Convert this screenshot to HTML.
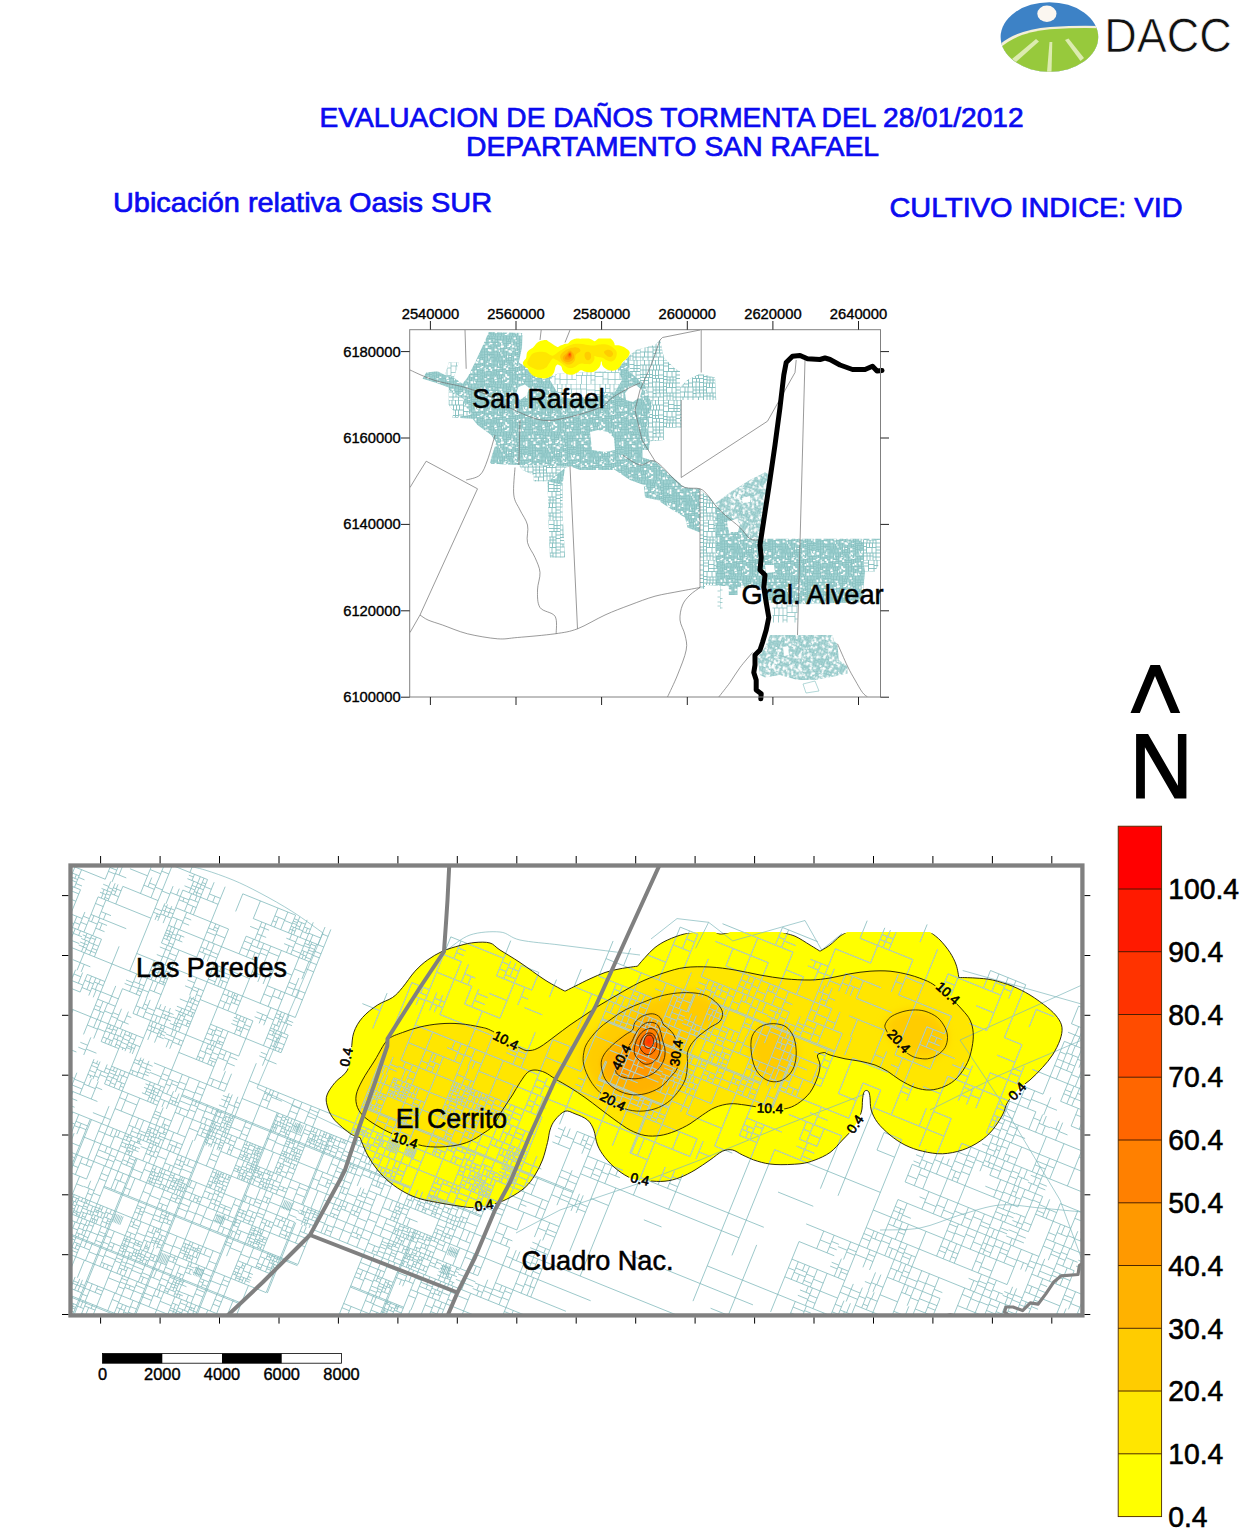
<!DOCTYPE html>
<html><head><meta charset="utf-8"><title>DACC</title>
<style>
html,body{margin:0;padding:0;background:#fff;}
body{width:1240px;height:1533px;overflow:hidden;font-family:"Liberation Sans",sans-serif;}
svg{display:block;}
text{font-family:"Liberation Sans",sans-serif;}
</style></head><body>
<svg width="1240" height="1533" viewBox="0 0 1240 1533">
<g id="logo">
<clipPath id="lgc"><ellipse cx="1049.4" cy="37" rx="48.8" ry="34.8"/></clipPath>
<g clip-path="url(#lgc)">
<rect x="1000" y="0" width="100" height="75" fill="#3d82c6"/>
<path d="M998 46 Q1015 30 1050 27 Q1080 25 1100 26 L1100 80 L998 80Z" fill="#f4efd8"/>
<path d="M998 50 Q1015 32.5 1050 29.3 Q1080 27.3 1100 28.3 L1100 80 L998 80Z" fill="#97c93c"/>
<path d="M1036 39 L1012 59 L1016 62 L1039 41.5Z" fill="#dcebb0"/>
<path d="M1049.5 42 L1047 72 L1051.5 72 L1052.3 42Z" fill="#dcebb0"/>
<path d="M1065 40 L1080.5 61 L1084 58 L1068.5 38.5Z" fill="#dcebb0"/>
<ellipse cx="1046.9" cy="13.8" rx="9.6" ry="8.2" fill="#fbf6f0"/>
</g></g>
<text id="dacc" x="1104.3" y="52.4" font-size="48" fill="#111" stroke="#fff" stroke-width="0.7" textLength="127.5" lengthAdjust="spacingAndGlyphs">DACC</text>
<text id="t1" stroke="#0b0bf0" stroke-width="0.7" x="319.6" y="127.3" font-size="27" fill="#0b0bf0" textLength="704" lengthAdjust="spacingAndGlyphs">EVALUACION DE DAÑOS TORMENTA DEL 28/01/2012</text>
<text id="t2" stroke="#0b0bf0" stroke-width="0.7" x="466" y="155.6" font-size="27" fill="#0b0bf0" textLength="413" lengthAdjust="spacingAndGlyphs">DEPARTAMENTO SAN RAFAEL</text>
<text id="t3" stroke="#0b0bf0" stroke-width="0.7" x="113" y="212.3" font-size="28.3" fill="#0b0bf0" textLength="379" lengthAdjust="spacingAndGlyphs">Ubicación relativa Oasis SUR</text>
<text id="t4" stroke="#0b0bf0" stroke-width="0.7" x="889.5" y="217.4" font-size="28" fill="#0b0bf0" textLength="293" lengthAdjust="spacingAndGlyphs">CULTIVO INDICE: VID</text>
<defs>
<clipPath id="c104"><path d="M387.5 1040C392.1 1035.4 397.1 1034.7 402.5 1032.5C407.9 1030.3 413.8 1028.5 420 1027C426.2 1025.5 433.3 1024.3 440 1023.8C446.7 1023.2 453.3 1023.2 460 1023.8C466.7 1024.3 474.6 1025.8 480 1027C485.4 1028.2 485.8 1027.8 492.5 1031.2C499.2 1034.8 513.8 1044.8 520 1048C526.2 1051.2 526.7 1050.7 530 1050.5C533.3 1050.3 535.8 1049.4 540 1047C544.2 1044.6 550 1039.9 555 1036.2C560 1032.6 565 1028.5 570 1025C575 1021.5 580 1018.3 585 1015C590 1011.7 595 1008.1 600 1005C605 1001.9 610 999.2 615 996.2C620 993.3 625 990.2 630 987.5C635 984.8 639.2 982.5 645 980C650.8 977.5 658.3 974.6 665 972.5C671.7 970.4 677.5 968.4 685 967.5C692.5 966.6 701.7 966.6 710 967C718.3 967.4 726.7 968.7 735 970C743.3 971.3 751.7 973.5 760 975C768.3 976.5 776.7 977.9 785 978.8C793.3 979.6 802.5 980.1 810 980C817.5 979.9 823.3 979 830 978C836.7 977 843.3 974.9 850 973.8C856.7 972.6 863.3 971.7 870 971.2C876.7 970.8 883.3 970.6 890 971.2C896.7 971.9 903.8 973.3 910 975C916.2 976.7 922.9 979.2 927.5 981.2C932.1 983.3 933.8 984.8 937.5 987.5C941.2 990.2 945.8 993.8 950 997.5C954.2 1001.2 959.2 1006.2 962.5 1010C965.8 1013.8 968.2 1016.2 970 1020C971.8 1023.8 972.9 1027.9 973.2 1032.5C973.6 1037.1 973 1042.5 972 1047.5C971 1052.5 969.9 1057.5 967.5 1062.5C965.1 1067.5 961.2 1073.5 957.5 1077.5C953.8 1081.5 949.6 1084.2 945 1086.2C940.4 1088.3 935 1089.8 930 1090C925 1090.2 920 1089.2 915 1087.5C910 1085.8 904.6 1082.7 900 1080C895.4 1077.3 891.7 1073.8 887.5 1071.2C883.3 1068.8 879.6 1066.7 875 1065C870.4 1063.3 865 1062.3 860 1061.2C855 1060.2 850 1059.8 845 1058.8C840 1057.7 833.3 1056 830 1055C826.7 1054 825 1052.5 825 1052.5C825 1052.5 818.3 1052.9 817.5 1055C816.7 1057.1 820 1061.2 820 1065C820 1068.8 819.2 1072.9 817.5 1077.5C815.8 1082.1 813.3 1088.1 810 1092.5C806.7 1096.9 801.7 1101 797.5 1103.8C793.3 1106.5 789.6 1108 785 1108.8C780.4 1109.5 774.6 1108.3 770 1108C765.4 1107.7 761.7 1107.5 757.5 1107C753.3 1106.5 749.6 1105.5 745 1105C740.4 1104.5 735 1103.3 730 1103.8C725 1104.2 719.6 1105.6 715 1107.5C710.4 1109.4 706.7 1112.3 702.5 1115C698.3 1117.7 694.6 1121 690 1123.8C685.4 1126.5 680 1129.3 675 1131.2C670 1133.2 665 1134.8 660 1135.5C655 1136.2 650 1136.4 645 1135.5C640 1134.6 635 1132.6 630 1130C625 1127.4 620 1123.5 615 1120C610 1116.5 605 1112.5 600 1108.8C595 1105 590 1101 585 1097.5C580 1094 575 1090.6 570 1087.5C565 1084.4 559.2 1081.2 555 1078.8C550.8 1076.2 548.3 1074 545 1072.5C541.7 1071 537.9 1070 535 1070C532.1 1070 530 1070.4 527.5 1072.5C525 1074.6 522.5 1078.8 520 1082.5C517.5 1086.2 515.4 1090.4 512.5 1095C509.6 1099.6 505.8 1104.8 502.5 1110C499.2 1115.2 495.8 1122.3 492.5 1126.2C489.2 1130.2 486.2 1131.2 482.5 1133.8C478.8 1136.2 474.6 1139.3 470 1141.2C465.4 1143.2 460.8 1144.5 455 1145.5C449.2 1146.5 441.2 1147.2 435 1147C428.8 1146.8 424.2 1146.5 417.5 1144.5C410.8 1142.5 401.2 1137.8 395 1135C388.8 1132.2 385 1130.4 380 1127.5C375 1124.6 368.8 1120.8 365 1117.5C361.2 1114.2 359 1111.2 357.5 1107.5C356 1103.8 355.4 1099.6 356.2 1095C357.1 1090.4 359.4 1085.8 362.5 1080C365.6 1074.2 370.8 1066.7 375 1060C379.2 1053.3 382.9 1044.6 387.5 1040Z"/></clipPath>
<clipPath id="c04"><path d="M442.5 951.2C447.9 948.8 454.6 947 460 945.5C465.4 944 470 942.9 475 942.5C480 942.1 485.8 941.8 490 943C494.2 944.2 495 946.8 500 950C505 953.2 512.5 957.5 520 962.5C527.5 967.5 537.5 975.2 545 980C552.5 984.8 565 991.2 565 991.2C565 991.2 570.8 988.3 575 986.2C579.2 984.2 585 981 590 978.8C595 976.5 600 974.2 605 972.5C610 970.8 614.6 969.8 620 968.8C625.4 967.7 637.5 966.2 637.5 966.2C637.5 966.2 642.1 960.6 645 957.5C647.9 954.4 651.2 950.4 655 947.5C658.8 944.6 662.5 942.3 667.5 940C672.5 937.7 679.6 935.1 685 933.8C690.4 932.4 700 932 700 932C700 932 715 932 715 932C715 932 717.9 933.8 720 934C722.1 934.2 725.8 933.3 727.5 933C729.2 932.7 730 932 730 932C730 932 780 932 780 932C780 932 790 934.1 795 936.2C800 938.4 805.8 942.5 810 945C814.2 947.5 820 951.2 820 951.2C820 951.2 826.7 947.5 830 945C833.3 942.5 837.1 938.4 840 936.2C842.9 934.1 847.5 932 847.5 932C847.5 932 930 932 930 932C930 932 936.7 936.6 940 940C943.3 943.4 947.3 948.3 950 952.5C952.7 956.7 954.8 960.8 956.2 965C957.7 969.2 958.8 977.5 958.8 977.5C958.8 977.5 969.4 977.6 975 978C980.6 978.4 986.2 978.6 992.5 980C998.8 981.4 1006.2 983.8 1012.5 986.2C1018.8 988.8 1024.2 991.5 1030 995C1035.8 998.5 1042.9 1003.8 1047.5 1007.5C1052.1 1011.2 1055.1 1014.2 1057.5 1017.5C1059.9 1020.8 1061.6 1023.8 1062 1027.5C1062.4 1031.2 1061.6 1035.4 1060 1040C1058.4 1044.6 1055.4 1050.4 1052.5 1055C1049.6 1059.6 1046.2 1063.3 1042.5 1067.5C1038.8 1071.7 1034.2 1076.2 1030 1080C1025.8 1083.8 1021.2 1086.2 1017.5 1090C1013.8 1093.8 1010 1098.3 1007.5 1102.5C1005 1106.7 1005 1110.4 1002.5 1115C1000 1119.6 996.2 1125.6 992.5 1130C988.8 1134.4 985 1137.9 980 1141.2C975 1144.6 968.8 1147.9 962.5 1150C956.2 1152.1 949.2 1153.5 942.5 1153.8C935.8 1154 928.8 1152.7 922.5 1151.2C916.2 1149.8 910.4 1147.7 905 1145C899.6 1142.3 894.6 1138.8 890 1135C885.4 1131.2 880.6 1126.7 877.5 1122.5C874.4 1118.3 872.5 1114.2 871.2 1110C870 1105.8 870.4 1100.5 870 1097.5C869.6 1094.5 869.4 1093.2 868.8 1092C868.1 1090.8 867.1 1090.4 866.2 1090.5C865.4 1090.6 864.4 1090.9 863.8 1092.5C863.1 1094.1 862.9 1096.7 862.5 1100C862.1 1103.3 862.7 1107.9 861.2 1112.5C859.8 1117.1 856.9 1122.9 853.8 1127.5C850.6 1132.1 846.5 1135.8 842.5 1140C838.5 1144.2 834.6 1149.2 830 1152.5C825.4 1155.8 820 1158.1 815 1160C810 1161.9 806.7 1163 800 1163.8C793.3 1164.5 782.1 1164.9 775 1164.5C767.9 1164.1 762.9 1162.8 757.5 1161.2C752.1 1159.7 746.7 1156.9 742.5 1155C738.3 1153.1 735.8 1150.6 732.5 1150C729.2 1149.4 726.2 1149.6 722.5 1151.2C718.8 1152.9 714.6 1156.9 710 1160C705.4 1163.1 700 1167.1 695 1170C690 1172.9 685 1175.6 680 1177.5C675 1179.4 670.4 1180.7 665 1181.2C659.6 1181.8 652.9 1181.2 647.5 1180.8C642.1 1180.3 637.5 1180.5 632.5 1178.8C627.5 1177 622.1 1173.5 617.5 1170C612.9 1166.5 608.3 1161.7 605 1157.5C601.7 1153.3 599.4 1149.6 597.5 1145C595.6 1140.4 595.4 1134.2 593.8 1130C592.1 1125.8 590.6 1122.7 587.5 1120C584.4 1117.3 578.8 1115.2 575 1113.8C571.2 1112.3 568.3 1110.2 565 1111.2C561.7 1112.3 557.5 1116.9 555 1120C552.5 1123.1 551.2 1126.2 550 1130C548.8 1133.8 548.8 1137.5 547.5 1142.5C546.2 1147.5 544.6 1154.6 542.5 1160C540.4 1165.4 537.9 1170.4 535 1175C532.1 1179.6 529.2 1183.8 525 1187.5C520.8 1191.2 515 1194.8 510 1197.5C505 1200.2 500.8 1202.1 495 1203.8C489.2 1205.4 480.8 1207.1 475 1207.5C469.2 1207.9 466.2 1207.1 460 1206.2C453.8 1205.4 444.2 1203.8 437.5 1202.5C430.8 1201.2 425.4 1200.4 420 1198.8C414.6 1197.1 410 1195.2 405 1192.5C400 1189.8 394.6 1186.2 390 1182.5C385.4 1178.8 381.2 1174.6 377.5 1170C373.8 1165.4 370.4 1160.4 367.5 1155C364.6 1149.6 360 1137.5 360 1137.5C360 1137.5 355.4 1136.7 352.5 1135C349.6 1133.3 345.8 1130.4 342.5 1127.5C339.2 1124.6 335.1 1121.2 332.5 1117.5C329.9 1113.8 327.9 1108.8 327 1105C326.1 1101.2 325.7 1098.8 327 1095C328.3 1091.2 331.6 1086.7 335 1082.5C338.4 1078.3 344.8 1075.4 347.5 1070C350.2 1064.6 350.2 1056.2 351.2 1050C352.3 1043.8 351.9 1037.9 353.8 1032.5C355.6 1027.1 358.5 1022.1 362.5 1017.5C366.5 1012.9 372.5 1008.3 377.5 1005C382.5 1001.7 388.3 1000.4 392.5 997.5C396.7 994.6 398.8 991.9 402.5 987.5C406.2 983.1 410.8 975.8 415 971.2C419.2 966.7 422.9 963.3 427.5 960C432.1 956.7 437.1 953.7 442.5 951.2Z"/></clipPath>
<filter id="b7" x="-30%" y="-30%" width="160%" height="160%"><feGaussianBlur stdDeviation="4.5"/></filter>
<filter id="b4" x="-30%" y="-30%" width="160%" height="160%"><feGaussianBlur stdDeviation="2.8"/></filter>
<filter id="b25" x="-30%" y="-30%" width="160%" height="160%"><feGaussianBlur stdDeviation="1.8"/></filter>
<filter id="b12" x="-30%" y="-30%" width="160%" height="160%"><feGaussianBlur stdDeviation="1.0"/></filter>
<g id="fills">
<path d="M442.5 951.2C447.9 948.8 454.6 947 460 945.5C465.4 944 470 942.9 475 942.5C480 942.1 485.8 941.8 490 943C494.2 944.2 495 946.8 500 950C505 953.2 512.5 957.5 520 962.5C527.5 967.5 537.5 975.2 545 980C552.5 984.8 565 991.2 565 991.2C565 991.2 570.8 988.3 575 986.2C579.2 984.2 585 981 590 978.8C595 976.5 600 974.2 605 972.5C610 970.8 614.6 969.8 620 968.8C625.4 967.7 637.5 966.2 637.5 966.2C637.5 966.2 642.1 960.6 645 957.5C647.9 954.4 651.2 950.4 655 947.5C658.8 944.6 662.5 942.3 667.5 940C672.5 937.7 679.6 935.1 685 933.8C690.4 932.4 700 932 700 932C700 932 715 932 715 932C715 932 717.9 933.8 720 934C722.1 934.2 725.8 933.3 727.5 933C729.2 932.7 730 932 730 932C730 932 780 932 780 932C780 932 790 934.1 795 936.2C800 938.4 805.8 942.5 810 945C814.2 947.5 820 951.2 820 951.2C820 951.2 826.7 947.5 830 945C833.3 942.5 837.1 938.4 840 936.2C842.9 934.1 847.5 932 847.5 932C847.5 932 930 932 930 932C930 932 936.7 936.6 940 940C943.3 943.4 947.3 948.3 950 952.5C952.7 956.7 954.8 960.8 956.2 965C957.7 969.2 958.8 977.5 958.8 977.5C958.8 977.5 969.4 977.6 975 978C980.6 978.4 986.2 978.6 992.5 980C998.8 981.4 1006.2 983.8 1012.5 986.2C1018.8 988.8 1024.2 991.5 1030 995C1035.8 998.5 1042.9 1003.8 1047.5 1007.5C1052.1 1011.2 1055.1 1014.2 1057.5 1017.5C1059.9 1020.8 1061.6 1023.8 1062 1027.5C1062.4 1031.2 1061.6 1035.4 1060 1040C1058.4 1044.6 1055.4 1050.4 1052.5 1055C1049.6 1059.6 1046.2 1063.3 1042.5 1067.5C1038.8 1071.7 1034.2 1076.2 1030 1080C1025.8 1083.8 1021.2 1086.2 1017.5 1090C1013.8 1093.8 1010 1098.3 1007.5 1102.5C1005 1106.7 1005 1110.4 1002.5 1115C1000 1119.6 996.2 1125.6 992.5 1130C988.8 1134.4 985 1137.9 980 1141.2C975 1144.6 968.8 1147.9 962.5 1150C956.2 1152.1 949.2 1153.5 942.5 1153.8C935.8 1154 928.8 1152.7 922.5 1151.2C916.2 1149.8 910.4 1147.7 905 1145C899.6 1142.3 894.6 1138.8 890 1135C885.4 1131.2 880.6 1126.7 877.5 1122.5C874.4 1118.3 872.5 1114.2 871.2 1110C870 1105.8 870.4 1100.5 870 1097.5C869.6 1094.5 869.4 1093.2 868.8 1092C868.1 1090.8 867.1 1090.4 866.2 1090.5C865.4 1090.6 864.4 1090.9 863.8 1092.5C863.1 1094.1 862.9 1096.7 862.5 1100C862.1 1103.3 862.7 1107.9 861.2 1112.5C859.8 1117.1 856.9 1122.9 853.8 1127.5C850.6 1132.1 846.5 1135.8 842.5 1140C838.5 1144.2 834.6 1149.2 830 1152.5C825.4 1155.8 820 1158.1 815 1160C810 1161.9 806.7 1163 800 1163.8C793.3 1164.5 782.1 1164.9 775 1164.5C767.9 1164.1 762.9 1162.8 757.5 1161.2C752.1 1159.7 746.7 1156.9 742.5 1155C738.3 1153.1 735.8 1150.6 732.5 1150C729.2 1149.4 726.2 1149.6 722.5 1151.2C718.8 1152.9 714.6 1156.9 710 1160C705.4 1163.1 700 1167.1 695 1170C690 1172.9 685 1175.6 680 1177.5C675 1179.4 670.4 1180.7 665 1181.2C659.6 1181.8 652.9 1181.2 647.5 1180.8C642.1 1180.3 637.5 1180.5 632.5 1178.8C627.5 1177 622.1 1173.5 617.5 1170C612.9 1166.5 608.3 1161.7 605 1157.5C601.7 1153.3 599.4 1149.6 597.5 1145C595.6 1140.4 595.4 1134.2 593.8 1130C592.1 1125.8 590.6 1122.7 587.5 1120C584.4 1117.3 578.8 1115.2 575 1113.8C571.2 1112.3 568.3 1110.2 565 1111.2C561.7 1112.3 557.5 1116.9 555 1120C552.5 1123.1 551.2 1126.2 550 1130C548.8 1133.8 548.8 1137.5 547.5 1142.5C546.2 1147.5 544.6 1154.6 542.5 1160C540.4 1165.4 537.9 1170.4 535 1175C532.1 1179.6 529.2 1183.8 525 1187.5C520.8 1191.2 515 1194.8 510 1197.5C505 1200.2 500.8 1202.1 495 1203.8C489.2 1205.4 480.8 1207.1 475 1207.5C469.2 1207.9 466.2 1207.1 460 1206.2C453.8 1205.4 444.2 1203.8 437.5 1202.5C430.8 1201.2 425.4 1200.4 420 1198.8C414.6 1197.1 410 1195.2 405 1192.5C400 1189.8 394.6 1186.2 390 1182.5C385.4 1178.8 381.2 1174.6 377.5 1170C373.8 1165.4 370.4 1160.4 367.5 1155C364.6 1149.6 360 1137.5 360 1137.5C360 1137.5 355.4 1136.7 352.5 1135C349.6 1133.3 345.8 1130.4 342.5 1127.5C339.2 1124.6 335.1 1121.2 332.5 1117.5C329.9 1113.8 327.9 1108.8 327 1105C326.1 1101.2 325.7 1098.8 327 1095C328.3 1091.2 331.6 1086.7 335 1082.5C338.4 1078.3 344.8 1075.4 347.5 1070C350.2 1064.6 350.2 1056.2 351.2 1050C352.3 1043.8 351.9 1037.9 353.8 1032.5C355.6 1027.1 358.5 1022.1 362.5 1017.5C366.5 1012.9 372.5 1008.3 377.5 1005C382.5 1001.7 388.3 1000.4 392.5 997.5C396.7 994.6 398.8 991.9 402.5 987.5C406.2 983.1 410.8 975.8 415 971.2C419.2 966.7 422.9 963.3 427.5 960C432.1 956.7 437.1 953.7 442.5 951.2Z" fill="#ffff00"/>
<g clip-path="url(#c104)">
<rect x="340" y="950" width="650" height="210" fill="#ffe600"/>
<g filter="url(#b7)">
<path d="M583.8 1052.5C584.4 1048.8 585.2 1046.2 587.5 1042.5C589.8 1038.8 593.8 1033.8 597.5 1030C601.2 1026.2 605.4 1023.3 610 1020C614.6 1016.7 619.6 1012.9 625 1010C630.4 1007.1 636.7 1004.8 642.5 1002.5C648.3 1000.2 654.2 997.8 660 996.2C665.8 994.7 671.7 993.5 677.5 993C683.3 992.5 690 992.5 695 993C700 993.5 703.8 994.5 707.5 996.2C711.2 998 715 1001 717.5 1003.8C720 1006.5 722.1 1009.6 722.5 1012.5C722.9 1015.4 722.1 1018.8 720 1021.2C717.9 1023.8 713.3 1025.2 710 1027.5C706.7 1029.8 702.9 1032.5 700 1035C697.1 1037.5 694.6 1039.6 692.5 1042.5C690.4 1045.4 688.3 1048.8 687.5 1052.5C686.7 1056.2 687.9 1060.4 687.5 1065C687.1 1069.6 686.7 1075.4 685 1080C683.3 1084.6 680.4 1088.8 677.5 1092.5C674.6 1096.2 671.2 1099.8 667.5 1102.5C663.8 1105.2 659.6 1107.3 655 1108.8C650.4 1110.2 645 1111.2 640 1111.2C635 1111.2 629.6 1110.4 625 1108.8C620.4 1107.1 616.7 1104 612.5 1101.2C608.3 1098.5 603.8 1096 600 1092.5C596.2 1089 592.7 1084.6 590 1080C587.3 1075.4 584.8 1069.6 583.8 1065C582.7 1060.4 583.1 1056.2 583.8 1052.5Z" fill="#ffcc00"/>
<path d="M751.2 1040C752.1 1034.8 754.4 1031.5 757.5 1028.8C760.6 1026 765.4 1024.2 770 1023.8C774.6 1023.3 781 1024 785 1026.2C789 1028.5 791.9 1032.7 793.8 1037.5C795.6 1042.3 796.5 1049.6 796.2 1055C796 1060.4 794.8 1065.8 792.5 1070C790.2 1074.2 786.2 1078.1 782.5 1080C778.8 1081.9 774 1082.3 770 1081.2C766 1080.2 761.7 1077.3 758.8 1073.8C755.8 1070.2 753.8 1065.6 752.5 1060C751.2 1054.4 750.4 1045.2 751.2 1040Z" fill="#ffcc00"/>
<path d="M885 1025C885.6 1022.9 887.5 1019.6 890 1017.5C892.5 1015.4 896.2 1013.8 900 1012.5C903.8 1011.2 908.3 1010.2 912.5 1010C916.7 1009.8 920.8 1010 925 1011.2C929.2 1012.5 934.2 1014.8 937.5 1017.5C940.8 1020.2 943.3 1024.2 945 1027.5C946.7 1030.8 947.5 1034.2 947.5 1037.5C947.5 1040.8 946.7 1044.6 945 1047.5C943.3 1050.4 940.4 1053.1 937.5 1055C934.6 1056.9 930.8 1058.2 927.5 1058.8C924.2 1059.2 920.4 1058.6 917.5 1058C914.6 1057.4 912.9 1056.8 910 1055C907.1 1053.2 903.3 1050.6 900 1047.5C896.7 1044.4 892.3 1039.2 890 1036.2C887.7 1033.3 887.1 1031.9 886.2 1030C885.4 1028.1 884.4 1027.1 885 1025Z" fill="#ffcc00"/>
</g>
<path d="M601.2 1065C601 1061 601.9 1058.3 603.8 1055C605.6 1051.7 609 1048.3 612.5 1045C616 1041.7 621.7 1037.5 625 1035C628.3 1032.5 630.8 1032.1 632.5 1030C634.2 1027.9 633.3 1024.8 635 1022.5C636.7 1020.2 639.6 1017.7 642.5 1016.2C645.4 1014.8 649.6 1013.5 652.5 1013.8C655.4 1014 658.1 1015.6 660 1017.5C661.9 1019.4 662.1 1022.9 663.8 1025C665.4 1027.1 668.1 1027.9 670 1030C671.9 1032.1 673.7 1033.8 675 1037.5C676.3 1041.2 677.6 1047.5 678 1052.5C678.4 1057.5 678.8 1063.3 677.5 1067.5C676.2 1071.7 672.9 1074.2 670 1077.5C667.1 1080.8 664.2 1084.8 660 1087.5C655.8 1090.2 650 1092.6 645 1093.8C640 1094.9 635 1095.3 630 1094.5C625 1093.7 619.2 1091.4 615 1088.8C610.8 1086.1 607.3 1082.7 605 1078.8C602.7 1074.8 601.5 1069 601.2 1065Z" fill="#ffb200" filter="url(#b4)"/>
<path d="M616.2 1072.5C615.2 1070.3 615.2 1067.1 616.2 1063.8C617.3 1060.4 620 1056 622.5 1052.5C625 1049 629.2 1045.4 631.2 1042.5C633.3 1039.6 633.5 1037.5 635 1035C636.5 1032.5 637.9 1029.6 640 1027.5C642.1 1025.4 644.8 1023.1 647.5 1022.5C650.2 1021.9 654.2 1022.5 656.2 1023.8C658.3 1025 659 1027.3 660 1030C661 1032.7 661.7 1036.7 662.5 1040C663.3 1043.3 664.8 1046.7 665 1050C665.2 1053.3 665 1056.7 663.8 1060C662.5 1063.3 660.2 1067.3 657.5 1070C654.8 1072.7 651.2 1074.8 647.5 1076.2C643.8 1077.7 639.2 1078.6 635 1078.8C630.8 1078.9 625.6 1078 622.5 1077C619.4 1076 617.3 1074.7 616.2 1072.5Z" fill="#ff9900" filter="url(#b25)"/>
<g filter="url(#b12)">
<path d="M635 1055C633.5 1051.9 634.4 1048.1 635 1045C635.6 1041.9 637.1 1038.8 638.8 1036.2C640.4 1033.8 642.7 1031.2 645 1030C647.3 1028.8 650.4 1028.1 652.5 1028.8C654.6 1029.4 656.2 1031 657.5 1033.8C658.8 1036.5 659.8 1041.5 660 1045C660.2 1048.5 660 1052.1 658.8 1055C657.5 1057.9 655 1061 652.5 1062.5C650 1064 646.7 1065 643.8 1063.8C640.8 1062.5 636.5 1058.1 635 1055Z" fill="#ff8000"/>
<path d="M640 1047.5C639.4 1045.2 640.2 1042.3 641.2 1040C642.3 1037.7 644.4 1034.8 646.2 1033.8C648.1 1032.7 650.8 1032.7 652.5 1033.8C654.2 1034.8 655.6 1037.7 656.2 1040C656.9 1042.3 657.1 1045.2 656.2 1047.5C655.4 1049.8 653.1 1052.7 651.2 1053.8C649.4 1054.8 646.9 1054.8 645 1053.8C643.1 1052.7 640.6 1049.8 640 1047.5Z" fill="#ff6600"/>
<path d="M643.8 1042.5C643.8 1040.5 645 1037.4 646.2 1036.2C647.5 1035.1 650 1034.7 651.2 1035.5C652.5 1036.3 653.8 1039.2 653.8 1041.2C653.8 1043.2 652.5 1046.4 651.2 1047.5C650 1048.6 647.5 1048.8 646.2 1048C645 1047.2 643.8 1044.5 643.8 1042.5Z" fill="#ff4c00"/>
<path d="M646.5 1041.5C646.4 1040.3 647.8 1038.1 648.5 1038C649.2 1037.9 650.9 1039.8 651 1041C651.1 1042.2 649.8 1044.9 649 1045C648.2 1045.1 646.6 1042.7 646.5 1041.5Z" fill="#ff3300"/>
</g>
</g>
</g>
</defs>
<defs>
<pattern id="pd" width="48" height="48" patternUnits="userSpaceOnUse"><rect width="48" height="48" fill="#a2d2d2"/><path d="M0 0H48M0 0V48M39.5 0V48M0 16H39.5M2 0V16M0 14H2M0 5.5H2M0 2.5H2M0 11H2M0 8.5H2M20.5 0V16M7 0V16M2 6.5H7M2 4H7M4.5 0V4M2 2H4.5M4.5 4V6.5M2 9.5H7M4.5 6.5V9.5M2 13H7M4 9.5V13M4.5 13V16M7 6.5H20.5M15 0V6.5M12 0V6.5M7 2.5H12M9.5 0V2.5M9 2.5V6.5M12 4.5H15M12 2.5H15M15 3.5H20.5M17.5 0V3.5M17.5 3.5V6.5M11 6.5V16M7 10.5H11M7 12.5H11M14 6.5V16M11 12H14M11 8.5H14M11 14H14M14 10H20.5M18 6.5V10M16 6.5V10M16.5 10V16M14 13.5H16.5M16.5 12.5H20.5M26.5 0V16M20.5 4H26.5M23.5 0V4M23.5 2H26.5M20.5 12.5H26.5M20.5 7.5H26.5M23 4V7.5M24 7.5V12.5M20.5 9.5H24M24 10H26.5M23.5 12.5V16M26.5 10.5H39.5M36.5 0V10.5M26.5 3H36.5M29.5 0V3M33.5 0V3M31.5 0V3M34 3V10.5M30.5 3V10.5M26.5 7.5H30.5M26.5 5.5H30.5M28.5 3V5.5M30.5 6.5H34M30.5 8.5H34M34 7H36.5M34 5H36.5M36.5 5H39.5M36.5 3H39.5M36.5 7.5H39.5M29.5 10.5V16M26.5 13.5H29.5M37.5 10.5V16M33.5 10.5V16M29.5 14H33.5M31.5 14V16M33.5 12.5H37.5M35.5 12.5V16M37.5 13.5H39.5M4.5 16V48M0 40H4.5M0 32H4.5M0 19H4.5M2 16V19M0 28H4.5M0 21.5H4.5M2 19V21.5M0 24H4.5M2.5 21.5V24M2.5 24V28M0 26H2.5M2.5 26H4.5M2.5 28V32M2.5 30H4.5M0 37H4.5M0 34.5H4.5M2.5 32V34.5M2.5 34.5V37M2 37V40M0 43H4.5M2.5 40V43M0 45.5H4.5M2 43V45.5M2 45.5V48M35.5 16V48M4.5 39H35.5M26.5 16V39M4.5 25H26.5M14 16V25M7.5 16V25M4.5 18.5H7.5M4.5 21H7.5M7.5 21.5H14M12 16V21.5M7.5 18.5H12M10 16V18.5M9.5 18.5V21.5M12 18.5H14M10 21.5V25M22 16V25M14 21H22M17.5 16V21M14 19H17.5M17.5 19H22M19.5 16V19M20 19V21M19 21V25M16 21V25M14 23H16M16 23H19M22 20H26.5M24 16V20M22 18H24M22 23H26.5M24.5 20V23M24.5 23V25M22.5 25V39M11 25V39M4.5 35.5H11M4.5 30H11M9 25V30M4.5 27H9M7 25V27M7 27V30M9 27.5H11M8 30V35.5M4.5 32.5H8M8 33.5H11M7 35.5V39M11 31.5H22.5M14 25V31.5M11 29H14M17.5 25V31.5M14 29H17.5M17.5 28.5H22.5M20 25V28.5M20.5 28.5V31.5M16.5 31.5V39M11 34.5H16.5M14 31.5V34.5M14 34.5V39M11 37H14M14 37H16.5M16.5 35.5H22.5M19 31.5V35.5M16.5 33.5H19M19 33.5H22.5M19 35.5V39M22.5 36H26.5M22.5 31H26.5M22.5 29H26.5M24.5 25V29M22.5 27H24.5M24.5 27H26.5M22.5 33.5H26.5M26.5 27H35.5M26.5 24.5H35.5M31.5 16V24.5M26.5 19.5H31.5M29 16V19.5M28.5 19.5V24.5M26.5 22H28.5M28.5 21.5H31.5M31.5 20.5H35.5M31.5 18H35.5M33.5 20.5V24.5M31 24.5V27M29 24.5V27M33.5 24.5V27M26.5 32.5H35.5M32.5 27V32.5M29.5 27V32.5M26.5 30H29.5M29.5 29H32.5M32.5 29.5H35.5M30 32.5V39M26.5 34.5H30M26.5 37H30M30 36.5H35.5M33 32.5V36.5M30 34.5H33M33 34.5H35.5M32.5 36.5V39M30 39V48M21.5 39V48M15.5 39V48M11 39V48M4.5 45.5H11M6.5 39V45.5M4.5 41.5H6.5M6.5 41H11M8.5 39V41M9 41V45.5M6.5 43H9M9 43H11M6.5 45.5V48M8.5 45.5V48M11 42.5H15.5M13 39V42.5M11 46H15.5M13.5 42.5V46M13.5 46V48M15.5 42.5H21.5M17.5 39V42.5M19.5 39V42.5M18 42.5V48M15.5 45.5H18M18 46H21.5M21.5 41.5H30M25 39V41.5M28 39V41.5M26 41.5V48M21.5 45H26M23.5 41.5V45M24 45V48M26 45H30M28 41.5V45M30 43H35.5M32.5 39V43M30 41H32.5M32.5 43V48M30 45H32.5M32.5 46H35.5M35.5 38.5H39.5M35.5 29H39.5M35.5 18.5H39.5M37.5 16V18.5M35.5 23H39.5M35.5 20.5H39.5M35.5 26H39.5M37.5 26V29M35.5 35.5H39.5M35.5 31.5H39.5M37.5 29V31.5M37.5 31.5V35.5M35.5 41H39.5M37.5 38.5V41M35.5 44.5H39.5M37.5 41V44.5M37.5 44.5V48M39.5 9H48M39.5 4H48M46 0V4M43 0V4M42 4V9M39.5 6.5H42M44.5 4V9M42 6.5H44.5M44.5 6.5H48M39.5 45.5H48M39.5 13H48M43 9V13M45.5 9V13M39.5 15.5H48M43.5 13V15.5M45.5 13V15.5M39.5 38.5H48M39.5 34H48M39.5 28.5H48M39.5 17.5H48M45.5 15.5V17.5M42 15.5V17.5M39.5 25H48M44 17.5V25M39.5 21.5H44M41.5 17.5V21.5M39.5 19.5H41.5M41.5 21.5V25M44 20H48M44 22.5H48M46 20V22.5M46 22.5V25M43.5 25V28.5M46 25V28.5M44.5 28.5V34M39.5 31H44.5M41.5 28.5V31M42 31V34M44.5 31H48M45.5 34V38.5M42.5 34V38.5M39.5 36H42.5M42.5 36H45.5M45.5 36H48M42 38.5V45.5M39.5 42H42M42 43H48M45.5 38.5V43M42 41H45.5M45.5 41H48M45.5 43V45.5M44.5 45.5V48M42 45.5V48" stroke="#84bfbf" stroke-width="0.7" fill="none"/><path d="M24.7 29.2h2.2v0.8h-2.2zM28.6 14.3h2.2v2.3h-2.2zM7.4 40.6h1.9v1.5h-1.9zM43 23.2h0.8v2h-0.8zM9.2 13.4h2.2v2.1h-2.2zM36.5 29.9h1.8v1.1h-1.8zM25.3 26.7h1.4v1h-1.4zM34.5 28.5h1.9v2h-1.9zM14.9 40.8h0.9v2.2h-0.9zM33.5 1.4h2.3v1.9h-2.3zM1.5 29.9h1.8v1.2h-1.8zM10.4 32.8h1.7v2.2h-1.7zM15.1 44.1h2v1.2h-2zM20.2 16.5h1.5v1h-1.5zM43.4 25.2h1.5v2.1h-1.5zM43.2 10.4h1.3v2.3h-1.3zM8.1 13h1.1v1.9h-1.1zM42.9 34.6h1.5v2h-1.5zM25 30.3h0.9v1.5h-0.9zM35.1 24.6h1.1v1.5h-1.1zM14.6 31h1.9v1.9h-1.9zM38.3 28.4h1.1v1.8h-1.1zM25.2 38.1h1.6v1.9h-1.6zM10.3 23.8h0.9v1.2h-0.9zM25.5 12.9h2v1.9h-2zM17.4 32.5h1.8v0.8h-1.8zM1 24.5h1.6v1.3h-1.6zM38.7 45.3h2.4v2.2h-2.4zM35.5 4.1h1v1.3h-1zM45.6 9.3h1.7v1.9h-1.7zM30.5 15.1h1.3v1.8h-1.3zM33 35.4h0.8v1.3h-0.8zM4.4 42.2h2.1v1.2h-2.1zM4.3 3.5h1.3v2.2h-1.3zM28.8 8.7h1.3v2.4h-1.3zM8.4 20.2h1.1v2h-1.1zM44.4 26h1.8v1h-1.8zM43.2 41h2.1v1.8h-2.1zM21.4 7.6h0.9v2.3h-0.9zM14.2 41.8h2.4v1.5h-2.4zM35.4 10.4h1v2.2h-1zM16.1 6.9h1.1v1.4h-1.1zM4.6 33.5h1.3v2.1h-1.3zM38.6 35.1h1.8v2.1h-1.8zM0.7 24.3h2.4v2.4h-2.4zM23.6 41.3h1.7v2.2h-1.7zM38.7 39.5h1.8v1.2h-1.8zM45.6 11.5h1.7v2.4h-1.7zM9.6 6.7h1.8v1.2h-1.8zM4.5 31.7h1.3v1.5h-1.3zM0.3 31.1h2.2v1.2h-2.2zM31.4 13.4h2.2v1.1h-2.2zM25.5 39.2h1.8v2.1h-1.8zM35.2 44.5h1.7v0.9h-1.7zM13.4 3.8h1v1h-1zM17.5 31.9h2v1h-2zM20.1 36.1h2.2v1.8h-2.2zM5.4 9.5h2.2v2.4h-2.2zM29.3 8.1h1.5v1.9h-1.5zM45.1 32h2.1v0.9h-2.1zM34.1 20.2h2.3v2h-2.3zM4.7 3.9h1v1.8h-1zM31.5 6.3h1.2v2.1h-1.2zM21.4 18h1.1v1.8h-1.1zM42.6 34.8h1.4v1.4h-1.4zM6.1 33.4h1.9v1.2h-1.9zM19.5 4.7h2.3v1.8h-2.3zM18.9 14.3h1.2v1.4h-1.2zM36.8 36h1.1v2h-1.1zM6.6 26.9h1.6v1.7h-1.6zM18.2 10.9h1.7v1.7h-1.7zM11.3 6.9h1.1v1.5h-1.1zM35.4 25.4h1.6v1.5h-1.6zM22.3 9.5h1.6v1.7h-1.6zM3.3 7.1h1.4v1.7h-1.4zM44.4 26.3h1.6v0.9h-1.6zM5.3 45.5h1.4v1.3h-1.4zM8.8 4h1.9v1.6h-1.9zM8.9 31.1h1.9v1.9h-1.9zM18.1 27.4h0.9v2.2h-0.9zM45.2 23h1.4v2.4h-1.4zM4.2 2.6h0.9v2h-0.9zM29.4 20h1.7v1.1h-1.7zM28.1 29.7h1.8v1h-1.8zM26.7 44.9h1.8v1.6h-1.8zM20.6 9.8h2.3v2h-2.3zM21 7.1h1.5v1h-1.5zM41.9 46h1.8v1h-1.8zM27.3 44h1.9v1.4h-1.9zM24.8 45.9h2.3v1.1h-2.3zM23.6 30.2h2.1v1.8h-2.1zM34.4 24.5h2v1.2h-2zM9.3 7.8h1v1.1h-1zM6.8 45.6h1.8v1.2h-1.8zM31.9 9.5h2.4v2h-2.4zM0.5 3.8h1.8v2.3h-1.8zM33.4 26.2h1.5v1.5h-1.5zM45.6 22.8h1.4v1.5h-1.4zM9.6 25.3h1.8v1.6h-1.8zM7.6 25.6h0.8v1h-0.8zM41.9 44.8h1.3v0.9h-1.3zM35.7 15.2h2.4v0.9h-2.4zM22 42.7h0.9v1.7h-0.9zM27.1 40.2h2.1v1.9h-2.1zM27 19.4h1.2v2h-1.2zM26.3 31.7h1.9v2.3h-1.9zM22.9 22.3h2.1v1.1h-2.1zM14.6 12.7h2.2v1.9h-2.2zM0.5 24.4h1.8v2.2h-1.8zM27.3 10h1.9v0.9h-1.9z" fill="#fff"/></pattern>
<pattern id="pdr" width="48" height="48" patternUnits="userSpaceOnUse" patternTransform="rotate(-18)"><rect width="48" height="48" fill="#a6d4d4"/><path d="M0 0H48M0 0V48M30.5 0V48M0 32H30.5M0 18H30.5M26.5 0V18M13.5 0V18M0 13.5H13.5M5 0V13.5M0 4H5M2 0V4M0 2H2M0 10.5H5M0 6.5H5M2.5 4V6.5M2.5 6.5V10.5M2.5 8.5H5M3 10.5V13.5M5 2.5H13.5M11 0V2.5M8.5 0V2.5M5 9H13.5M9 2.5V9M5 6H9M9 5H13.5M11 2.5V5M11 5V9M9 7H11M10.5 9V13.5M8 9V13.5M5 11.5H8M8 11.5H10.5M10.5 11.5H13.5M7 13.5V18M3 13.5V18M0 15.5H3M3 16H7M5 13.5V16M10.5 13.5V18M7 16H10.5M10.5 15.5H13.5M13.5 7H26.5M15.5 0V7M13.5 2H15.5M13.5 4.5H15.5M18 0V7M15.5 3H18M15.5 5H18M24.5 0V7M18 3.5H24.5M20.5 0V3.5M22.5 0V3.5M20.5 3.5V7M24.5 3H26.5M24.5 5H26.5M24.5 7V18M19 7V18M13.5 12H19M17 7V12M13.5 9.5H17M17 9.5H19M13.5 15.5H19M15.5 12V15.5M16.5 15.5V18M19 9.5H24.5M22 7V9.5M19 13H24.5M22 9.5V13M21.5 13V18M19 16H21.5M21.5 16H24.5M24.5 14.5H26.5M24.5 11.5H26.5M24.5 9H26.5M26.5 6H30.5M26.5 2.5H30.5M26.5 11.5H30.5M26.5 8.5H30.5M26.5 14H30.5M28.5 14V18M26.5 16H28.5M7 18V32M0 21H7M3 18V21M0 28.5H7M0 26H7M2.5 21V26M0 23.5H2.5M2.5 23.5H7M5 21V23.5M5 23.5V26M3 26V28.5M4.5 28.5V32M2 28.5V32M22 18V32M19 18V32M7 24.5H19M12 18V24.5M7 21H12M9.5 18V21M9 21V24.5M16 18V24.5M12 22H16M16 22.5H19M16 20.5H19M13 24.5V32M7 28H13M9.5 24.5V28M9.5 28V32M13 28.5H19M17 24.5V28.5M16.5 28.5V32M19 24.5H22M19 21.5H22M19 28.5H22M22 26.5H30.5M27 18V26.5M22 24H27M22 21H27M24.5 18V21M25 21V24M25 24V26.5M27 21H30.5M27 24H30.5M25.5 26.5V32M22 29H25.5M25.5 29.5H30.5M28.5 26.5V29.5M28.5 29.5V32M17.5 32V48M4.5 32V48M0 45H4.5M0 35H4.5M2.5 32V35M0 42H4.5M0 39H4.5M2.5 35V39M0 37H2.5M2.5 39V42M2 42V45M2 45V48M4.5 35.5H17.5M8.5 32V35.5M6.5 32V35.5M15.5 32V35.5M11 32V35.5M13 32V35.5M13.5 35.5V48M4.5 45H13.5M4.5 41.5H13.5M9.5 35.5V41.5M4.5 38H9.5M7.5 35.5V38M7 38V41.5M9.5 39H13.5M11.5 35.5V39M9.5 41.5V45M6.5 41.5V45M11.5 45V48M9.5 45V48M6.5 45V48M13.5 43.5H17.5M13.5 40.5H17.5M13.5 38H17.5M15.5 40.5V43.5M13.5 45.5H17.5M17.5 37.5H30.5M24 32V37.5M20 32V37.5M17.5 34.5H20M20 35.5H24M27 32V37.5M24 35.5H27M27 34H30.5M27.5 37.5V48M17.5 40H27.5M25 37.5V40M22 37.5V40M20 37.5V40M21.5 40V48M17.5 45H21.5M17.5 42.5H21.5M19.5 45V48M21.5 43H27.5M23.5 40V43M25.5 40V43M25.5 43V48M21.5 45H25.5M25.5 45.5H27.5M27.5 44H30.5M27.5 40.5H30.5M27.5 46H30.5M30.5 33.5H48M30.5 18H48M30.5 15.5H48M41 0V15.5M30.5 4H41M35.5 0V4M33 0V4M38 0V4M30.5 8.5H41M37.5 4V8.5M33 4V8.5M30.5 6.5H33M35 4V8.5M33 6H35M35 6.5H37.5M37.5 6.5H41M36.5 8.5V15.5M30.5 11.5H36.5M33.5 8.5V11.5M34 11.5V15.5M30.5 13.5H34M36.5 12H41M39 8.5V12M39 12V15.5M41 10.5H48M41 4.5H48M44 0V4.5M41 2H44M44 2H48M46 0V2M46 2V4.5M45.5 4.5V10.5M41 8H45.5M43.5 4.5V8M43.5 8V10.5M45.5 7H48M45 10.5V15.5M41 12.5H45M43 12.5V15.5M45 12.5H48M38 15.5V18M33.5 15.5V18M36 15.5V18M42 15.5V18M40 15.5V18M44.5 15.5V18M35.5 18V33.5M30.5 28H35.5M30.5 20.5H35.5M33 18V20.5M30.5 25.5H35.5M33 20.5V25.5M30.5 23.5H33M33 23H35.5M33 25.5V28M30.5 30.5H35.5M33.5 28V30.5M33 30.5V33.5M35.5 22H48M38.5 18V22M35.5 20H38.5M43 18V22M40.5 18V22M40.5 20H43M45.5 18V22M37.5 22V33.5M35.5 28.5H37.5M35.5 26H37.5M35.5 31H37.5M37.5 25H48M44 22V25M40 22V25M42 22V25M46 22V25M44.5 25V33.5M37.5 31H44.5M40.5 25V31M37.5 28.5H40.5M40.5 29H44.5M39.5 31V33.5M42 31V33.5M44.5 28.5H48M44.5 31.5H48M35 33.5V48M30.5 37H35M33 33.5V37M30.5 43H35M30.5 41H35M32.5 37V41M32.5 41V43M30.5 45.5H35M33 43V45.5M33 45.5V48M35 45.5H48M37 33.5V45.5M35 36.5H37M35 40H37M35 42.5H37M37 40H48M40 33.5V40M37 38H40M37 36H40M43 33.5V40M40 36H43M40 38H43M43 37H48M45.5 33.5V37M46 37V40M42 40V45.5M37 43H42M39.5 40V43M39 43V45.5M44 40V45.5M42 42.5H44M44 43H48M41 45.5V48M38.5 45.5V48M45.5 45.5V48M43.5 45.5V48" stroke="#86c0c0" stroke-width="0.7" fill="none"/><path d="M41.3 31.2h2.4v2.5h-2.4zM20.1 30.9h1.3v1.5h-1.3zM29.7 27.8h2.3v1.6h-2.3zM11.3 21.3h1.2v1.6h-1.2zM26.1 15.2h2.5v2h-2.5zM0.4 43.5h2.5v1.2h-2.5zM31.2 21.6h2.6v2.2h-2.6zM38.5 13.1h1.3v1.3h-1.3zM1.5 34.3h2.5v1.8h-2.5zM4 27.1h2.3v2.5h-2.3zM5.5 22.6h2.1v2.4h-2.1zM19.1 15.3h1.4v2.3h-1.4zM8.7 17.5h1.4v2h-1.4zM42.3 0.6h1.7v1h-1.7zM42 3.6h2.5v1.1h-2.5zM2.1 26.8h1.7v2.6h-1.7zM12.5 3.2h2.1v1.1h-2.1zM16.8 2.3h1.1v1.1h-1.1zM0.8 37.8h1.9v1.7h-1.9zM7.5 28.8h1.1v2.2h-1.1zM31.1 29.3h0.9v1.1h-0.9zM15.1 24.5h1.5v1.7h-1.5zM22.9 21.8h2.3v2.5h-2.3zM10.4 20.5h1.4v1.4h-1.4zM10.4 35.1h2.1v2.3h-2.1zM8.3 39.7h1.7v2.5h-1.7zM15.8 15.8h1.6v1.3h-1.6zM10.8 43.8h2.1v2.1h-2.1zM18 15.6h2.6v2.1h-2.6zM5.2 27.3h2v1.8h-2zM11.6 32.8h0.9v0.8h-0.9zM19.9 1.1h2.1v1h-2.1zM44.1 27.9h2v2.4h-2zM44.1 40.8h2.3v2.1h-2.3zM21.7 37.3h2.2v0.9h-2.2zM29.9 25.3h1.2v2.2h-1.2zM10.8 23.1h0.9v1.6h-0.9zM29.1 19.7h1.3v0.9h-1.3zM5.6 33.9h1.3v1.1h-1.3zM26.8 27.3h2v1.7h-2zM22.8 5.1h0.9v0.8h-0.9zM31 17.3h2.6v1.7h-2.6zM29 36.4h2v1h-2zM44.1 38.8h1.4v1.7h-1.4zM14.5 0.4h1.7v1h-1.7zM15 4.4h1.2v1.9h-1.2zM41.5 5.5h2.5v1h-2.5zM2.8 31.6h1.9v2.3h-1.9zM37.4 28.3h0.9v1h-0.9zM24.8 21.1h1.9v2.4h-1.9zM10.4 9.3h2v2.4h-2zM11.1 24.4h1.6v1h-1.6zM9.2 10.2h2.5v2h-2.5zM31.3 26.2h1.2v1.3h-1.2zM30.2 34.2h2.5v1.7h-2.5zM12.2 31.4h1.1v2.6h-1.1zM31 30.8h1.1v0.8h-1.1zM20 20.7h1v2.1h-1zM17.5 18.4h1v1.9h-1zM11.7 31.5h1v1h-1zM21.4 19.1h1.2v2.6h-1.2zM43.1 32.9h1.2v0.9h-1.2zM6.6 33.7h0.9v1h-0.9zM16.2 42.4h1.5v2.6h-1.5zM6.7 2.6h1.6v2.3h-1.6zM6.1 2.7h1.7v1.4h-1.7zM31.9 34.6h1v0.9h-1zM19.7 27.7h2.2v2h-2.2zM1.9 31.9h1.8v1.3h-1.8zM9.2 41.1h2.2v1.2h-2.2zM5.6 2.3h1.4v2.2h-1.4zM44.6 25.6h2.4v2.4h-2.4zM41.8 19.5h1.7v2.4h-1.7zM15.2 29.4h2.2v1h-2.2zM20.6 1.9h1.4v2.2h-1.4zM7 32.2h1.5v2.4h-1.5zM15.8 23.3h1.6v1.7h-1.6zM25.6 26.8h2.4v2.6h-2.4zM14.6 6.8h1.7v2.1h-1.7zM24.4 1.8h0.9v2.2h-0.9zM14 25h1.6v0.9h-1.6zM40.5 2.5h2v1.3h-2zM4 41.7h1.2v0.9h-1.2zM7.3 24h2.2v2.4h-2.2zM5.6 33.5h2.4v1.4h-2.4zM24.9 30.2h1.8v1.5h-1.8zM10.7 23.8h1.7v1.6h-1.7zM10.8 22.4h1.8v1.7h-1.8zM27.5 7.1h1.9v1.7h-1.9zM29 11.8h2.3v0.9h-2.3zM35.7 28h1.5v2.2h-1.5zM42.7 4.2h1.1v2.5h-1.1zM24.4 36h0.8v2.3h-0.8zM24.8 34.7h2.5v2h-2.5zM37.4 34.2h2.5v1.4h-2.5zM45.8 41.3h1v1.1h-1zM22.5 31.2h1.3v2.2h-1.3zM17 18.9h1.2v1.2h-1.2zM13.8 26.7h1.9v2.1h-1.9zM17.5 17.1h1.7v1.8h-1.7zM26.4 36.5h2v2.1h-2zM25.9 8.7h2.1v1.1h-2.1zM24.8 31h1.5v1.3h-1.5zM2.4 15.2h1.7v2.2h-1.7zM20.5 35h2.3v1.5h-2.3zM5.7 1.2h2.4v2.6h-2.4zM27.4 9h1.5v1.7h-1.5zM40.6 36.3h2.2v2.5h-2.2zM17.4 14.4h1.9v1.1h-1.9zM10.9 35.6h1v1.6h-1zM3.5 40.9h2.3v2h-2.3zM32.2 27.4h1.7v1.3h-1.7zM4.2 36.4h2.4v1.1h-2.4zM2.6 38.4h1.5v1.5h-1.5zM18.3 29.7h1v2h-1zM31 15.8h2.6v1.6h-2.6zM44.8 23.7h2v1.7h-2zM5.2 40.1h1.9v1.9h-1.9zM1.3 14.8h2.1v1.4h-2.1zM15.5 18.6h0.9v2h-0.9zM11.1 37.1h1.5v2.5h-1.5zM45.4 16.8h2.1v1.4h-2.1zM21.5 13.1h0.8v1.3h-0.8zM33.2 5.8h2v1.5h-2zM34.7 12h1v2.1h-1zM14.8 20.6h2.5v1.5h-2.5zM44.5 29.7h2.6v1.3h-2.6zM38.7 27.2h1.5v0.8h-1.5zM9.3 34.3h1v1.7h-1zM38.4 4.2h1.5v1.5h-1.5zM30.7 13.8h2.1v1.1h-2.1zM35.4 24.5h0.9v0.9h-0.9zM38.4 17.5h1.9v2h-1.9zM18 28.1h1v0.9h-1zM15.1 0.3h1.5v1.9h-1.5zM10.1 10.7h2v2.1h-2zM16.5 18.5h1.2v0.8h-1.2zM2 29.8h1.6v2.5h-1.6zM38.7 9.1h0.9v1.4h-0.9zM26.6 22.5h1.3v1h-1.3zM46.1 1.8h1.7v1h-1.7zM29 29.7h1.5v2.4h-1.5zM5.4 38.2h1v2.6h-1zM22.2 27.5h1.3v2h-1.3zM9.4 24.7h1v1.5h-1zM14 35.4h1.3v2.5h-1.3zM16.7 30h1.7v2h-1.7zM20.1 32.9h1.7v1h-1.7zM20.1 15.4h1.1v1h-1.1zM4.3 9h2.4v1.4h-2.4zM0.5 19.8h2.3v0.9h-2.3zM17.8 41.8h1.5v1.2h-1.5zM27.7 1.7h2.2v1h-2.2zM36.5 38.4h2.3v1.2h-2.3zM30.7 2h2v1.8h-2zM13 28.7h2.2v2.2h-2.2zM6 8.4h0.9v0.8h-0.9zM4.5 12.5h1.1v1.5h-1.1zM5.9 9.8h2.4v0.8h-2.4zM1.9 45.7h1.8v2.1h-1.8zM13.3 18.9h0.8v2h-0.8zM35.8 31.7h1.9v2.4h-1.9zM1.9 24.5h2.2v2.5h-2.2zM30 23.6h1.5v1.3h-1.5zM14.5 21.3h2.3v1.1h-2.3zM11.8 28.2h0.9v1.1h-0.9zM38.4 3h1.8v1.7h-1.8zM36.1 0.8h2.5v1.8h-2.5zM20.4 8.7h1.1v1.2h-1.1zM1.6 6.1h2v1.1h-2zM22.3 35.2h1.3v2.2h-1.3zM29.7 41.6h2.2v2.1h-2.2zM8.7 15h2.4v1.7h-2.4zM30.3 42.7h2.5v2.4h-2.5zM18.1 18.1h1.3v1.2h-1.3zM3.7 20.6h2.2v1.5h-2.2zM5.4 8.9h1.6v1.7h-1.6zM23.7 10.3h1.6v1.3h-1.6zM45.5 2.7h1v1.4h-1zM34.2 15.5h1.1v2.5h-1.1zM12.9 3.4h0.8v1.4h-0.8zM9.9 17h2.6v1.1h-2.6zM40.6 36.9h2.2v2h-2.2zM20.3 35.5h1.5v1.7h-1.5zM36.7 26h1.9v1.1h-1.9zM23 42.6h2.5v2.6h-2.5zM44.8 10.1h2.3v1.5h-2.3zM5.6 3.2h1.3v2.4h-1.3zM10.7 29h0.9v1.8h-0.9zM15.4 41.5h1.9v1.6h-1.9z" fill="#fff"/></pattern>
<pattern id="pm" width="40" height="40" patternUnits="userSpaceOnUse"><path d="M0 0H40M0 0V40M23.5 0V40M0 5H23.5M9 0V5M4.5 0V5M18.5 0V5M15.5 0V5M12 0V5M0 37H23.5M0 10H23.5M16.5 5V10M13.5 5V10M9 5V10M6 5V10M3 5V10M19.5 5V10M0 27H23.5M12.5 10V27M0 17.5H12.5M9.5 10V17.5M6 10V17.5M0 14.5H6M3 10V14.5M3 14.5V17.5M6 14.5H9.5M9.5 14.5H12.5M8.5 17.5V27M0 24H8.5M4.5 17.5V24M0 20.5H4.5M4.5 20.5H8.5M3 24V27M8.5 23H12.5M12.5 18.5H23.5M18.5 10V18.5M12.5 15.5H18.5M15.5 10V15.5M15.5 15.5V18.5M18.5 15H23.5M19.5 18.5V27M12.5 22H19.5M16.5 18.5V22M16 22V27M19.5 22.5H23.5M16 27V37M13 27V37M8 27V37M0 32H8M5 27V32M4.5 32V37M8 32H13M13 33.5H16M13 30H16M16 33H23.5M19.5 27V33M16 30H19.5M19.5 30H23.5M20 33V37M18.5 37V40M8 37V40M3 37V40M13 37V40M23.5 33H40M23.5 11.5H40M28.5 0V11.5M23.5 6H28.5M23.5 3H28.5M34 0V11.5M28.5 8.5H34M28.5 4.5H34M34 5.5H40M37 0V5.5M37 5.5V11.5M34 8.5H37M37 8.5H40M23.5 23H40M27 11.5V23M23.5 19.5H27M23.5 16.5H27M36 11.5V23M27 17H36M32 11.5V17M30 17V23M27 20H30M33 17V23M30 20H33M33 20H36M36 15H40M36 18.5H40M36 23V33M26.5 23V33M23.5 26.5H26.5M23.5 30H26.5M26.5 27.5H36M29.5 23V27.5M32.5 23V27.5M32 27.5V33M36 27H40M36 30H40M36 33V40M33 33V40M27 33V40M23.5 36H27M27 36H33M30 33V36M30 36V40M33 37H36M36 37H40" stroke="#7fbdbd" stroke-width="0.9" fill="none"/></pattern>
<pattern id="pmr" width="40" height="40" patternUnits="userSpaceOnUse" patternTransform="rotate(-20)"><path d="M0 0H40M0 0V40M36 0V40M0 11H36M6 0V11M0 5.5H6M3 0V5.5M3 5.5V11M31 0V11M12 0V11M6 4.5H12M9 0V4.5M6 8H12M9 4.5V8M9 8V11M27 0V11M23.5 0V11M16 0V11M12 7H16M12 3.5H16M16 4.5H23.5M20.5 0V4.5M19 4.5V11M16 8H19M19 8H23.5M23.5 6H27M23.5 3H27M27 5.5H31M31 4.5H36M31 8H36M21 11V40M0 15.5H21M5 11V15.5M11 11V15.5M8 11V15.5M18 11V15.5M15 11V15.5M0 26H21M14.5 15.5V26M4 15.5V26M0 20H4M0 23H4M7 15.5V26M4 19.5H7M4 22.5H7M7 21.5H14.5M11 15.5V21.5M7 18.5H11M11 18.5H14.5M11.5 21.5V26M14.5 19.5H21M17.5 15.5V19.5M18 19.5V26M14.5 23H18M18 23H21M10 26V40M0 32H10M5 26V32M0 29H5M5 29H10M3.5 32V40M0 35H3.5M3.5 36.5H10M7 32V36.5M7 36.5V40M10 33.5H21M17 26V33.5M10 29H17M13 26V29M13 29V33.5M17 30.5H21M14.5 33.5V40M10 36.5H14.5M18 33.5V40M14.5 36.5H18M18 36.5H21M21 27H36M21 18H36M24 11V18M21 14H24M27.5 11V18M24 15H27.5M33 11V18M27.5 14H33M33 15H36M32 18V27M27 18V27M21 24H27M24 18V24M21 21H24M24 21H27M24 24V27M27 24H32M27 21H32M32 22.5H36M29.5 27V40M21 37H29.5M21 32H29.5M24 27V32M24 32V37M25.5 37V40M29.5 32H36M33 27V32M29.5 36.5H36M33 32V36.5M33 36.5V40M36 29H40M36 4H40M36 26H40M36 19.5H40M36 15.5H40M36 11.5H40M36 7H40M36 22.5H40M36 33H40M36 36.5H40" stroke="#7fbdbd" stroke-width="0.9" fill="none"/></pattern>
<pattern id="ps" width="48" height="48" patternUnits="userSpaceOnUse"><path d="M0 0H48M0 0V48M19 0V48M0 14H19M10.5 0V14M0 5H10.5M4.5 0V5M5 5V14M10.5 6H19M0 39.5H19M0 32H19M9 14V32M0 22.5H9M0 26.5H9M4.5 22.5V26.5M9 19H19M13 14V19M9 26H19M13 19V26M14 26V32M11 32V39.5M6.5 32V39.5M15 32V39.5M10.5 39.5V48M5.5 39.5V48M15 39.5V48M15 44H19M19 36.5H48M19 30H48M19 15H48M24 0V15M19 6.5H24M19 10.5H24M38 0V15M24 8.5H38M29.5 0V8.5M34 0V8.5M29.5 4.5H34M33 8.5V15M28.5 8.5V15M38 5H48M43 0V5M43.5 5V15M38 9.5H43.5M43.5 9.5H48M40.5 15V30M34.5 15V30M24.5 15V30M19 20H24.5M19 25.5H24.5M24.5 23H34.5M29 15V23M29 19H34.5M29.5 23V30M34.5 23.5H40.5M34.5 19H40.5M40.5 26H48M40.5 21H48M35.5 30V36.5M29 30V36.5M24 30V36.5M43.5 30V36.5M39.5 30V36.5M32 36.5V48M27 36.5V48M19 40.5H27M27 43H32M39 36.5V48M32 43.5H39M39 43.5H48M44 36.5V43.5" stroke="#7fbdbd" stroke-width="0.7" fill="none"/></pattern>
<pattern id="pdiag" width="48" height="48" patternUnits="userSpaceOnUse" patternTransform="rotate(22)"><rect width="48" height="48" fill="#b2dada"/><path d="M0 0H48M0 0V48M43 0V48M0 10H43M3.5 0V10M0 7.5H3.5M0 4.5H3.5M0 2.5H3.5M8 0V10M3.5 6H8M3.5 2H8M6 0V2M6 2V6M3.5 4H6M6 6V10M6 8H8M35 0V10M32 0V10M21.5 0V10M12.5 0V10M8 2.5H12.5M10 0V2.5M8 6H12.5M10.5 2.5V6M10.5 6V10M10.5 8H12.5M12.5 7H21.5M19 0V7M12.5 2H19M14.5 0V2M17 0V2M14.5 2V7M12.5 5H14.5M14.5 4.5H19M17 2V4.5M16.5 4.5V7M19 2.5H21.5M19 5H21.5M14.5 7V10M19 7V10M16.5 7V10M24.5 0V10M21.5 4H24.5M21.5 7.5H24.5M24.5 3H32M28.5 0V3M26.5 0V3M29.5 3V10M24.5 6H29.5M27 3V6M27 6V10M29.5 8H32M29.5 5.5H32M32 5H35M32 2H35M32 7.5H35M35 3H43M37 0V3M40.5 0V3M37 3V10M35 7H37M35 5H37M37 5H43M40.5 3V5M41 5V10M37 7.5H41M39 5V7.5M41 7H43M4.5 10V48M0 33H4.5M0 12.5H4.5M2 10V12.5M0 18H4.5M0 15H4.5M2 12.5V15M2 15V18M0 23H4.5M0 20.5H4.5M2.5 18V20.5M2 20.5V23M0 25H4.5M2.5 23V25M0 28.5H4.5M2 25V28.5M2 28.5V33M0 30.5H2M2 31H4.5M0 37H4.5M2 33V37M2 35H4.5M0 42H4.5M0 39H4.5M2.5 37V39M2.5 39V42M0 45.5H4.5M2 42V45.5M2.5 45.5V48M35 10V48M4.5 31H35M15 10V31M4.5 27.5H15M4.5 17H15M12.5 10V17M9.5 10V17M4.5 13.5H9.5M6.5 10V13.5M7.5 13.5V17M9.5 14.5H12.5M9.5 12H12.5M12.5 12H15M12.5 14H15M8 17V27.5M4.5 19H8M4.5 23H8M4.5 21H8M4.5 25.5H8M8 19.5H15M10.5 17V19.5M13 17V19.5M8 24.5H15M11 19.5V24.5M8 21.5H11M11 22H15M13 24.5V27.5M10.5 24.5V27.5M12.5 27.5V31M7.5 27.5V31M10 27.5V31M15 21H35M28 10V21M22.5 10V21M15 13H22.5M20.5 10V13M18 10V13M15 18H22.5M18.5 13V18M15 15.5H18.5M18.5 15.5H22.5M20.5 13V15.5M19 18V21M17 18V21M22.5 17H28M22.5 13.5H28M24.5 10V13.5M25.5 13.5V17M25.5 17V21M22.5 19H25.5M28 16.5H35M31 10V16.5M28 14.5H31M28 12H31M31 14H35M33 10V14M31 12H33M33 12H35M33 14V16.5M32 16.5V21M28 18.5H32M30 16.5V18.5M32 18.5H35M20.5 21V31M15 24H20.5M18 21V24M15 27H20.5M17.5 24V27M17.5 27V31M17.5 29H20.5M24.5 21V31M20.5 26H24.5M20.5 23.5H24.5M22.5 23.5V26M20.5 28H24.5M22.5 28V31M32.5 21V31M24.5 27.5H32.5M27.5 21V27.5M24.5 25H27.5M27.5 24.5H32.5M29.5 21V24.5M30.5 24.5V27.5M29 27.5V31M26.5 27.5V31M32.5 25.5H35M32.5 23H35M32.5 28H35M23 31V48M15 31V48M4.5 36.5H15M11.5 31V36.5M8.5 31V36.5M4.5 33.5H8.5M6.5 31V33.5M6.5 33.5V36.5M8.5 34.5H11.5M11.5 33.5H15M4.5 39.5H15M13 36.5V39.5M7.5 36.5V39.5M9.5 36.5V39.5M6.5 39.5V48M4.5 45H6.5M4.5 42.5H6.5M12.5 39.5V48M6.5 43.5H12.5M9.5 39.5V43.5M6.5 41.5H9.5M9.5 41.5H12.5M9.5 43.5V48M6.5 46H9.5M9.5 45.5H12.5M12.5 41.5H15M12.5 45H15M15 33.5H23M18 31V33.5M20.5 31V33.5M15 37H23M19 33.5V37M17 33.5V37M15 40H23M17.5 37V40M19.5 37V40M21 40V48M15 44H21M18 40V44M18 42H21M18 44V48M15 46H18M21 42.5H23M21 45H23M23 43.5H35M23 37H35M28.5 31V37M23 34H28.5M25 31V34M25 34V37M31.5 31V37M28.5 33H31.5M28.5 35H31.5M31.5 34.5H35M25.5 37V43.5M23 39H25.5M23 41H25.5M28.5 37V43.5M25.5 40H28.5M31.5 37V43.5M28.5 40.5H31.5M31.5 40.5H35M25 43.5V48M23 46H25M32.5 43.5V48M27 43.5V48M25 46H27M30.5 43.5V48M27 46H30.5M30.5 45.5H32.5M32.5 46H35M35 45.5H43M35 15H43M38.5 10V15M35 12.5H38.5M38.5 12.5H43M41 10V12.5M41 12.5V15M35 38.5H43M35 22.5H43M39 15V22.5M35 18H39M35 20H39M37 18V20M39 20H43M39 17.5H43M35 32H43M35 29H43M39 22.5V29M35 27H39M35 24.5H39M37 22.5V24.5M37 27V29M39 26.5H43M37 29V32M40.5 29V32M39 32V38.5M35 34.5H39M37 34.5V38.5M35 36.5H37M39 36H43M41 32V36M39 34H41M41 36V38.5M40 38.5V45.5M35 41.5H40M37.5 38.5V41.5M37 41.5V45.5M35 43.5H37M37 43.5H40M40 43H43M40 41H43M38 45.5V48M40 45.5V48M43 21H48M43 7H48M43 2.5H48M46 0V2.5M45.5 2.5V7M43 5H45.5M45.5 4.5H48M43 10H48M45 7V10M43 16.5H48M43 13H48M46 10V13M46 13V16.5M46 16.5V21M43 18.5H46M46 19H48M43 42.5H48M43 39H48M43 36.5H48M43 33.5H48M43 27H48M43 23.5H48M45.5 21V23.5M45.5 23.5V27M43 29.5H48M45.5 27V29.5M46 29.5V33.5M46 33.5V36.5M45.5 36.5V39M46 39V42.5M43 44.5H48M45.5 42.5V44.5M45.5 44.5V48" stroke="#86c0c0" stroke-width="0.7" fill="none"/><path d="M34 2h1v2.4h-1zM5.2 37.9h1.5v1.8h-1.5zM33.4 43.1h1v1.1h-1zM35.3 37.2h1.9v1.6h-1.9zM40.6 26.4h2.4v2.5h-2.4zM3.3 8.8h0.8v1.7h-0.8zM17.9 10h0.8v2h-0.8zM12 39.4h1.2v1.6h-1.2zM2 40.2h2.3v1.9h-2.3zM12.4 13.5h1.3v1.6h-1.3zM9.1 42.1h1.8v2.5h-1.8zM11.6 37.5h2.3v1.8h-2.3zM8 11.9h1.7v2.1h-1.7zM44.9 40.9h2.5v2.5h-2.5zM29.3 15.6h1.5v1h-1.5zM4.9 7.3h1.5v1.9h-1.5zM19.2 24.2h1.3v1.3h-1.3zM39.1 46h1.5v1.5h-1.5zM10 11.2h1.4v2.1h-1.4zM32.3 32.7h2v1.8h-2zM40.1 37.2h1.6v1.9h-1.6zM31.5 31h2.2v1.8h-2.2zM20 29.9h0.9v2.2h-0.9zM3.1 2.1h2.4v2.4h-2.4zM36.6 24.9h1.4v1.5h-1.4zM27.4 20.3h2v2.4h-2zM16.5 38.2h1.7v2h-1.7zM17.9 14.4h2.2v2h-2.2zM45.5 12.8h1.1v2.4h-1.1zM30.8 39.4h1.6v1h-1.6zM39.2 22.7h2.4v1h-2.4zM9.1 1.7h2v2.3h-2zM5.8 18.2h1.6v0.9h-1.6zM16.2 13.3h1.4v1.8h-1.4zM30.8 17.7h1.3v1.7h-1.3zM2.8 45.1h2.5v2.1h-2.5zM15.6 36.2h2.6v1.3h-2.6zM18.9 43.3h1.6v2.2h-1.6zM5.3 24.6h1.7v1.6h-1.7zM14.9 27.7h1.5v1.3h-1.5zM26.6 5.6h1.5v2.1h-1.5zM36.8 6.9h1.2v2.4h-1.2zM43.3 13.4h1.2v2.4h-1.2zM26.4 21.5h1.1v1.9h-1.1zM27.4 33.5h2v1.7h-2zM1.5 11.6h2.3v2.2h-2.3zM2.1 33.4h1.5v2.3h-1.5zM34.4 46.1h1.3v1.6h-1.3zM11.5 43.9h2.1v1.6h-2.1zM42.2 29.2h2.3v1h-2.3zM40.9 34.6h1.6v1h-1.6zM31.2 28.7h1.3v1.6h-1.3zM1.1 37.3h2v1.9h-2zM26.5 20.2h1.2v2.2h-1.2zM23 42.6h1.8v2.3h-1.8zM6.6 38.3h2.3v0.9h-2.3zM0.4 44.6h2.3v1.4h-2.3zM43.1 13.6h1.9v2.4h-1.9zM30.2 20.7h1.8v1.1h-1.8zM34.5 15.2h1.9v2.1h-1.9zM16.7 36.6h1.5v0.9h-1.5zM7.1 39.5h1.4v2h-1.4zM25.7 6.6h2v1.4h-2zM31.1 40.3h1.5v1.4h-1.5zM45 2.1h1.8v2.3h-1.8zM30.1 10.2h1.3v1.9h-1.3zM3.6 4h1.3v2.5h-1.3zM11.1 21.7h2.2v1.3h-2.2zM11.5 30.2h1.5v1.4h-1.5zM39.8 10.2h1.1v2.1h-1.1zM16.4 13.8h2.1v1.2h-2.1zM44.5 41h1.4v1.4h-1.4zM44.6 38.1h1.1v2.4h-1.1zM2.3 28.2h2.2v0.9h-2.2zM4.7 21.9h2.6v2.2h-2.6zM1.1 39.2h2v2.5h-2zM24.8 46.2h2.5v1.4h-2.5zM38.2 18.8h2.3v1.5h-2.3zM4.1 30h1.1v1.9h-1.1zM5.6 35.1h2.6v1.8h-2.6zM1.2 11.5h1.1v2.5h-1.1zM36.3 13.9h1.3v1.1h-1.3zM29.4 34.4h2.1v2h-2.1zM45.9 7.5h1.4v2.3h-1.4zM31.7 0.5h2.1v0.9h-2.1zM36.2 32.4h1.5v1.4h-1.5zM34.3 13.9h1.3v2.2h-1.3zM7.8 41.3h1.9v1.7h-1.9zM37.8 31.6h1.3v1.4h-1.3zM37.3 25.1h0.8v1.6h-0.8zM4.7 2.3h1.8v1.5h-1.8zM31 23.1h1.2v2.1h-1.2zM6.4 8.7h1.5v1.5h-1.5zM27.3 20.5h2.1v2h-2.1zM25.4 4.4h1.9v1.9h-1.9zM17.6 1.4h1.4v0.9h-1.4zM1.4 20.9h1.6v2.2h-1.6zM37.6 35.6h1.9v2.3h-1.9zM17.4 42.3h2.4v1.7h-2.4zM34 3.7h1v1.9h-1zM39.2 19.2h1.9v1.8h-1.9zM45.3 30.5h2.6v1.6h-2.6zM16 36.9h2.3v2.2h-2.3zM6.3 22h1.7v2.2h-1.7zM40.5 25h2.4v0.9h-2.4zM19.9 37.9h1.1v2.1h-1.1zM45.4 43h2.2v1h-2.2zM14.9 30.7h2.4v1.1h-2.4zM10.5 10h2.2v1.2h-2.2zM43.6 7h1.1v2.2h-1.1zM34.1 7.3h1.4v2.1h-1.4zM14.3 32.1h0.8v1.3h-0.8zM39.5 23.6h1v1.1h-1zM37.3 0.4h1.7v1.8h-1.7zM35.6 35.1h1.2v1.7h-1.2zM26.1 39h2.2v2h-2.2zM28.6 13.2h2.3v1.6h-2.3zM43.9 1.6h1.4v1.5h-1.4zM20.2 28.7h0.8v2.3h-0.8zM34.1 25.2h1.4v1.6h-1.4zM30.2 30.2h0.9v1.1h-0.9zM11.2 21.1h2.2v1.2h-2.2zM25.4 32.1h0.8v1.4h-0.8zM23.9 34.1h1.2v2.2h-1.2zM40.4 22.8h1.1v1.7h-1.1zM23.6 30h1v1.4h-1zM21.5 38.3h2v2.4h-2zM20.5 9.9h1.8v2.1h-1.8zM5.8 26.5h1v2.5h-1zM18.5 36.2h1.4v2.4h-1.4zM5.9 18.8h1.7v1.1h-1.7zM2.8 8.6h0.9v1.8h-0.9zM6.2 40.8h0.9v1.2h-0.9zM15.7 41h1.9v1.2h-1.9zM11.3 41h2.2v2.3h-2.2zM29.7 27.5h1v2.6h-1zM5.2 16.6h0.9v1.6h-0.9zM0.9 43.8h1.3v1.4h-1.3zM5.1 30h2v1.6h-2zM31.3 5.1h1.8v1.1h-1.8zM5 45.5h1.2v1.8h-1.2zM22.7 33.2h1.8v2.2h-1.8zM15.6 1.4h2v2.2h-2zM37.3 15.8h0.8v1.2h-0.8zM26.8 14.9h1.3v2.5h-1.3zM32.1 11.9h1.7v1.9h-1.7zM34.4 43.4h1.6v1.4h-1.6zM33.3 15.4h2v2.4h-2zM16.1 2.8h1.7v1.2h-1.7zM16.8 3.8h1.8v2.3h-1.8zM42.4 11.5h1v1.2h-1zM25.1 37.3h1.9v2.1h-1.9zM21.9 24.6h0.9v0.9h-0.9zM32.1 9.2h0.9v1.5h-0.9zM35.9 30.4h1v0.9h-1zM36.2 23h2.2v1.3h-2.2zM7.9 18.7h1.3v0.8h-1.3zM42.1 2.7h1.6v0.9h-1.6zM26.2 18.2h2.4v1.6h-2.4zM33.8 2.2h1.8v1.7h-1.8zM8.2 34.6h1.1v2.3h-1.1zM44.4 14.2h2v1.3h-2zM11.8 19.4h2.5v1.6h-2.5zM25.8 18.7h2.4v1.8h-2.4zM23.9 11.1h1.1v1.5h-1.1zM34 7.1h1.2v1.8h-1.2zM14.3 45.7h2.5v1.9h-2.5zM40.8 42.1h1.5v2.2h-1.5zM21 0.7h1.9v1.7h-1.9zM37.9 5.3h2.3v2.2h-2.3zM44.2 32.7h1.8v2.4h-1.8zM3 23.5h1.9v1.8h-1.9zM21.2 32.9h1.2v1.3h-1.2zM32.7 43.1h1.4v2.5h-1.4zM9.1 11.7h0.9v2.6h-0.9zM22.3 41.5h1.6v1.3h-1.6zM4.9 40h2.6v2.6h-2.6zM25.5 6.1h0.9v2h-0.9zM9.2 33.3h1.8v1.9h-1.8zM17.2 0.1h2.3v0.9h-2.3zM1.7 10h1.6v1.6h-1.6zM18.3 13.2h2.1v2.5h-2.1zM33.6 46.9h2.5v1h-2.5zM19.5 36.5h1.2v1.1h-1.2zM25.5 4.7h2.1v1.7h-2.1zM5 37.6h2v2.5h-2zM32.4 21.1h1.5v1.6h-1.5zM24.8 29.8h0.9v1.7h-0.9zM22.5 31.6h2.3v1.7h-2.3zM22.2 32.2h1.5v2.4h-1.5zM44.6 31.2h2.4v1.7h-2.4zM12.3 6h0.8v1.5h-0.8zM32.5 2.2h2.3v1.8h-2.3zM18.4 7.9h1.3v1.1h-1.3zM45.8 20.8h1.7v1.5h-1.7zM22.4 2.9h2.4v1.4h-2.4zM25.3 20.2h1.2v0.8h-1.2zM20.9 20.7h1.3v1.5h-1.3zM0.1 33.5h1v2.1h-1zM28.7 41.7h2v0.8h-2zM39.7 11.2h1v1h-1zM16.5 28.9h2.1v1.7h-2.1zM44.6 25.5h2.2v1.7h-2.2zM26.4 33.8h2.2v1.1h-2.2zM12.1 28h1.5v1.8h-1.5zM39.8 45.3h1.6v1.3h-1.6zM12.4 16.9h2.1v2.1h-2.1zM23.7 43.4h1.7v1.8h-1.7zM25.7 4.9h2v1.6h-2zM30.2 32.1h2.3v1.5h-2.3zM35.4 6.8h1v1.1h-1zM17.1 28.3h1.8v2.2h-1.8zM5.6 0.5h1.5v2.4h-1.5zM14.3 9.4h2.2v1.1h-2.2zM45 1.4h0.8v1.1h-0.8zM5.4 19.3h1.6v1h-1.6zM7.8 31h2.6v1.6h-2.6zM40.8 14.7h1.6v0.8h-1.6zM34.3 17.1h1.5v1.9h-1.5zM41.9 42.5h1.5v2.2h-1.5zM26.6 18.7h1.6v1.9h-1.6zM4.8 33.4h2.4v2.4h-2.4zM15.7 11h1.6v0.9h-1.6zM43.5 7.7h0.9v2.6h-0.9zM9.6 8.5h2.5v2.2h-2.5zM29.3 34h2.5v2h-2.5zM11.9 29.9h2.4v2.2h-2.4zM15.9 24.2h2.3v2h-2.3zM17.1 21.1h1.2v1.6h-1.2zM6.8 29h1.2v1.5h-1.2zM33.5 32.4h1.8v2h-1.8zM6.7 31.7h1.6v0.8h-1.6zM34 37.5h1.5v2.1h-1.5zM26.3 17h1.3v1.6h-1.3zM0.6 2.5h2v1h-2zM26.9 24.4h2.5v1.3h-2.5zM31.7 17.2h0.9v2.1h-0.9zM27.2 11.6h2.1v0.9h-2.1zM23.6 22.8h2.5v1.5h-2.5zM2.9 42h2.2v1.5h-2.2zM16.7 19.9h2.4v1.6h-2.4zM43.4 14.6h1.1v2.4h-1.1zM35.1 0.1h1.9v2h-1.9zM44 26.6h2v0.9h-2zM33.4 35.8h0.9v2.5h-0.9zM38.1 23h0.8v2.2h-0.8zM29.7 29.3h2.1v2.6h-2.1zM35.9 24.1h1.9v2.3h-1.9zM38 16.4h1.8v1.9h-1.8zM19.6 29.2h1.6v1.6h-1.6zM22.2 22h2.4v2.6h-2.4zM0.8 46.7h2.2v0.8h-2.2zM5.9 26h1.5v2.2h-1.5zM22.5 44.7h1.8v1h-1.8zM20.6 8.6h0.9v1.7h-0.9zM10.3 11.1h0.8v1.6h-0.8zM34.7 43.2h2.6v1.1h-2.6zM5.6 3h1.2v2.5h-1.2zM12.7 24.9h1.1v0.8h-1.1zM13.1 12.6h2.3v2.4h-2.3z" fill="#fff"/></pattern>
</defs>
<clipPath id="iclip"><rect x="409.7" y="329.7" width="470.8" height="367.3"/></clipPath>
<g clip-path="url(#iclip)">
<polygon points="488.8,332 522.5,333 522,347.5 518.8,362.5 525,366.2 532.5,375 545,378.8 557.5,373.8 605,371.2 617.5,368.8 628.8,356.2 636.2,350 655,345 660,340 663.8,357.5 675,368.8 680,371.2 680,387.5 687.5,380 700,373.8 715,377.5 716.2,400 681.2,400 681.2,427.5 663.8,427.5 663.8,440 650,441.2 648.8,450 642.5,450 642.5,457.5 655,461.2 667.5,472.5 677.5,481.2 685,487.5 700,488.8 700,532.5 687.5,527.5 685,517.5 672.5,510 657.5,500 645,497.5 643.8,485 630,480 622.5,475 615,470 580,470 570,466.2 565,467.5 562.5,485 562.5,512.5 565,557.5 550,557.5 548.8,525 547.5,481.2 533.8,481.2 533.8,475 522.5,470 518.8,465 490,463.8 491.2,457.5 496.2,442.5 491.2,435 477.5,425 472.5,418.8 452.5,417.5 453.8,411.2 448.8,405 448.8,387.5 435,382.5 422.5,378.8 426.2,372.5 437.5,371.2 445,375 448.8,362.5 458.8,362.5 453.8,377.5 462.5,383.8 467.5,377.5 475,362.5 482.5,346.2" fill="url(#pd)"/>
<polygon points="557.5,373.8 605,371.2 617.5,368.8 622,380 615,392 596,396 575,399 560,397 550,380" fill="#fff"/>
<polygon points="557.5,373.8 605,371.2 617.5,368.8 622,380 615,392 596,396 575,399 560,397 550,380" fill="url(#ps)"/>
<polygon points="628.8,356.2 636.2,350 655,345 660,340 663.8,357.5 675,368.8 680,371.2 680,387.5 687.5,380 700,373.8 715,377.5 716.2,400 681.2,400 681.2,427.5 663.8,427.5 663.8,440 650,441.2 647,425 652,405 645,385 630,372" fill="#fff"/>
<polygon points="628.8,356.2 636.2,350 655,345 660,340 663.8,357.5 675,368.8 680,371.2 680,387.5 687.5,380 700,373.8 715,377.5 716.2,400 681.2,400 681.2,427.5 663.8,427.5 663.8,440 650,441.2 647,425 652,405 645,385 630,372" fill="url(#pm)"/>
<polygon points="547.5,481.2 562.5,485 562.5,512.5 565,557.5 550,557.5 548.8,525" fill="#fff"/>
<polygon points="547.5,481.2 562.5,485 562.5,512.5 565,557.5 550,557.5 548.8,525" fill="url(#pm)"/>
<polygon points="452.5,417.5 453.8,411.2 448.8,405 448.8,390 462,398 470,415" fill="#fff"/>
<polygon points="452.5,417.5 453.8,411.2 448.8,405 448.8,390 462,398 470,415" fill="url(#pm)"/>
<polygon points="448.8,362.5 458.8,362.5 453.8,377.5 445,375" fill="#fff"/>
<polygon points="448.8,362.5 458.8,362.5 453.8,377.5 445,375" fill="url(#ps)"/>
<polygon points="518.8,465 570,466.2 565,468 548,481.2 533.8,481.2 533.8,475 522.5,470" fill="#fff"/>
<polygon points="518.8,465 570,466.2 565,468 548,481.2 533.8,481.2 533.8,475 522.5,470" fill="url(#pm)"/>
<polygon points="515.5,395 518.5,387 525,384.5 529,388 527,395 520,400" fill="#fff"/>
<polygon points="631,386 636,385 642,390 640,397 633,402 626,400 625,393" fill="#fff"/>
<polygon points="590,432 598,430 608,432 614,438 615,450 605,452 592,450" fill="#fff"/>
<polygon points="700,490 710,497.5 715,503.8 730,492.5 750,480 765,472.5 770,475 765,510 760,538.8 880,538.8 880,562.5 875,562.5 875,571.2 865,571.2 863.8,585 862.5,602.5 797.5,603.8 765,602.5 765,587.5 737.5,587.5 737.5,595 728.8,595 728.8,586.2 705,585 705,588.8 700,588.8" fill="url(#pd)"/>
<polygon points="700,490 715,503.8 716,585 705,585 705,588.8 700,588.8" fill="#fff"/>
<polygon points="700,490 715,503.8 716,585 705,585 705,588.8 700,588.8" fill="url(#pm)"/>
<polygon points="715,503.8 730,492.5 750,480 765,472.5 770,475 765,510 760,538.8 750,538 735,520" fill="#fff"/>
<polygon points="715,503.8 730,492.5 750,480 765,472.5 770,475 765,510 760,538.8 750,538 735,520" fill="url(#pdiag)"/>
<polygon points="772.5,603.8 797.5,603.8 797.5,622.5 772.5,622.5" fill="#fff"/>
<polygon points="772.5,603.8 797.5,603.8 797.5,622.5 772.5,622.5" fill="url(#ps)"/>
<polygon points="717.5,586 722.5,586 722.5,608.8 717.5,608.8" fill="#fff"/>
<polygon points="717.5,586 722.5,586 722.5,608.8 717.5,608.8" fill="url(#ps)"/>
<polygon points="863,540 880,540 880,562.5 875,571.2 865,571.2 863,560" fill="#fff"/>
<polygon points="863,540 880,540 880,562.5 875,571.2 865,571.2 863,560" fill="url(#pm)"/>
<polygon points="727,522 736,519 740,524 738,532 729,532" fill="#fff"/>
<polygon points="765,565 774,565 775,572 766,573" fill="#fff"/>
<polygon points="742,498 750,496 750,502 743,503" fill="#fff"/>
<polygon points="770,635 832.5,635 833.8,640 837.5,643.8 838.8,660 847.5,666.2 847.5,673.8 835,676.2 815,680 797.5,680 780,675 765,677.5 760,675 757.5,657.5 765,647.5" fill="url(#pdiag)"/>
<polygon points="803,684 815,681 819,691 806,693" fill="none" stroke="#7fbdbd" stroke-width="0.6"/>
<polygon points="783,647 788,646 789,655 784,656" fill="#fff"/>
<path d="M465 330L466.2 368.8" fill="none" stroke="#6e6e6e" stroke-width="0.7"/>
<path d="M410 370C412.3 371 419.2 374.4 423.8 376.2C428.3 378.1 432.3 379.8 437.5 381.2C442.7 382.7 450.4 384 455 385C459.6 386 459.6 385.8 465 387.5C470.4 389.2 480 391.6 487.5 395C495 398.4 501 403.8 510 408C519 412.2 531.7 418.4 541.2 420C550.8 421.6 557.7 419.6 567.5 417.5C577.3 415.4 592.5 410.8 600 407.5C607.5 404.2 607.5 400.8 612.5 397.5C617.5 394.2 625.4 389.9 630 387.5C634.6 385.1 638.3 383.8 640 383" fill="none" stroke="#6e6e6e" stroke-width="0.7"/>
<path d="M495 435C493.8 439.2 490 453.3 487.5 460C485 466.7 483.5 471.7 480 475C476.5 478.3 468.5 479.2 466.2 480" fill="none" stroke="#6e6e6e" stroke-width="0.7"/>
<path d="M410 487.5L417.5 475L426.2 461.2L477.5 488.8L420 615L410 632.5" fill="none" stroke="#6e6e6e" stroke-width="0.7"/>
<path d="M420 615C421.3 615.8 424.2 618.3 428 620C431.8 621.7 435.9 622.7 442.5 625C449.1 627.3 458.3 631.5 467.5 633.8C476.7 636 489.2 638.1 497.5 638.8C505.8 639.4 507.9 638.3 517.5 637.5C527.1 636.7 545 635.2 555 633.8C565 632.3 569.2 631.9 577.5 628.8C585.8 625.6 596.2 619 605 615C613.8 611 621.7 608.1 630 605C638.3 601.9 646.7 598.5 655 596.2C663.3 594 672.5 592.7 680 591.2C687.5 589.8 696.7 588.1 700 587.5" fill="none" stroke="#6e6e6e" stroke-width="0.7"/>
<path d="M515 467.5C514.8 472.1 512.9 487.9 513.8 495C514.6 502.1 517.7 505 520 510C522.3 515 526.2 519.6 527.5 525C528.8 530.4 526.2 537.1 527.5 542.5C528.8 547.9 532.9 552.5 535 557.5C537.1 562.5 539.6 567.1 540 572.5C540.4 577.9 537.5 584.2 537.5 590C537.5 595.8 537.1 603.1 540 607.5C542.9 611.9 552.3 611.9 555 616.2C557.7 620.6 556 630.8 556.2 633.8" fill="none" stroke="#6e6e6e" stroke-width="0.7"/>
<path d="M570 466.2L577.5 628.8" fill="none" stroke="#6e6e6e" stroke-width="0.7"/>
<path d="M520 420L518.8 465" fill="none" stroke="#6e6e6e" stroke-width="0.7"/>
<path d="M541.2 330L540 340" fill="none" stroke="#6e6e6e" stroke-width="0.7"/>
<path d="M570 330L565 342.5" fill="none" stroke="#6e6e6e" stroke-width="0.7"/>
<path d="M700 330L662.5 337.5L660 340L651.2 365L640 390L635 410L642 440L655 461" fill="none" stroke="#6e6e6e" stroke-width="0.7"/>
<path d="M701.2 330L701.2 372.5" fill="none" stroke="#6e6e6e" stroke-width="0.7"/>
<path d="M681.2 400L681.2 477.5L767.5 421.2L795 372.5L796.2 360" fill="none" stroke="#6e6e6e" stroke-width="0.7"/>
<path d="M805 360L797.5 635" fill="none" stroke="#6e6e6e" stroke-width="0.7"/>
<path d="M700 488.8L700 587.5" fill="none" stroke="#6e6e6e" stroke-width="0.7"/>
<path d="M622.5 455C625.4 456.7 634.6 464 640 465C645.4 466 649.2 458.8 655 461.2C660.8 463.8 670 475.6 675 480C680 484.4 680.8 486 685 487.5C689.2 489 696.2 487.5 700 488.8C703.8 490 705 492.3 707.5 495C710 497.7 712.1 501.7 715 505C717.9 508.3 720.8 511.2 725 515C729.2 518.8 735.8 523.5 740 527.5C744.2 531.5 746.7 536.7 750 538.8C753.3 540.8 758.3 539.8 760 540" fill="none" stroke="#6e6e6e" stroke-width="0.7"/>
<path d="M700 587.5C698.3 588.8 692.9 592.1 690 595C687.1 597.9 684.2 600.8 682.5 605C680.8 609.2 679.6 615 680 620C680.4 625 684 630 685 635C686 640 687.5 643.3 686.2 650C685 656.7 680.6 667.2 677.5 675C674.4 682.8 669.2 693.3 667.5 697" fill="none" stroke="#6e6e6e" stroke-width="0.7"/>
<path d="M752.5 652.5C750.4 655 743.8 662.5 740 667.5C736.2 672.5 733.5 677.6 730 682.5C726.5 687.4 720.6 694.6 718.8 697" fill="none" stroke="#6e6e6e" stroke-width="0.7"/>
<path d="M837.5 643.8C839.2 647.5 844.6 660.2 847.5 666.2C850.4 672.3 852.5 675.6 855 680C857.5 684.4 860.4 689.7 862.5 692.5C864.6 695.3 866.7 696.2 867.5 697" fill="none" stroke="#6e6e6e" stroke-width="0.7"/>
<use href="#fills" transform="translate(475.5 203.2) scale(0.1452)"/>
</g>
<path d="M882 370.5L877 371L872.5 366.2L865 369.5L852.5 369.5L840 365L830 359.5L825 358L820 359.5L807.5 358.8L800 355.5L792.5 356.2L786.2 362.5L783.8 375L780 407.5L775 445L768.8 487.5L763.8 520L760 545L761.2 557.5L760 570L765 575L763.8 587.5L766.2 602.5L768.8 617.5L766.2 630L762.5 642.5L760 650L755 655L755 665L753.8 672.5L756.2 680L756.2 690L761.2 693.8L760.8 698.8" fill="none" stroke="#000" stroke-width="5" stroke-linejoin="round" stroke-linecap="round"/>
<rect x="409.7" y="329.7" width="470.8" height="367.3" fill="none" stroke="#808080" stroke-width="1"/>
<text x="430.4" y="318.7" font-size="13.9" textLength="57.4" lengthAdjust="spacingAndGlyphs" text-anchor="middle" fill="#000" stroke="#000" stroke-width="0.35">2540000</text>
<text x="516" y="318.7" font-size="13.9" textLength="57.4" lengthAdjust="spacingAndGlyphs" text-anchor="middle" fill="#000" stroke="#000" stroke-width="0.35">2560000</text>
<text x="601.6" y="318.7" font-size="13.9" textLength="57.4" lengthAdjust="spacingAndGlyphs" text-anchor="middle" fill="#000" stroke="#000" stroke-width="0.35">2580000</text>
<text x="687.3" y="318.7" font-size="13.9" textLength="57.4" lengthAdjust="spacingAndGlyphs" text-anchor="middle" fill="#000" stroke="#000" stroke-width="0.35">2600000</text>
<text x="772.9" y="318.7" font-size="13.9" textLength="57.4" lengthAdjust="spacingAndGlyphs" text-anchor="middle" fill="#000" stroke="#000" stroke-width="0.35">2620000</text>
<text x="858.5" y="318.7" font-size="13.9" textLength="57.4" lengthAdjust="spacingAndGlyphs" text-anchor="middle" fill="#000" stroke="#000" stroke-width="0.35">2640000</text>
<text x="400.6" y="356.6" font-size="13.9" textLength="57.4" lengthAdjust="spacingAndGlyphs" text-anchor="end" fill="#000" stroke="#000" stroke-width="0.35">6180000</text>
<text x="400.6" y="443" font-size="13.9" textLength="57.4" lengthAdjust="spacingAndGlyphs" text-anchor="end" fill="#000" stroke="#000" stroke-width="0.35">6160000</text>
<text x="400.6" y="529.4" font-size="13.9" textLength="57.4" lengthAdjust="spacingAndGlyphs" text-anchor="end" fill="#000" stroke="#000" stroke-width="0.35">6140000</text>
<text x="400.6" y="615.8" font-size="13.9" textLength="57.4" lengthAdjust="spacingAndGlyphs" text-anchor="end" fill="#000" stroke="#000" stroke-width="0.35">6120000</text>
<text x="400.6" y="702.2" font-size="13.9" textLength="57.4" lengthAdjust="spacingAndGlyphs" text-anchor="end" fill="#000" stroke="#000" stroke-width="0.35">6100000</text>
<path d="M430.4 321V329.7M430.4 697V705M516 321V329.7M516 697V705M601.6 321V329.7M601.6 697V705M687.3 321V329.7M687.3 697V705M772.9 321V329.7M772.9 697V705M858.5 321V329.7M858.5 697V705M401 351.6H409.7M880.5 351.6H889M401 438H409.7M880.5 438H889M401 524.4H409.7M880.5 524.4H889M401 610.8H409.7M880.5 610.8H889M401 697.2H409.7M880.5 697.2H889" stroke="#222" stroke-width="1" fill="none"/>
<text id="sr" stroke="#000" stroke-width="0.55" x="472.3" y="408.3" font-size="27.2" fill="#000" textLength="132.5" lengthAdjust="spacingAndGlyphs">San Rafael</text>
<text id="ga" stroke="#000" stroke-width="0.55" x="741.6" y="603.5" font-size="27.2" fill="#000" textLength="142" lengthAdjust="spacingAndGlyphs">Gral. Alvear</text>
<clipPath id="mclip"><rect x="70.5" y="865.5" width="1011.9" height="449.9"/></clipPath>
<g clip-path="url(#mclip)">
<use href="#fills"/>
<defs><path id="gridp" transform="translate(70 865) rotate(22)" d="M893 -247H931M988 -247H1007M760 -228H817M855 -228H912M950 -228H969M988 -228H1007M684 -209H722M741 -209H779M817 -209H836M893 -209H912M988 -209H1026M627 -190H703M722 -190H741M760 -190H798M817 -190H874M893 -190H912M931 -190H950M988 -190H1007M589 -171H608M627 -171H684M703 -171H722M779 -171H817M855 -171H874M931 -171H950M969 -171H1026M589 -152H608M646 -152H760M779 -152H817M855 -152H893M931 -152H988M1007 -152H1045M570 -133H589M627 -133H722M741 -133H779M836 -133H874M893 -133H988M1026 -133H1045M532 -114H627M646 -114H779M646 -112.7H779M798 -114H836M874 -114H893M950 -114H1045M532 -95H589M608 -95H627M665 -95H684M722 -95H779M817 -95H836M893 -95H912M950 -95H1064M380 -76H437M456 -76H475M513 -76H779M798 -76H817M836 -76H912M931 -76H1064M380 -57H399M437 -57H475M551 -57H589M551 -55.7H589M608 -57H722M608 -55.7H722M741 -57H817M855 -57H874M931 -57H950M969 -57H1026M1045 -57H1083M38 -38H133M171 -38H228M380 -38H418M437 -38H456M475 -38H494M551 -38H741M760 -38H817M855 -38H874M893 -38H1007M1026 -38H1064M0 -19H38M57 -19H76M114 -19H152M190 -19H266M361 -19H380M418 -19H456M513 -19H532M589 -19H627M646 -19H684M722 -19H760M779 -19H798M893 -19H1026M1045 -19H1102M0 0H38M57 0H95M114 0H171M190 0H266M399 0H456M475 0H494M513 0H551M570 0H646M570 1.3H646M665 0H703M722 0H741M760 0H874M893 0H1045M1064 0H1083M0 19H19M38 19H95M114 19H209M228 19H247M323 19H342M380 19H513M532 19H684M703 19H722M874 19H1026M1045 19H1121M38 38H76M114 38H152M171 38H209M228 38H266M380 38H437M456 38H684M779 38H817M874 38H1026M1045 38H1083M1102 38H1121M0 57H57M95 57H266M380 57H532M570 57H589M627 57H646M817 57H1045M1083 57H1102M19 76H133M171 76H228M247 76H266M380 76H532M551 76H570M589 76H627M646 76H779M817 76H855M912 76H969M988 76H1064M57 95H76M95 95H114M152 95H171M190 95H266M361 95H532M589 95H760M817 95H874M912 95H931M950 95H1007M38 114H57M76 114H95M114 114H228M361 114H589M361 115.3H589M608 114H627M665 114H684M817 114H874M893 114H969M38 133H133M171 133H209M247 133H570M741 133H931M38 152H57M95 152H114M152 152H228M247 152H589M665 152H684M703 152H798M836 152H874M57 171H76M114 171H171M190 171H437M190 172.3H437M456 171H513M456 172.3H513M532 171H551M760 171H779M57 190H76M114 190H171M190 190H380M399 190H551M570 190H779M76 209H114M133 209H209M247 209H646M76 228H532M551 228H627M665 228H684M76 247H95M114 247H342M361 247H589M95 266H361M418 266H456M475 266H570M95 285H133M152 285H361M152 286.3H361M418 285H475M418 286.3H475M494 285H551M114 304H285M304 304H342M418 304H494M133 323H209M228 323H342M418 323H456M133 342H323M133 343.3H323M133 361H323M133 380H152M171 380H304M152 399H266M152 400.3H266M152 418H209M0 -19V57M19 19V57M19 76V95M38 -38V0M38 19V57M38 95V114M38 133V152M57 0V19M57 57V76M57 95V114M57 133V152M57 171V190M76 -38V0M76 57V152M76 190V209M76 228V247M95 -57V76M95 95V152M95 171V209M95 228V285M114 -57V-38M114 -19V38M114 57V114M114 133V190M114 228V323M115.3 228V323M133 -38V0M133 38V285M133 304V380M152 -38V38M152 190V418M171 -38V-19M171 0V228M171 247V418M172.3 247V418M190 -38V-19M190 0V19M190 38V133M190 152V418M209 -38V-19M209 0V76M209 95V418M228 -38V-19M228 0V57M228 76V114M228 133V152M228 171V399M229.3 171V399M247 -38V95M247 114V399M266 -38V57M266 76V95M266 133V323M266 361V399M285 152V380M286.3 152V380M304 133V380M323 133V304M323 323V361M342 0V38M342 152V228M343.3 152V228M342 247V323M343.3 247V323M361 -19V38M361 57V285M380 -76V57M380 76V247M399 -57V0M399 19V247M418 -38V-19M418 38V323M437 -95V-57M437 -19V323M456 -76V-19M456 0V190M456 209V323M457.3 209V323M475 -76V-57M475 19V304M494 -76V-57M494 -19V19M494 38V228M494 247V304M513 -95V-76M513 -19V114M513 133V228M513 247V285M532 -133V-95M532 -76V-38M532 -19V0M532 57V228M532 247V285M551 -133V-114M551 -95V0M551 19V57M551 114V133M551 152V171M551 190V247M551 266V285M570 -114V-57M570 -19V0M571.3 -19V0M570 57V171M570 190V266M589 -171V-114M589 -95V228M589 247V266M608 -171V-133M608 -114V-38M608 0V57M608 76V171M627 -152V-133M627 -114V-95M628.3 -114V-95M627 -76V-57M628.3 -76V-57M627 0V57M628.3 0V57M627 95V190M646 -171V-152M646 -133V95M665 -190V0M665 19V38M665 57V76M684 -209V-190M684 -171V-19M684 19V38M684 57V95M703 -190V-133M703 -114V19M722 -171V-152M722 -133V0M741 -209V-114M741 -95V-38M742.3 -95V-38M741 -19V171M760 -247V-228M760 -190V-171M760 -152V-114M760 -76V-57M760 0V114M779 -247V-209M779 -190V-171M779 -133V-76M779 -38V-19M779 95V190M798 -114V-76M798 -38V-19M817 -266V-247M817 -228V-190M817 -152V-114M817 -95V-57M817 -38V19M817 76V152M836 -247V-133M836 -95V19M836 57V76M836 95V114M836 133V171M855 -228V-209M855 -171V-76M855 -57V-38M855 95V133M874 -190V-171M874 -152V-133M874 -57V152M893 -247V-228M893 -133V-57M893 -38V-19M893 0V76M893 95V133M912 -247V-190M912 -152V-114M912 -95V-19M912 19V133M931 -247V-190M931 -152V-114M931 -76V0M931 19V133M950 -228V-209M950 -190V-95M950 -76V38M950 57V114M969 -152V-57M969 -19V38M969 76V114M988 -247V-228M988 -209V-152M988 -133V-114M988 -95V38M988 57V95M1007 -247V-152M1007 -114V-76M1007 -57V-38M1007 0V95M1026 -190V-171M1026 -152V-133M1026 -114V-76M1026 -57V-19M1026 0V38M1026 57V76M1045 -152V-76M1045 -57V76M1064 -95V-76M1064 -57V19M1064 57V76M1083 -57V-38M1083 0V57M1102 -19V57M1121 19V38M12.5 0V19M0 10.6H12.5M5.3 0V10.6M0 6.2H5.3M5.3 6.6H12.5M9.5 6.6V10.6M7.1 10.6V19M0 14.3H7.1M7.1 13.5H12.5M12.5 8.3H19M12.5 15H19M11 19V38M0 28.2H11M5.5 19V28.2M11 31.4H19M11 23.5H19M9.5 38V57M0 49.1H9.5M0 44.5H9.5M3.8 44.5V49.1M5.8 49.1V57M9.5 49H19M9.5 42.7H19M13.1 42.7V49M9.5 46.7H13.1M13.1 45.3H19M31.4 38V57M19 45.1H31.4M25.6 45.1V57M19 53H25.6M25.6 51.5H31.4M31.4 49.1H38M31.4 42.5H38M28.7 57V76M19 63.5H28.7M25.5 57V63.5M19 60.2H25.5M22.5 57V60.2M22.2 60.2V63.5M25.5 61.1H28.7M19 70.9H28.7M24.6 63.5V70.9M24.6 66.6H28.7M28.7 69.4H38M28.7 62.1H38M34.4 57V62.1M45.3 -19V0M38 -8.5H45.3M38 -12.7H45.3M45.3 -9.1H57M49.2 -19V-9.1M48.7 0V19M38 9.9H48.7M44 0V9.9M38 5.4H44M44 6.5H48.7M44.5 9.9V19M38 14H44.5M40.8 9.9V14M41.4 14V19M44.5 13.1H48.7M44.5 17H48.7M48.7 11.2H57M48.7 4.8H57M51.8 0V4.8M52.4 4.8V11.2M48.7 7.5H52.4M46.4 19V38M38 26.1H46.4M46.4 31.6H57M51.4 31.6V38M47.5 38V57M38 44.6H47.5M41.2 38V44.6M47.5 48.9H57M47.5 42.2H57M51.7 42.2V48.9M46.5 57V76M38 67.6H46.5M38 63.9H46.5M41.4 57V63.9M38 60H41.4M41.4 60.7H46.5M42.8 63.9V67.6M43.1 67.6V76M38 70.9H43.1M43.1 71.1H46.5M46.5 64.6H57M51.4 57V64.6M46.5 59.6H51.4M46.5 72.1H57M51.8 64.6V72.1M51.8 68.9H57M51.8 72.1V76M46 76V95M38 86.7H46M46 86.8H57M50.4 86.8V95M44.4 95V114M38 102.1H44.4M38 109.1H44.4M44.4 106.5H57M52 95V106.5M44.4 99.6H52M45.2 133V152M38 145.1H45.2M45.2 140.8H57M51.9 133V140.8M66.3 95V114M57 101.4H66.3M61.6 95V101.4M57 109.1H66.3M62.3 101.4V109.1M66.3 106H76M66.3 99.4H76M71.1 95V99.4M70.2 99.4V106M71.1 106V114M87.4 -38V-19M76 -25.8H87.4M87.4 -28.7H95M87.3 -19V0M76 -9H87.3M80.5 -19V-9M80.5 -13.1H87.3M87.3 -11.5H95M87.7 95V114M76 105.9H87.7M87.7 106H95M86.7 114V133M76 124.4H86.7M81.7 114V124.4M76 120.6H81.7M83.1 124.4V133M86.7 122.4H95M87 133V152M76 141.9H87M82.8 133V141.9M87 141.3H95M83.9 152V171M76 160.5H83.9M76 165.8H83.9M83.9 164.6H95M84.2 190V209M76 202.1H84.2M76 196.3H84.2M84.2 196.9H95M84.2 203.2H95M87.6 209V228M76 217.8H87.6M80.5 209V217.8M81.5 217.8V228M81.5 222.2H87.6M87.6 215.8H95M87.6 222.9H95M88 228V247M76 237.6H88M88 236.1H95M88 243.1H95M103.5 -19V0M95 -10.4H103.5M103.5 -12.2H114M110.2 -19V-12.2M102.3 0V19M95 8.2H102.3M95 12.5H102.3M99.4 12.5V19M99.4 15H102.3M102.3 11.4H114M109.8 0V11.4M102.3 7.1H109.8M105.2 0V7.1M102.3 2.5H105.2M105.2 3.1H109.8M105.5 7.1V11.4M109.8 6.6H114M109.8 2.7H114M108.1 11.4V19M102.6 76V95M95 85.6H102.6M95 89.3H102.6M102.6 84.2H114M108.4 76V84.2M109.8 84.2V95M102.6 88.9H109.8M109.8 90.9H114M109.8 88.4H114M101.6 114V133M95 124.7H101.6M95 120.8H101.6M101.6 125.6H114M109.1 114V125.6M109.1 118.5H114M107.9 125.6V133M105.3 133V152M95 140.6H105.3M101.3 133V140.6M95 137.1H101.3M97.8 133V137.1M101.3 136.1H105.3M95 147.1H105.3M100.1 140.6V147.1M99 147.1V152M103 147.1V152M105.3 144.4H114M105.3 140.1H114M110.5 133V140.1M108.9 140.1V144.4M109.8 144.4V152M109.8 149H114M101.5 171V190M95 183.1H101.5M95 177.8H101.5M95 174.3H101.5M99 171V174.3M95 187.4H101.5M98.3 187.4V190M101.5 179.3H114M109.2 171V179.3M109.2 174.9H114M106.3 179.3V190M101.5 186.3H106.3M106.3 183.2H114M107.3 190V209M95 197.9H107.3M100 190V197.9M107.3 196.3H114M101.6 228V247M95 238.4H101.6M101.6 235.4H114M107.1 235.4V247M101.6 240H107.1M107.1 239.4H114M104.3 247V266M104.3 257H114M105.9 266V285M95 273.4H105.9M105.9 273.6H114M109.5 266V273.6M105.9 268.6H109.5M109.5 269.7H114M105.9 277.8H114M110.8 273.6V277.8M125.2 -38V-19M114 -31.3H125.2M118.9 -38V-31.3M114 -35.1H118.9M114 -23.6H125.2M120.8 -31.3V-23.6M120.8 -26.8H125.2M120.9 -23.6V-19M125.2 -27H133M125.2 -30.9H133M129.2 -38V-30.9M129.2 -33.3H133M129.1 -30.9V-27M125.2 -22H133M128.1 -27V-22M128.1 -22V-19M123.5 -19V0M114 -8.6H123.5M114 -12.2H123.5M118.2 -12.2V-8.6M123.5 -7.8H133M123.5 -13.4H133M129.3 -19V-13.4M129.7 -7.8V0M125.9 0V19M114 9.9H125.9M119.7 9.9V19M125.9 11.2H133M125.9 5.6H133M120.8 19V38M114 27.1H120.8M114 24.2H120.8M117.1 19V24.2M117.8 24.2V27.1M114 32.8H120.8M117.5 27.1V32.8M114 29.5H117.5M117.5 29.2H120.8M120.8 29.3H133M125 19V29.3M120.8 25.5H125M125 24.1H133M129.3 24.1V29.3M125.6 29.3V38M120.8 35.1H125.6M120.3 38V57M114 50.5H120.3M114 42.3H120.3M120.3 49.7H133M125.4 38V49.7M120.3 42.3H125.4M125.4 44.5H133M125.5 49.7V57M122.2 57V76M114 67.2H122.2M114 60.5H122.2M119.4 57V60.5M117.6 60.5V67.2M114 63.2H117.6M114 71.4H122.2M117.3 67.2V71.4M118.2 71.4V76M122.2 65.8H133M128.5 57V65.8M128.5 62.4H133M126.7 65.8V76M122.2 70.7H126.7M126.7 69.3H133M130.9 65.8V69.3M126.7 73.7H133M130.6 69.3V73.7M130.8 73.7V76M120.5 76V95M114 88.4H120.5M120.5 86H133M125.4 76V86M124.9 95V114M114 105.8H124.9M120.8 95V105.8M120.8 101.1H124.9M118.1 105.8V114M124.9 103.4H133M124.9 108H133M120.7 133V152M114 145.1H120.7M114 141H120.7M114 136.6H120.7M118.5 133V136.6M114 149.7H120.7M117.7 149.7V152M120.7 142.3H133M125.4 133V142.3M120.7 137.7H125.4M128.5 142.3V152M120.7 146.1H128.5M124.9 142.3V146.1M125.9 146.1V152M120.7 148.1H125.9M124.2 171V190M114 181.4H124.2M114 177.8H124.2M120.4 171V177.8M114 174.7H120.4M117.2 171V174.7M119.8 177.8V181.4M119 181.4V190M114 185.4H119M119 186.6H124.2M124.2 182.6H133M124.2 175.8H133M128.5 171V175.8M127.4 175.8V182.6M129.5 182.6V190M129.5 186.2H133M126.5 209V228M114 221H126.5M126.5 220.9H133M126.1 228V247M126.1 235.9H133M126.5 247V266M120.9 266V285M114 277.4H120.9M120.9 272.3H133M127.5 266V272.3M125.5 285V304M125.5 293.2H133M121 304V323M114 311.3H121M114 319H121M114 314.8H121M117.3 311.3V314.8M116.9 314.8V319M114 316.5H116.9M116.9 317.3H121M116.5 319V323M119 319V323M121 314H133M127.3 304V314M121 308.8H127.3M125.2 304V308.8M121 305.8H125.2M125.2 306.7H127.3M127.3 310.3H133M127.3 306.4H133M130.9 306.4V310.3M129.7 310.3V314M128.4 314V323M121 318.8H128.4M128.4 317.3H133M140.1 -38V-19M133 -30.4H140.1M140.1 -25.4H152M146.2 -25.4V-19M141.4 95V114M133 107.2H141.4M133 100.2H141.4M136.5 95V100.2M137.4 107.2V114M141.4 106.9H152M141.4 99.8H152M146.7 95V99.8M147.9 99.8V106.9M141.4 103.3H147.9M144.9 103.3V106.9M147.9 103.1H152M147.5 106.9V114M144.9 114V133M133 123.6H144.9M139.6 114V123.6M133 119.3H139.6M135.7 114V119.3M136.8 119.3V123.6M139.6 119.1H144.9M137.6 123.6V133M144.9 126H152M144.9 119.6H152M148.3 114V119.6M144.9 117.2H148.3M147.7 119.6V126M144.9 122.1H147.7M147.7 122.9H152M140.9 152V171M133 159.1H140.9M138 152V159.1M133 156H138M138 154.7H140.9M133 167.1H140.9M135.7 167.1V171M140.9 160.3H152M146.6 152V160.3M140.9 155.9H146.6M146.6 155.7H152M147.1 160.3V171M140.9 166.5H147.1M147.1 166.1H152M147.1 163.2H152M139.5 190V209M133 197.1H139.5M139.5 197.5H152M142.9 228V247M133 236.1H142.9M138.7 228V236.1M142.9 234.5H152M146 228V234.5M145.3 247V266M133 259.4H145.3M133 253.4H145.3M140 247V253.4M145.3 253.9H152M145.3 258.8H152M144.6 266V285M144.6 274.1H152M144.6 279.7H152M144.4 285V304M133 292.8H144.4M137.5 285V292.8M139.2 292.8V304M139.2 297.8H144.4M144.4 295.5H152M140.1 304V323M133 312.3H140.1M133 307.7H140.1M136.6 304V307.7M133 318.9H140.1M135.8 312.3V318.9M136.9 318.9V323M133 320.6H136.9M136.9 321.5H140.1M140.1 313.3H152M144.5 304V313.3M140.1 307.6H144.5M141.7 304V307.6M140.1 310.9H144.5M144.5 307.8H152M149 307.8V313.3M146.2 313.3V323M140.1 317.2H146.2M142.8 317.2V323M142.8 320.9H146.2M146.2 316.7H152M149.4 313.3V316.7M143.8 323V342M133 335.5H143.8M133 329H143.8M140 323V329M138.5 329V335.5M143.8 333.4H152M143.8 328.1H152M149 323V328.1M148.4 328.1V333.4M143.8 338.4H152M149.2 333.4V338.4M146.7 338.4V342M145 342V361M133 352.4H145M140.1 342V352.4M133 346.7H140.1M140.1 345.9H145M140.3 352.4V361M133 356.8H140.3M137.8 352.4V356.8M135.7 356.8V361M133 359.4H135.7M140.3 356H145M142 352.4V356M140.3 358.9H145M143.1 356V358.9M145 353.7H152M145 348H152M148.4 348V353.7M148.4 350H152M145 356.7H152M140.7 361V380M133 372.3H140.7M137.5 372.3V380M133 374.9H137.5M140.7 371.4H152M146.9 361V371.4M140.7 366.9H146.9M145.4 371.4V380M135 363V372M136.6 363V372M138.2 363V372M139.8 363V372M141.4 363V372M143 363V372M161.3 0V19M152 10.8H161.3M152 6.5H161.3M157.2 0V6.5M157.2 3.6H161.3M161.3 9.6H171M163.3 19V38M152 31.6H163.3M152 27H163.3M157.7 19V27M155.8 27V31.6M158.9 31.6V38M163.3 27.5H171M163.3 31.3H171M159.7 57V76M152 68.9H159.7M152 62.6H159.7M159.7 66.6H171M165.8 66.6V76M159.7 69.8H165.8M165.8 72.8H171M160.7 76V95M152 83H160.7M152 90.9H160.7M157.4 90.9V95M160.7 82.4H171M166.2 76V82.4M160.7 78.2H166.2M164 76V78.2M163 78.2V82.4M166.2 78.6H171M160.7 90.8H171M166 82.4V90.8M160.7 86.8H166M166 87.9H171M165.2 90.8V95M169.1 90.8V95M163.2 95V114M152 102.6H163.2M156.6 95V102.6M156.6 97.7H163.2M160.5 95V97.7M159 97.7V102.6M152 109.5H163.2M156 102.6V109.5M158.7 102.6V109.5M156 107.2H158.7M158.7 105.9H163.2M159.1 109.5V114M156.7 109.5V114M163.2 105.7H171M163.2 100.2H171M167.8 100.2V105.7M167.8 102.5H171M161.3 114V133M152 124.9H161.3M152 120.7H161.3M157.4 114V120.7M157.4 124.9V133M161.3 121H171M161.3 125.7H171M167.6 121V125.7M163.8 152V171M152 162.3H163.8M163.8 158.8H171M163.8 163.9H171M160.3 171V190M152 178.4H160.3M155.8 171V178.4M152 174.6H155.8M155.8 174.1H160.3M152 184.2H160.3M155.3 178.4V184.2M155.3 181.2H160.3M160.3 181.3H171M167.2 171V181.3M160.3 174.9H167.2M162.6 174.9V181.3M160.3 177.8H162.6M162.6 178.6H167.2M167.2 175.3H171M166.2 181.3V190M160.3 185.5H166.2M163.3 181.3V185.5M163.5 185.5V190M166.2 186.1H171M164 209V228M152 219.2H164M158.5 209V219.2M156.8 219.2V228M156.8 223.6H164M164 220.2H171M164 223.1H171M167.3 223.1V228M159.3 228V247M152 237.6H159.3M152 234.2H159.3M155.4 228V234.2M152 230.5H155.4M155.4 230.3H159.3M152 241.3H159.3M156.6 237.6V241.3M159.3 240.2H171M159.3 232.4H171M166.2 228V232.4M168.2 228V232.4M166.2 230.7H168.2M164 232.4V240.2M159.3 236.7H164M161.3 236.7V240.2M164 236.8H171M166.9 236.8V240.2M165.5 240.2V247M159.3 242.8H165.5M162.8 242.8V247M159.3 244.2H162.8M159.3 247V266M152 256.1H159.3M159.3 257.3H171M164.8 247V257.3M159.3 253.5H164.8M164.8 253.8H171M164.8 249.7H171M159.3 266V285M159.3 274.5H171M164.8 266V274.5M163.2 274.5V285M163.2 304V323M152 315.4H163.2M152 310.1H163.2M158.6 304V310.1M155.9 304V310.1M152 307.6H155.9M155.9 307.5H158.6M156.5 310.1V315.4M152 312H156.5M154.6 310.1V312M160.4 310.1V315.4M158.3 315.4V323M152 319.4H158.3M154.8 315.4V319.4M156.2 319.4V323M154 319.4V323M163.2 313.5H171M163.2 308.4H171M167.6 304V308.4M166 308.4V313.5M163.2 318.4H171M167.9 313.5V318.4M167.9 315.9H171M168.3 318.4V323M164.4 323V342M152 332.5H164.4M156.8 323V332.5M152 326.4H156.8M156.4 332.5V342M152 338.8H156.4M164.4 332H171M164.4 328.9H171M164.4 338.4H171M162.5 342V361M152 349.6H162.5M156.5 342V349.6M162.5 351.5H171M161.4 361V380M159.1 380V399M152 390.8H159.1M152 395.1H159.1M159.1 392.3H171M159.1 386.8H171M167 380V386.8M164.1 380V386.8M159.1 384.3H164.1M167 384.5H171M166.9 386.8V392.3M163.5 386.8V392.3M164.1 399V418M152 410.5H164.1M159.6 399V410.5M152 405.7H159.6M155.8 405.7V410.5M152 408.2H155.8M159.6 405.6H164.1M159.6 402.6H164.1M161.9 402.6V405.6M157.1 410.5V418M157.1 413.2H164.1M160.8 410.5V413.2M164.1 409.8H171M164.1 405.5H171M167.5 405.5V409.8M164.1 408.3H167.5M167.5 408.1H171M164.1 413H171M168 409.8V413M167.4 413V418M182.4 38V57M171 48.3H182.4M175.5 38V48.3M171 42.4H175.5M175.5 42.5H182.4M178.6 38V42.5M178.5 48.3V57M171 53.9H178.5M182.4 50.2H190M182.4 42.1H190M182.4 45.9H190M185.3 50.2V57M182.6 152V171M171 161.4H182.6M175.8 161.4V171M171 167.2H175.8M175.8 164.8H182.6M182.6 160H190M182.6 165.9H190M180.7 171V190M171 183H180.7M171 176.1H180.7M175.4 171V176.1M175.9 183V190M180.7 180H190M186.8 171V180M180.7 176.8H186.8M180.7 183.6H190M186.9 180V183.6M183.8 180V183.6M177.3 190V209M171 199.4H177.3M171 196.3H177.3M171 202.7H177.3M177.3 199.3H190M183.1 199.3V209M183.1 205.1H190M185.5 205.1V209M181.3 209V228M171 217.8H181.3M177.7 209V217.8M171 213.4H177.7M174.1 213.4V217.8M171 215.9H174.1M177.7 213.5H181.3M174.7 217.8V228M171 222.9H174.7M171 219.8H174.7M174.7 221.2H181.3M178.8 217.8V221.2M174.7 225.1H181.3M177.6 221.2V225.1M178.8 225.1V228M181.3 220.4H190M181.3 214.5H190M186.8 209V214.5M186.8 212.6H190M184.3 214.5V220.4M184.3 217.8H190M186.9 220.4V228M181.3 225.3H186.9M184 225.3V228M178.3 228V247M171 234.5H178.3M178.3 239H190M186 228V239M178.3 234.9H186M182.2 228V234.9M178.3 231.8H182.2M182.1 234.9V239M186 233.4H190M184.6 239V247M182.6 247V266M171 258.3H182.6M182.6 254.5H190M177.6 266V285M171 278.5H177.6M173 306V315M174.6 306V315M176.2 306V315M177.8 306V315M179.4 306V315M181 306V315M178.3 323V342M171 330.3H178.3M171 337.2H178.3M178.3 334.6H190M182.9 334.6V342M178.3 338.5H182.9M178.1 342V361M171 350.8H178.1M178.1 349H190M178.1 356.6H190M185.4 356.6V361M181.1 356.6V361M177.5 380V399M171 386.8H177.5M171 393.3H177.5M177.5 386.9H190M183.4 380V386.9M183.4 382.9H190M178.8 399V418M171 406.2H178.8M175.4 399V406.2M178.8 411.3H190M178.8 403.3H190M185.7 399V403.3M183.1 403.3V411.3M184.3 411.3V418M199.2 -19V0M190 -10.6H199.2M199.2 -6.3H209M199.2 -14.1H209M203.6 -19V-14.1M204 -14.1V-6.3M203.9 -6.3V0M197.9 0V19M190 12.2H197.9M190 5.2H197.9M197.9 11.7H209M197.9 6.4H209M204.3 0V6.4M204.4 11.7V19M201 57V76M190 69.2H201M190 62.2H201M194.8 57V62.2M198.9 57V62.2M196.2 62.2V69.2M195.6 69.2V76M201 66.9H209M201 62.6H209M204.2 57V62.6M201 59.3H204.2M204.3 62.6V66.9M196.9 95V114M190 104.5H196.9M190 99.5H196.9M194.5 99.5V104.5M190 110H196.9M196.9 102.7H209M203.4 95V102.7M196.9 97.9H203.4M202.4 102.7V114M196.9 109.3H202.4M199.9 109.3V114M202.4 110H209M202.4 107.5H209M205 107.5V110M202.1 114V133M190 123.2H202.1M195.4 114V123.2M195.4 118.5H202.1M199.2 114V118.5M196.3 123.2V133M190 129.6H196.3M192.7 129.6V133M202.1 120.5H209M202.1 126H209M202.1 128.6H209M205.6 128.6V133M201.2 152V171M190 164.7H201.2M201.2 164H209M201.2 157.6H209M202.1 171V190M190 177.5H202.1M190 183.6H202.1M194 183.6V190M202.1 182.1H209M202.1 176.6H209M205.8 171V176.6M200.3 190V209M196.4 209V228M190 217.8H196.4M196.4 221.6H209M196.4 217.3H209M203.6 217.3V221.6M203.6 221.6V228M200.1 221.6V228M199.5 228V247M190 237H199.5M199.5 240.7H209M205.5 240.7V247M197.8 247V266M190 253.3H197.8M193.1 247V253.3M190 250.6H193.1M190 259.8H197.8M194.3 253.3V259.8M190 256.9H194.3M191.5 253.3V256.9M194.3 256.4H197.8M194.4 259.8V266M190 263.5H194.4M192.1 259.8V263.5M192.5 263.5V266M194.4 263.6H197.8M197.8 255.5H209M202.8 247V255.5M197.8 251.5H202.8M199.7 247V251.5M200.2 251.5V255.5M202.8 251.2H209M203.7 255.5V266M197.8 259.5H203.7M200 255.5V259.5M197.8 262.8H203.7M203.7 261.8H209M207.2 261.8V266M197.8 266V285M190 275.3H197.8M197.8 276.4H209M198.2 285V304M190 297.4H198.2M190 290.4H198.2M194.4 290.4V297.4M190 292.8H194.4M194.4 294.6H198.2M194.6 297.4V304M198.2 293.6H209M199.6 304V323M190 312.2H199.6M193.3 304V312.2M190 307.6H193.3M193.3 309.4H199.6M190 318.4H199.6M194.6 318.4V323M199.6 315.9H209M196.3 323V342M190 331.4H196.3M190 327.7H196.3M192.5 323V327.7M190 326H192.5M192.5 325.6H196.3M192.6 327.7V331.4M190 335.9H196.3M192.7 331.4V335.9M190 333.2H192.7M192.7 333.2H196.3M194 335.9V342M190 338.8H194M194 338.2H196.3M196.3 331.8H209M201.7 323V331.8M196.3 327.1H201.7M201.7 327.7H209M205.2 323V327.7M201.7 325.6H205.2M205.2 325.9H209M203.8 331.8V342M196.3 336.8H203.8M200.6 336.8V342M200.6 340.2H203.8M203.8 335.3H209M206.3 331.8V335.3M203.8 338.4H209M206.7 335.3V338.4M196.4 342V361M190 350.1H196.4M190 346.7H196.4M196.4 351.6H209M201.3 342V351.6M196.4 348.3H201.3M201.3 347.7H209M204.3 351.6V361M196.4 355.2H204.3M201.5 351.6V355.2M199.6 355.2V361M202.7 361V380M190 368.4H202.7M202.7 372.8H209M202.7 367.8H209M202.7 363.9H209M201.9 380V399M201.9 387H209M219.6 -38V-19M209 -29.6H219.6M212.8 -29.6V-19M209 -24.3H212.8M219.6 -28.9H228M216.6 0V19M209 10.3H216.6M209 5.5H216.6M216.6 6.4H228M217.9 19V38M209 30.7H217.9M209 24.8H217.9M212.1 24.8V30.7M217.9 29.4H228M217.9 23.5H228M224.4 19V23.5M223.6 29.4V38M221.5 76V95M209 86.5H221.5M214.9 76V86.5M209 82.8H214.9M209 79.8H214.9M211.1 76V79.8M214.9 80.5H221.5M218.7 76V80.5M215.7 86.5V95M215.7 90.3H221.5M219.1 86.5V90.3M221.5 86.2H228M221.5 82.6H228M219.7 114V133M209 123.1H219.7M214.7 114V123.1M209 118.6H214.7M219.7 124.6H228M219.7 117.9H228M221.4 133V152M209 145H221.4M213.4 145V152M221.4 144.5H228M217.5 171V190M209 178H217.5M217.5 177.5H228M223.9 171V177.5M217.5 183.9H228M221.9 183.9V190M218.7 190V209M209 199.3H218.7M218.7 202.2H228M218.7 194.9H228M223.2 190V194.9M222.8 194.9V202.2M222.8 198.2H228M217 209V228M217.3 228V247M209 237.6H217.3M209 232.9H217.3M213 228V232.9M213.7 232.9V237.6M209 241H217.3M217.3 239.9H228M217.3 234.8H228M221.3 228V234.8M219.3 247V266M209 255.3H219.3M213 247V255.3M209 252H213M209 249.5H213M213 251.1H219.3M216.7 251.1V255.3M213 253.6H216.7M216.7 252.7H219.3M209 262.2H219.3M212.7 255.3V262.2M212.7 259.2H219.3M216.3 255.3V259.2M215.8 259.2V262.2M212.5 262.2V266M219.3 257H228M219.3 252.7H228M223.4 247V252.7M219.3 250.6H223.4M221.3 247V250.6M223.3 252.7V257M219.3 254.9H223.3M225.9 252.7V257M219.3 260.7H228M223.7 257V260.7M222 257V260.7M225.7 257V260.7M225.1 260.7V266M222 260.7V266M218.3 266V285M209 273.1H218.3M209 279.9H218.3M213.1 279.9V285M218.3 273.2H228M223.7 266V273.2M218.3 270.2H223.7M223.7 268.5H228M220 285V304M209 297.2H220M209 292.7H220M215.4 285V292.7M215.4 289.5H220M216.1 292.7V297.2M220 296.1H228M220 292.2H228M222.7 285V292.2M220 289.6H222.7M224.3 292.2V296.1M216.4 304V323M209 315.1H216.4M209 310.6H216.4M213.6 304V310.6M209 320H216.4M212.6 320V323M216.4 313.8H228M221.3 304V313.8M216.4 307.6H221.3M218.7 304V307.6M221.3 309H228M224.3 309V313.8M220.4 313.8V323M216.4 319.1H220.4M216.4 317H220.4M220.4 318.3H228M223.9 313.8V318.3M220.4 316.5H223.9M223.8 318.3V323M223.8 321.2H228M221.1 323V342M209 330.1H221.1M216.7 323V330.1M212.5 323V330.1M212.5 325.4H216.7M214.1 323V325.4M212.5 327H216.7M215.8 330.1V342M209 336.5H215.8M211.5 330.1V336.5M209 334.1H211.5M211.5 334.1H215.8M213.2 336.5V342M209 339.2H213.2M213.2 339.8H215.8M215.8 334.8H221.1M215.8 337.7H221.1M219.3 337.7V342M221.1 330.1H228M221.1 336.1H228M224.9 330.1V336.1M221.1 333.1H224.9M219.5 342V361M209 352.5H219.5M209 347.9H219.5M219.5 351H228M219.5 354.6H228M222.5 354.6V361M218.5 361V380M209 371.1H218.5M209 367.5H218.5M213.4 367.5V371.1M218.5 370.9H228M218.5 365H228M221.5 380V399M209 387.7H221.5M217.3 387.7V399M209 392.7H217.3M213.4 387.7V392.7M212.6 392.7V399M217.3 394.2H221.5M221.5 392.7H228M221.5 386.8H228M240.4 -38V-19M228 -26.1H240.4M232.5 -38V-26.1M228 -31.7H232.5M228 -34.2H232.5M228 -29.6H232.5M232.5 -33.3H240.4M236.4 -33.3V-26.1M232.5 -28.8H236.4M233.5 -26.1V-19M228 -22.9H233.5M230.6 -26.1V-22.9M230.8 -22.9V-19M240.4 -25.4H247M240.4 -30.3H247M243.9 -30.3V-25.4M238.1 -19V0M228 -7.3H238.1M228 -13.2H238.1M231.5 -19V-13.2M233.5 -7.3V0M238.1 -12.2H247M238.1 -4.5H247M236.7 38V57M228 47H236.7M236.7 45.5H247M243.1 38V45.5M239.6 57V76M228 66.3H239.6M234.7 66.3V76M228 71.5H234.7M234.7 71.3H239.6M239.6 67.4H247M236.5 152V171M228 160.4H236.5M233.1 152V160.4M228 156.4H233.1M233.1 155.8H236.5M228 166.7H236.5M233 160.4V166.7M236.5 162.3H247M242.5 152V162.3M242.5 157.6H247M243.4 162.3V171M237.1 171V190M228 177.6H237.1M233 171V177.6M228 173.4H233M228 183.8H237.1M232.8 177.6V183.8M231.2 183.8V190M228 186.2H231.2M231.2 186.7H237.1M233.3 186.7V190M237.1 178.9H247M242.4 171V178.9M237.1 174.6H242.4M239.3 174.6V178.9M237.1 176.3H239.3M242.4 174.4H247M245.3 171V174.4M244.2 174.4V178.9M244.2 176.6H247M237.1 186.1H247M243 178.9V186.1M237.1 181.6H243M241 178.9V181.6M240.6 181.6V186.1M243 183.5H247M243 181.3H247M242.2 186.1V190M238.9 186.1V190M243.9 186.1V190M236.1 190V209M228 201.1H236.1M228 194.2H236.1M231.2 190V194.2M228 192.8H231.2M232.9 190V194.2M232.8 194.2V201.1M228 198.5H232.8M230.3 194.2V198.5M230.2 198.5V201.1M232.8 197.9H236.1M231 201.1V209M228 203.8H231M228 206.1H231M231 206.3H236.1M233.9 206.3V209M236.1 198.3H247M242.2 190V198.3M236.1 193.8H242.2M242.2 194.4H247M244.7 190V194.4M242.9 198.3V209M236.1 203.2H242.9M238.7 198.3V203.2M238.9 203.2V209M242.9 203.4H247M242.9 200.7H247M242.9 205.9H247M244.9 205.9V209M239.1 209V228M239.1 220.2H247M239.1 214.9H247M236.2 247V266M228 253.8H236.2M231.1 247V253.8M228 259.1H236.2M236.2 259.1H247M240 259.1V266M243.8 259.1V266M240 262H243.8M243.8 263.7H247M238.6 266V285M228 277.4H238.6M228 272.1H238.6M238.6 276.3H247M238.4 304V323M228 315.2H238.4M238.4 314.6H247M239.2 323V342M228 334.8H239.2M233.6 334.8V342M239.2 329.9H247M244.1 323V329.9M239.2 325.3H244.1M244.1 326.1H247M239.2 337.2H247M230 325V334M231.6 325V334M233.2 325V334M234.8 325V334M236.4 325V334M238 325V334M239.3 342V361M228 351.6H239.3M232.1 342V351.6M239.3 349H247M239.3 355.1H247M242 355.1V361M238.6 361V380M228 373.2H238.6M228 369H238.6M238.6 367.7H247M242.7 361V367.7M259.7 -38V-19M247 -26.2H259.7M251.3 -26.2V-19M259.7 -30.5H266M258.4 -19V0M247 -7.7H258.4M253.1 -19V-7.7M247 -12.8H253.1M247 -15.3H253.1M251.1 -19V-15.3M253.1 -13.3H258.4M253.1 -16.9H258.4M253.1 -10.5H258.4M253.1 -7.7V0M247 -3.9H253.1M249.4 -7.7V-3.9M250.2 -3.9V0M253.1 -2.8H258.4M258.4 -7.3H266M258.4 -11.7H266M257.7 0V19M247 12.3H257.7M257.7 7.8H266M254.5 19V38M247 26.6H254.5M247 31.5H254.5M254.5 30.7H266M259.7 30.7V38M254.6 57V76M247 64.3H254.6M251.2 57V64.3M247 60.5H251.2M251.2 61.6H254.6M247 71.4H254.6M251.9 64.3V71.4M251.9 67H254.6M250.2 71.4V76M254.6 65.8H266M259.4 57V65.8M259.4 62.5H266M261.5 65.8V76M259.5 76V95M247 86.7H259.5M253.6 76V86.7M247 82.1H253.6M251.4 76V82.1M247 78.3H251.4M251.4 79.4H253.6M253.6 82.8H259.5M253.6 79.2H259.5M256.9 82.8V86.7M253.9 86.7V95M253.9 92.1H259.5M256.6 86.7V92.1M259.5 86.4H266M259.5 79.6H266M259.5 91.4H266M263.1 91.4V95M253.6 95V114M247 106H253.6M247 102.1H253.6M253.6 107.1H266M259.3 171V190M247 182.7H259.3M259.3 177.4H266M259.3 184.7H266M257.1 190V209M247 199.2H257.1M251.1 190V199.2M247 194.5H251.1M251.1 195H257.1M253.7 199.2V209M253.7 204.2H257.1M257.1 200.4H266M255.4 228V247M247 235.9H255.4M250.9 228V235.9M247 231H250.9M250.9 231.5H255.4M253.1 228V231.5M253.4 231.5V235.9M250.9 233.6H253.4M253.4 233.9H255.4M247 240.9H255.4M252.6 235.9V240.9M250.5 235.9V240.9M252.6 239H255.4M251.1 240.9V247M247 244.2H251.1M249.6 244.2V247M255.4 239.5H266M255.4 232.6H266M261.2 228V232.6M258.1 228V232.6M255.4 229.7H258.1M264 228V232.6M264 229.9H266M260.8 232.6V239.5M255.4 236.6H260.8M257.7 236.6V239.5M260.8 235.7H266M262.3 239.5V247M255.4 242.8H262.3M259.4 242.8V247M262.3 243.6H266M256.6 247V266M247 257.9H256.6M247 251.8H256.6M252.5 251.8V257.9M256.6 256.3H266M261.1 247V256.3M256.6 250.4H261.1M261.1 251.3H266M256.6 260.5H266M261 256.3V260.5M262.3 260.5V266M255.5 266V285M247 275.9H255.5M255.5 276.6H266M255.6 304V323M247 315.2H255.6M247 307.8H255.6M252.7 304V307.8M252.4 307.8V315.2M247 311.6H252.4M249.4 307.8V311.6M250.1 311.6V315.2M252.4 311.4H255.6M252.2 315.2V323M247 317.9H252.2M252.2 319.6H255.6M252.2 317.7H255.6M255.6 311.3H266M262.1 304V311.3M255.6 308.4H262.1M258 308.4V311.3M260.3 308.4V311.3M262.1 307.2H266M262.1 309.4H266M255.6 316.9H266M260.1 311.3V316.9M263.9 311.3V316.9M261 316.9V323M255.6 320.1H261M258 316.9V320.1M259.2 323V342M247 330.4H259.2M252.1 330.4V342M252.1 337.8H259.2M255.9 337.8V342M259.2 334.3H266M259.2 327.2H266M261.8 323V327.2M259.2 329.7H266M263.3 329.7V334.3M257.7 342V361M247 350.2H257.7M251.7 342V350.2M247 344.8H251.7M251.7 345H257.7M254.7 345V350.2M251.7 347.7H254.7M254.7 347.8H257.7M247 356.4H257.7M251.3 350.2V356.4M254.9 350.2V356.4M251.3 353.2H254.9M254.9 352.6H257.7M250.9 356.4V361M247 359.1H250.9M257.7 354.5H266M257.7 347.4H266M261.2 342V347.4M257.7 344.8H261.2M260.7 347.4V354.5M260.5 354.5V361M257.7 358.1H260.5M260.5 357.2H266M263.2 357.2V361M259 361V380M247 370.7H259M259 372.9H266M259 367.8H266M262.5 367.8V372.9M259 375.3H266M263.2 372.9V375.3M263.2 375.3V380M259.3 380V399M247 392.2H259.3M251.8 392.2V399M273.5 133V152M266 144.7H273.5M266 138.6H273.5M270.2 133V138.6M269.5 138.6V144.7M273.5 139.7H285M278.6 133V139.7M276.9 190V209M266 200.6H276.9M271.3 190V200.6M266 193.7H271.3M268.2 190V193.7M266 196.5H271.3M268.9 196.5V200.6M271.3 196.5H276.9M271.3 192.2H276.9M273.6 190V192.2M269.9 200.6V209M266 204.5H269.9M266 206.8H269.9M269.9 204.8H276.9M273.3 200.6V204.8M269.9 203H273.3M272.7 204.8V209M272.7 206.7H276.9M276.9 199.3H285M276.9 195.1H285M282.1 190V195.1M280.3 190V195.1M276.9 192.8H280.3M280.3 192.1H282.1M282.1 192.1H285M282.1 195.1V199.3M279.2 195.1V199.3M279.2 197.4H282.1M282.1 196.8H285M276.9 203H285M280.1 199.3V203M283 199.3V203M280.6 203V209M280.6 205.9H285M283.5 203V205.9M282.4 205.9V209M272.4 209V228M266 216.4H272.4M266 221.8H272.4M270 216.4V221.8M266 219.4H270M270 219.9H272.4M272.4 217.7H285M280.8 209V217.7M272.4 214.8H280.8M276.2 209V214.8M276.2 211.1H280.8M277.9 214.8V217.7M280.8 214.2H285M280.8 211.6H285M282.5 209V211.6M282.5 211.6V214.2M283.1 214.2V217.7M279.4 217.7V228M272.4 223.9H279.4M276.3 217.7V223.9M272.4 221.7H276.3M276.3 219.9H279.4M276.9 223.9V228M274.1 223.9V228M276.9 226.3H279.4M279.4 221.5H285M279.4 224.2H285M283 224.2V228M278.6 247V266M266 258H278.6M271.9 258V266M266 260.8H271.9M271.9 260.8H278.6M278.6 253.3H285M274.2 266V285M266 275.6H274.2M266 269.9H274.2M274.2 278.4H285M274.2 270.2H285M279.1 266V270.2M278.8 278.4V285M268 268V277M269.6 268V277M271.2 268V277M272.8 268V277M274.4 268V277M276 268V277M277.2 304V323M266 311.2H277.2M270 304V311.2M277.2 315.2H285M275.8 323V342M266 331.4H275.8M269.5 323V331.4M266 326.4H269.5M269.5 326.2H275.8M275.8 334.6H285M275.8 328.6H285M279.8 334.6V342M275.8 337.6H279.8M279.8 339.4H285M268 325V334M269.6 325V334M271.2 325V334M272.8 325V334M274.4 325V334M276 325V334M276.4 342V361M266 354.4H276.4M271 354.4V361M276.4 350.7H285M276.4 345.8H285M276.9 361V380M266 370.1H276.9M272.9 361V370.1M266 364.7H272.9M272.9 365.4H276.9M271.3 370.1V380M266 375.6H271.3M266 373.5H271.3M269.5 373.5V375.6M268.3 375.6V380M266 377.3H268.3M268.3 377.8H271.3M271.3 374.4H276.9M271.3 376.5H276.9M274.8 376.5V380M276.9 367.4H285M281.6 361V367.4M276.9 364.9H281.6M278.6 364.9V367.4M276.9 373.3H285M281.9 367.4V373.3M276.9 371.1H281.9M279.7 371.1V373.3M281.9 369.7H285M279.9 373.3V380M276.9 376H279.9M279.9 377H285M282 373.3V377M283.3 377V380M295.9 133V152M295.9 145.7H304M295.9 139.7H304M294.9 152V171M285 159.9H294.9M291.2 152V159.9M285 155.2H291.2M291.2 157H294.9M291.2 153.8H294.9M285 163.6H294.9M289 159.9V163.6M292.2 159.9V163.6M290.1 163.6V171M285 166.8H290.1M288.4 163.6V166.8M288.1 166.8V171M294.9 164.6H304M294.9 160.2H304M297.9 152V160.2M294.9 154.9H297.9M297.9 157.1H304M301.1 152V157.1M298.3 160.2V164.6M294.9 162.9H298.3M301.7 160.2V164.6M300.9 164.6V171M294.9 167.8H300.9M298.6 164.6V167.8M300.9 168.3H304M294.2 171V190M285 179.5H294.2M294.2 180.2H304M296.2 190V209M295.3 209V228M285 219.4H295.3M285 215.6H295.3M289.2 209V215.6M285 213.3H289.2M285 211.4H289.2M289.2 213H295.3M293 213V215.6M290.9 215.6V219.4M292.4 215.6V219.4M289 219.4V228M285 222.5H289M289 223.4H295.3M295.3 218.1H304M295.3 212.6H304M298.7 209V212.6M300.8 209V212.6M301.1 212.6V218.1M301.1 216H304M295.3 221.7H304M300.9 218.1V221.7M297.3 218.1V221.7M299.1 221.7V228M295.3 224.6H299.1M299.1 225.7H304M301.7 221.7V225.7M302 225.7V228M297.5 228V247M285 240.7H297.5M292.8 240.7V247M287.9 240.7V247M297.5 239.7H304M297.5 242.9H304M294.1 247V266M285 255.6H294.1M285 262.4H294.1M290.5 255.6V262.4M285 258.7H290.5M290.5 258.3H294.1M294.1 258.6H304M294.1 253.1H304M300 253.1V258.6M299.9 258.6V266M294.1 263.1H299.9M299.9 262.3H304M291.8 266V285M285 272.8H291.8M287.3 266V272.8M285 269.3H287.3M287.3 269.1H291.8M285 278.5H291.8M288.1 278.5V285M291.8 275.4H304M295.9 275.4V285M291.8 279.4H295.9M291.7 285V304M285 293.7H291.7M285 290.8H291.7M291.7 294.9H304M297.3 323V342M285 332.7H297.3M297.3 331.8H304M297.3 327.2H304M297.1 342V361M297.1 348.5H304M297.1 353.6H304M294.5 361V380M285 368.9H294.5M314 133V152M314 143.8H323M314 136.7H323M316.4 152V171M304 164.2H316.4M310 152V164.2M304 158H310M310.5 164.2V171M316.4 160.9H323M316.4 157.3H323M306 154V163M307.6 154V163M309.2 154V163M310.8 154V163M312.4 154V163M314 154V163M312.4 171V190M304 179.8H312.4M304 174.8H312.4M307.3 171V174.8M310.1 171V174.8M307.8 174.8V179.8M304 177.4H307.8M304 185.4H312.4M307.7 179.8V185.4M306.8 185.4V190M304 187.9H306.8M309.3 185.4V190M306.8 187.8H309.3M312.4 177.9H323M316.2 171V177.9M316.2 174.7H323M312.4 182.2H323M317.9 177.9V182.2M315 177.9V182.2M312.4 180.2H315M320.3 177.9V182.2M318.1 182.2V190M312.4 185.7H318.1M316 182.2V185.7M315.7 185.7V190M318.1 187.3H323M318.1 185.1H323M320.4 187.3V190M316.7 190V209M304 197.8H316.7M309.2 190V197.8M304 192.9H309.2M309.2 194.1H316.7M313.6 190V194.1M311.2 190V194.1M310.5 197.8V209M304 203.1H310.5M307.4 197.8V203.1M307.4 200.6H310.5M306.5 203.1V209M306.5 206.8H310.5M310.5 204.5H316.7M316.7 198.1H323M316.7 193.6H323M320.6 193.6V198.1M316.7 202.6H323M314.3 209V228M304 221H314.3M304 216H314.3M309.1 209V216M307.6 216V221M308.1 221V228M304 224.2H308.1M308.1 224.2H314.3M314.3 218.9H323M314.3 222.4H323M319 218.9V222.4M311.1 228V247M304 234.6H311.1M304 239.6H311.1M308.3 234.6V239.6M311.1 237.6H323M311.3 247V266M304 255.4H311.3M304 252.1H311.3M311.3 255.7H323M315.7 255.7V266M311.3 259.4H315.7M315.7 260.8H323M319.2 255.7V260.8M311.9 266V285M304 272.9H311.9M308 266V272.9M304 268.3H308M304 270.3H308M308 269.4H311.9M304 278.4H311.9M306.7 272.9V278.4M304 275.2H306.7M306.7 274.7H311.9M308.6 272.9V274.7M306.6 278.4V285M306.6 281.4H311.9M309.5 281.4V285M311.9 277.3H323M311.9 272.4H323M316.2 266V272.4M311.9 269.9H316.2M313.9 266V269.9M314.7 269.9V272.4M319.2 272.4V277.3M315.4 272.4V277.3M315.4 275.3H319.2M319.2 274.2H323M317.2 277.3V285M311.9 281.5H317.2M314.7 277.3V281.5M311.9 279.5H314.7M314.7 279.4H317.2M317.2 280H323M320.3 280V285M317.2 283.3H320.3M313.7 285V304M304 296.8H313.7M313.7 295.7H323M312.5 304V323M304 315.3H312.5M304 309.2H312.5M309.6 304V309.2M309.6 306.6H312.5M308.4 309.2V315.3M304 311.7H308.4M308.3 315.3V323M304 318.1H308.3M306.3 315.3V318.1M308.3 318.6H312.5M308.3 320.6H312.5M312.5 311.2H323M319 304V311.2M312.5 317.5H323M319.3 311.2V317.5M319.3 314.8H323M318.4 317.5V323M315.7 317.5V323M312.5 320.5H315.7M318.4 319.6H323M314.4 342V361M332.4 152V171M323 163.4H332.4M323 158.7H332.4M328.7 152V158.7M323 156.3H328.7M325.4 152V156.3M327.1 158.7V163.4M329.3 158.7V163.4M327.1 160.4H329.3M327.1 163.4V171M323 167.5H327.1M325.4 163.4V167.5M323 165.4H325.4M327.1 167.8H332.4M330.3 163.4V167.8M327.1 164.9H330.3M332.4 161H342M336 152V161M332.4 157.1H336M336 157.3H342M338.6 152V157.3M336 154.6H338.6M332.4 164.6H342M336.4 161V164.6M338.3 161V164.6M338.5 164.6V171M332.4 167.8H338.5M335.8 164.6V167.8M334.7 167.8V171M338.5 168.3H342M332.6 209V228M323 216.5H332.6M332.6 220H342M332.6 213.1H342M333.7 228V247M323 237.6H333.7M333.7 235.5H342M333.7 242.1H342M325 230V239M326.6 230V239M328.2 230V239M329.8 230V239M331.4 230V239M333 230V239M332.9 247V266M323 257.4H332.9M323 250.6H332.9M329.4 247V250.6M327.8 250.6V257.4M332.9 253.7H342M336.5 247V253.7M332.9 258.8H342M336.8 253.7V258.8M339 258.8V266M332.9 263H339M339 262.7H342M333.6 285V304M323 291.8H333.6M329.2 285V291.8M329.2 288.9H333.6M331.5 285V288.9M323 298.9H333.6M328.1 291.8V298.9M328 298.9V304M323 302.2H328M326 302.2V304M333.6 293.9H342M333.6 290.7H342M336.6 285V290.7M333.6 286.9H336.6M336.6 287.9H342M339.9 285V287.9M339.8 287.9V290.7M338 290.7V293.9M336.2 290.7V293.9M333.6 298.6H342M337.6 293.9V298.6M337.6 296.8H342M339.1 293.9V296.8M337.9 298.6V304M333.6 300.6H337.9M348.8 152V171M342 162.9H348.8M342 158.7H348.8M345.5 152V158.7M342 154.5H345.5M342 156H345.5M345.5 155.3H348.8M342 167.5H348.8M345.6 162.9V167.5M342 164.5H345.6M348.8 160.9H361M354 152V160.9M348.8 155.5H354M354 155.2H361M358.5 152V155.2M356.6 152V155.2M354.9 160.9V171M348.8 167.5H354.9M348.8 163.2H354.9M354.9 164.8H361M353.9 171V190M353.9 179.1H361M349.6 190V209M342 199.6H349.6M349.6 202.6H361M349.6 194.9H361M357.2 194.9V202.6M357.2 198.3H361M352 209V228M349.2 228V247M342 236.9H349.2M342 233.8H349.2M345.2 228V233.8M346.8 233.8V236.9M345.1 233.8V236.9M342 243.5H349.2M349.2 238.5H361M353.2 228V238.5M349.2 233.3H353.2M349.2 230.2H353.2M353.2 232.3H361M357.2 228V232.3M353.2 229.8H357.2M357.2 230.2H361M356.9 232.3V238.5M356.9 235.1H361M353.8 238.5V247M349.2 243.8H353.8M349.2 240.7H353.8M351.5 240.7V243.8M352.2 243.8V247M353.8 243.2H361M357.6 243.2V247M350.6 247V266M342 258.3H350.6M350.6 253.4H361M354.6 247V253.4M350.6 257.8H361M368.6 -19V0M368.6 -7.4H380M368.6 -12.7H380M373.2 -19V-12.7M373.3 -7.4V0M371.5 57V76M361 68.2H371.5M367.3 68.2V76M371.5 64.8H380M371.5 69H380M369 76V95M361 86H369M369 85.3H380M373.2 76V85.3M372.8 85.3V95M373.1 95V114M361 102.9H373.1M368.1 95V102.9M361 100.2H368.1M365.4 95V100.2M361 98H365.4M365.4 98H368.1M364.1 100.2V102.9M368.1 99.5H373.1M371.2 95V99.5M371.1 99.5V102.9M368 102.9V114M361 108.3H368M364.2 102.9V108.3M363.4 108.3V114M361 110.4H363.4M368 109.2H373.1M370.4 109.2V114M368 112.1H370.4M373.1 106.3H380M373.1 100.6H380M375.8 95V100.6M373.1 98.7H375.8M375.8 97.8H380M373.1 109.9H380M375.8 106.3V109.9M376.7 109.9V114M367.6 133V152M361 142.9H367.6M361 138.1H367.6M365.1 133V138.1M364.2 138.1V142.9M361 139.7H364.2M361 147H367.6M367.6 140.9H380M374.1 133V140.9M367.6 136.2H374.1M371.7 136.2V140.9M367.6 138.3H371.7M371.7 139.1H374.1M374.1 136.8H380M376.7 136.8V140.9M373.8 140.9V152M367.6 147.2H373.8M370 147.2V152M367.6 150.4H370M373.8 148.3H380M367.7 152V171M361 162.3H367.7M361 166.5H367.7M367.7 164.4H380M367.7 158.7H380M373.4 152V158.7M374.1 164.4V171M372.3 171V190M361 180.2H372.3M367 180.2V190M361 184H367M372.3 180.3H380M372.3 174.8H380M375.6 171V174.8M375.5 174.8V180.3M372.9 190V209M361 196.7H372.9M367.3 190V196.7M372.9 196.3H380M372.9 202.3H380M375.5 196.3V202.3M372.1 209V228M361 215.5H372.1M372.1 215.3H380M377.3 209V215.3M372.1 219.7H380M376.9 215.3V219.7M372.1 224.8H380M376.1 224.8V228M370.4 228V247M361 236.9H370.4M370.4 237.4H380M374.2 237.4V247M374.2 242.3H380M391 -76V-57M391 -63.5H399M391 -68.5H399M387.9 -19V0M380 -7.9H387.9M387.9 -7.3H399M387.9 -13.1H399M394.2 -19V-13.1M394.8 -13.1V-7.3M392.9 -7.3V0M392.5 57V76M380 63.6H392.5M384.8 57V63.6M387.7 63.6V76M392.5 63.6H399M392.5 70.5H399M389.7 76V95M380 85.2H389.7M383.8 76V85.2M380 80.4H383.8M380 77.8H383.8M383.8 81.1H389.7M385.8 81.1V85.2M383.8 83.4H385.8M385.8 83.8H389.7M380 91.5H389.7M386.2 85.2V91.5M380 89.2H386.2M384 89.2V91.5M386.2 87.9H389.7M386.2 91.5V95M383.4 91.5V95M389.7 86.2H399M389.7 80.9H399M393.9 76V80.9M396.7 76V80.9M396.7 78.9H399M393.4 80.9V86.2M395.5 80.9V86.2M395.5 83.1H399M395 86.2V95M389.7 91.9H395M389.7 89H395M392.8 89V91.9M395 90.8H399M395 88.4H399M390.7 114V133M380 121.6H390.7M390.7 122.6H399M391.6 133V152M380 139.8H391.6M385.8 133V139.8M385.8 135.4H391.6M388.9 135.4V139.8M388.9 138H391.6M380 146.7H391.6M385.8 139.8V146.7M385.8 143.1H391.6M384.1 146.7V152M380 149.4H384.1M381.6 146.7V149.4M391.6 144.4H399M391.6 137.8H399M394.4 137.8V144.4M391.6 142H394.4M391.6 139.3H394.4M391.3 152V171M380 159.2H391.3M380 165.6H391.3M384.6 159.2V165.6M388.7 159.2V165.6M386.7 165.6V171M391.3 163H399M391.3 156.8H399M395.7 152V156.8M386.5 171V190M380 179.8H386.5M386.5 177.7H399M394.5 171V177.7M390.5 190V209M380 200.6H390.5M390.5 198H399M393.8 190V198M393.8 194.1H399M390.5 202.7H399M395.6 202.7V209M390.3 209V228M380 217.2H390.3M384 209V217.2M380 214H384M390.3 218.3H399M390.3 214.3H399M395.4 209V214.3M394.4 214.3V218.3M389.9 228V247M380 236.3H389.9M389.9 236.3H399M406.7 -57V-38M406.7 -47H418M413.7 -47V-38M406.9 38V57M399 49.9H406.9M406.9 46.7H418M410.7 38V46.7M413 46.7V57M406.9 51.6H413M407.1 76V95M399 83.4H407.1M403.7 76V83.4M399 87.9H407.1M402.7 83.4V87.9M407.1 87.4H418M413.8 87.4V95M407.1 92.3H413.8M407.7 95V114M399 106.7H407.7M404.5 106.7V114M399 111.3H404.5M404.5 110.9H407.7M407.7 103.1H418M412.3 95V103.1M407.7 99.5H412.3M412.3 100.3H418M407.7 107.7H418M414 107.7V114M405.7 114V133M399 120.8H405.7M399 124.9H405.7M405.7 123.8H418M410.7 133V152M399 145.1H410.7M399 138H410.7M404.5 138V145.1M404.2 145.1V152M410.7 142.4H418M401 135V144M402.6 135V144M404.2 135V144M405.8 135V144M407.4 135V144M409 135V144M406.6 152V171M399 163.3H406.6M399 168.4H406.6M402.7 163.3V168.4M406.6 163H418M413.1 152V163M413.1 159.1H418M414.1 163V171M406.6 166.3H414.1M411.2 163V166.3M409.2 166.3V171M414.1 167.9H418M411 171V190M399 183.3H411M399 178.2H411M403.6 171V178.2M406.8 178.2V183.3M404.1 178.2V183.3M411 178.1H418M411 174.1H418M407.8 190V209M399 202.4H407.8M399 196.7H407.8M408.8 209V228M399 219.4H408.8M408.8 216.7H418M409 228V247M399 238.6H409M399 234.5H409M403.3 228V234.5M405.5 234.5V238.6M409 236.1H418M425.5 -38V-19M425.5 -26H437M425.5 -33.5H437M429.8 19V38M418 28H429.8M423 19V28M429.8 28.8H437M426.8 133V152M418 142H426.8M418 138.5H426.8M421 138.5V142M426.8 144H437M420 135V144M421.6 135V144M423.2 135V144M424.8 135V144M426.4 135V144M428 135V144M425.3 152V171M418 159.8H425.3M418 163.6H425.3M430.1 171V190M429.8 190V209M418 200.5H429.8M424.8 190V200.5M429.8 197.9H437M429.8 194.2H437M432.8 190V194.2M434.2 194.2V197.9M429.8 205.3H437M429.8 200.6H437M432.2 197.9V200.6M433.8 200.6V205.3M433.5 205.3V209M426.3 209V228M418 219.8H426.3M426.3 220.1H437M426.3 214.1H437M430.3 228V247M418 238.9H430.3M425.2 238.9V247M425.2 244H430.3M430.3 234.8H437M430.3 232.1H437M430.3 242.4H437M430.3 237.9H437M428.1 247V266M418 259.6H428.1M428.1 259.6H437M428.1 252.2H437M427.9 266V285M418 275.2H427.9M423.3 266V275.2M418 270.8H423.3M427.9 272.7H437M426 304V323M418 314.8H426M418 308.6H426M444.6 -76V-57M437 -64.6H444.6M437 -72H444.6M444.6 -69.5H456M450.1 -76V-69.5M444.6 -61.4H456M449.8 -69.5V-61.4M444.7 19V38M437 28.2H444.7M444.7 30.4H456M449.2 30.4V38M445.6 38V57M437 49.3H445.6M445.6 49.9H456M452.5 49.9V57M445.6 57V76M437 65.9H445.6M437 61.3H445.6M442.3 57V61.3M439.9 57V61.3M442.1 61.3V65.9M439.8 61.3V65.9M439.8 64.1H442.1M437 69.3H445.6M440.2 65.9V69.3M440.1 69.3V76M437 73.6H440.1M440.1 73.2H445.6M442.1 73.2V76M445.6 68.2H456M445.6 61.5H456M450.6 57V61.5M453.2 57V61.5M450.6 58.7H453.2M453.2 58.7H456M450.5 61.5V68.2M450.5 64.6H456M452 68.2V76M445.6 71.1H452M449.8 68.2V71.1M448 71.1V76M445.6 73.1H448M448 72.9H452M452 72.4H456M448.6 76V95M437 87.4H448.6M441.1 76V87.4M437 81.5H441.1M441.1 83.5H448.6M441.1 79.7H448.6M444.9 83.5V87.4M441.7 87.4V95M437 91.2H441.7M439.8 87.4V91.2M439.5 91.2V95M441.7 90.4H448.6M448.6 85.6H456M448.6 81.1H456M448.6 91.3H456M451.9 85.6V91.3M453.4 91.3V95M449.1 95V114M437 106.2H449.1M449.1 101.4H456M449.1 107H456M449.1 110H456M451.4 110V114M444.2 114V133M437 120.6H444.2M444.2 125.9H456M444.2 119.3H456M451.5 125.9V133M446.8 125.9V133M444.2 128.7H446.8M446.8 129H451.5M444.1 171V190M437 179H444.1M437 183.4H444.1M441.6 179V183.4M440.2 183.4V190M444.1 181.1H456M449.4 171V181.1M449.4 177.4H456M448.9 181.1V190M448.9 184.4H456M451.7 181.1V184.4M451.6 184.4V190M443.3 190V209M437 198.5H443.3M437 193.1H443.3M443.3 200.8H456M447.7 200.8V209M445.2 209V228M437 220.5H445.2M437 214.8H445.2M440.8 209V214.8M440.8 211.2H445.2M441.8 214.8V220.5M437 216.7H441.8M439.1 216.7V220.5M441.8 220.5V228M441.8 223.1H445.2M445.2 216.7H456M452.3 209V216.7M445.2 214.1H452.3M449.8 209V214.1M445.2 210.7H449.8M452.3 212.6H456M445.2 220.7H456M451.3 216.7V220.7M448.2 216.7V220.7M453 216.7V220.7M450.5 220.7V228M445.2 224H450.5M448.4 224V228M448.4 228V247M437 236H448.4M441.5 228V236M437 231.2H441.5M437 233.4H441.5M438.8 233.4V236M441.5 232.2H448.4M444.3 228V232.2M441.5 230.5H444.3M443 236V247M437 241.6H443M443 241.8H448.4M443 239.1H448.4M448.4 235.3H456M452.8 228V235.3M452.8 231H456M448.4 242.6H456M444.2 247V266M437 259.5H444.2M437 252.4H444.2M440 259.5V266M444.2 253.7H456M450.3 247V253.7M448.6 266V285M437 277.5H448.6M443.6 266V277.5M437 271.1H443.6M439.7 266V271.1M439.7 267.8H443.6M443.6 271.9H448.6M443.6 274.7H448.6M444.4 277.5V285M437 281.5H444.4M444.4 280H448.6M448.6 278.5H456M448.6 272.4H456M451.8 266V272.4M448.6 268.7H451.8M451.8 269.5H456M454.2 269.5V272.4M451.6 272.4V278.5M448.6 274.6H451.6M445.8 285V304M437 293.2H445.8M442.8 285V293.2M445.8 293.6H456M445.8 299.9H456M452.3 299.9V304M444.9 304V323M437 313.1H444.9M437 308.4H444.9M437 319H444.9M441.3 313.1V319M444.9 316.2H456M444.9 308.8H456M451 316.2V323M451 320.4H456M467.6 -57V-38M467.6 -47.2H475M467.5 57V76M456 69.1H467.5M456 62.9H467.5M460.4 57V62.9M456 60H460.4M457.5 60V62.9M464.3 57V62.9M463.5 62.9V69.1M460.9 62.9V69.1M463.6 69.1V76M458.8 69.1V76M467.5 69.1H475M467.5 63.3H475M472.2 57V63.3M467.5 61H472.2M469.7 61V63.3M472.2 60H475M470.8 69.1V76M467.5 71.8H470.8M467.5 73.4H470.8M470.8 73.3H475M462.6 76V95M456 88.5H462.6M456 83.6H462.6M462.6 84.9H475M470.1 84.9V95M462.6 90.7H470.1M466.3 84.9V90.7M470.1 88.9H475M465.8 95V114M456 101.4H465.8M465.8 104.3H475M465.8 98.3H475M470.8 98.3V104.3M464.2 114V133M456 122.5H464.2M456 117.6H464.2M460.2 114V117.6M460.4 117.6V122.5M464.2 126.3H475M464.2 119.3H475M470.6 114V119.3M468.3 126.3V133M464.4 152V171M456 162.6H464.4M456 158H464.4M459.5 152V158M461.4 162.6V171M456 166.3H461.4M464.4 162.8H475M464.4 155.7H475M468.9 152V155.7M465.9 171V190M456 179.8H465.9M460.4 171V179.8M456 175.6H460.4M456 172.8H460.4M457.7 175.6V179.8M460.4 174.5H465.9M462.4 174.5V179.8M460.4 176.5H462.4M456 185.1H465.9M461.5 179.8V185.1M459.3 185.1V190M456 186.9H459.3M465.9 179.7H475M469.9 171V179.7M465.9 174.4H469.9M465.9 176.7H469.9M469.9 174.1H475M472 171V174.1M465.9 185.4H475M469.6 179.7V185.4M465.9 182.6H469.6M470 185.4V190M465.9 187.3H470M462.9 209V228M456 220.4H462.9M456 216.2H462.9M456 212.1H462.9M459.5 209V212.1M459.2 212.1V216.2M458.6 216.2V220.4M456 217.6H458.6M462.9 218.8H475M470 209V218.8M462.9 215.3H470M467 209V215.3M462.9 212.8H467M470 213.8H475M473.1 209V213.8M470 211.5H473.1M473.1 211.4H475M468.5 218.8V228M462.9 224.8H468.5M465.1 224.8V228M468.5 222.9H475M472.6 218.8V222.9M462.4 228V247M456 239H462.4M456 233.9H462.4M459 228V233.9M456 230.2H459M458.3 233.9V239M458.3 236.1H462.4M461 233.9V236.1M460 236.1V239M456 242.1H462.4M458.7 242.1V247M456 244.8H458.7M462.4 238.5H475M470.5 228V238.5M462.4 233H470.5M466.7 228V233M462.4 231.1H466.7M465.5 233V238.5M462.4 235.7H465.5M465.5 236.5H470.5M470.5 235H475M470.5 231.7H475M473.4 231.7V235M472.1 235V238.5M467.4 238.5V247M462.4 244H467.4M464.5 244V247M467.4 243.9H475M470.7 238.5V243.9M467.4 241.4H470.7M466.2 247V266M456 255.1H466.2M456 260.3H466.2M462.6 260.3V266M466.2 259.5H475M466.2 252.8H475M470.5 247V252.8M470.4 252.8V259.5M467.4 285V304M456 293.2H467.4M461.3 285V293.2M456 288.3H461.3M458.4 285V288.3M461.3 289.7H467.4M464.2 289.7V293.2M461.5 293.2V304M456 297.4H461.5M458.4 293.2V297.4M458.4 295.3H461.5M461.5 298.1H467.4M461.5 301.9H467.4M465.3 298.1V301.9M467.4 296.3H475M467.4 291.3H475M469.9 285V291.3M467.4 287.2H469.9M467.4 288.6H469.9M467.4 299.8H475M470.6 299.8V304M485.2 0V19M475 10.5H485.2M475 6.5H485.2M480.7 0V6.5M485.2 9.9H494M485.2 4.3H494M481.6 57V76M475 64.9H481.6M475 60.6H481.6M475 71.6H481.6M481.6 63.3H494M488.4 57V63.3M481.6 67.9H494M486.1 67.9V76M481.6 71.5H486.1M486.1 70.9H494M489 67.9V70.9M483 95V114M475 105.1H483M483 106.2H494M484.4 114V133M475 124.1H484.4M475 117.9H484.4M480.1 117.9V124.1M479.1 124.1V133M479.1 129.4H484.4M484.4 125.4H494M488.8 125.4V133M484.4 129.7H488.8M488.8 129.2H494M486.3 133V152M475 141.2H486.3M480.4 133V141.2M475 137.6H480.4M481.6 141.2V152M481.6 145.2H486.3M481.6 149.5H486.3M486.3 140.6H494M491.3 133V140.6M486.3 137.6H491.3M491.3 137.6H494M486.3 145.6H494M489 140.6V145.6M491.2 145.6V152M482.8 152V171M475 159.8H482.8M475 156.1H482.8M479.1 152V156.1M479.3 156.1V159.8M482.8 163.7H494M482.8 158.4H494M482.6 171V190M475 181.3H482.6M475 176.6H482.6M480 176.6V181.3M475 186H482.6M482.6 181.4H494M488.7 171V181.4M482.6 174.9H488.7M490.2 181.4V190M482.6 186.1H490.2M486.6 181.4V186.1M486.7 186.1V190M490.2 185.5H494M483.6 190V209M475 200.1H483.6M475 196.2H483.6M475 204H483.6M477.9 200.1V204M478.4 204V209M483.6 201H494M483.6 194.5H494M490.5 190V194.5M488.3 194.5V201M487.2 201V209M483.6 204.3H487.2M487.2 204.2H494M491.3 201V204.2M482.7 209V228M475 217.5H482.7M475 212.4H482.7M478.6 209V212.4M475 223.3H482.7M479.2 223.3V228M482.7 218.3H494M489.4 209V218.3M482.7 213.2H489.4M482.8 228V247M475 238.9H482.8M475 232.1H482.8M479 228V232.1M475 243.7H482.8M479.3 238.9V243.7M482.8 236.4H494M488.6 228V236.4M482.8 233.3H488.6M488.6 230.9H494M481.7 247V266M475 253.6H481.7M481.7 259.7H494M481.7 255.4H494M487.9 247V255.4M488.8 255.4V259.7M482.8 266V285M475 272.3H482.8M482.2 285V304M503.5 57V76M494 67.3H503.5M494 62.9H503.5M498.4 57V62.9M500 67.3V76M500 72.3H503.5M503.5 68.6H513M503.5 63.2H513M501.3 76V95M501.3 85.2H513M507.1 76V85.2M506.3 85.2V95M505.5 95V114M494 101.5H505.5M499.3 95V101.5M505.5 107.6H513M505.5 101H513M509.1 101V107.6M504.8 114V133M494 122.9H504.8M498 122.9V133M498 126.7H504.8M502.3 126.7V133M504.8 125.8H513M509 125.8V133M504.8 128.2H509M509 129.8H513M503.6 133V152M494 143.1H503.6M494 137.8H503.6M498.5 133V137.8M494 135H498.5M495.5 133V135M496 135V137.8M498.9 137.8V143.1M494 140.4H498.9M497 137.8V140.4M498.9 140.1H503.6M501.9 137.8V140.1M501.6 140.1V143.1M497.3 143.1V152M494 146.9H497.3M494 149.5H497.3M497.3 146.5H503.6M501.5 143.1V146.5M498.8 143.1V146.5M501.5 146.5V152M501.5 149.9H503.6M503.6 143H513M503.6 139.3H513M509.3 133V139.3M507.5 139.3V143M508.3 143V152M503.6 147.5H508.3M506.2 143V147.5M505.5 147.5V152M505.5 150.5H508.3M508.3 147.9H513M508.3 145.3H513M511 143V145.3M510.2 147.9V152M508.3 149.2H510.2M510.2 150H513M503 152V171M494 158.4H503M503 161.6H513M507.3 152V161.6M503 155.7H507.3M506.5 161.6V171M503 167.1H506.5M506.5 166.5H513M501.1 171V190M494 179.3H501.1M494 184H501.1M497 179.3V184M496.6 184V190M501.1 182.5H513M501.7 190V209M494 200.4H501.7M501.7 200.8H513M508 190V200.8M504.9 209V228M494 215.4H504.9M496 211V220M497.6 211V220M499.2 211V220M500.8 211V220M502.4 211V220M504 211V220M502.8 228V247M494 238.7H502.8M494 232H502.8M498.4 228V232M499.1 232V238.7M494 235H499.1M495.8 232V235M497.1 238.7V247M494 242.5H497.1M497.1 242.7H502.8M499.7 238.7V242.7M502.8 236.8H513M509.5 228V236.8M502.8 233.6H509.5M509.5 232.5H513M509.5 229.6H513M507.9 236.8V247M502.8 242.2H507.9M502.8 240.2H507.9M504.6 236.8V240.2M504.7 240.2V242.2M507.9 243.5H513M511.3 243.5V247M496 230V239M497.6 230V239M499.2 230V239M500.8 230V239M502.4 230V239M504 230V239M504.9 247V266M494 256.8H504.9M499.8 247V256.8M494 251.6H499.8M498 256.8V266M494 261.6H498M498 260.8H504.9M502.4 256.8V260.8M504.9 257.1H513M504.9 252.8H513M508.1 247V252.8M501.8 266V285M494 274.9H501.8M501.8 272.3H513M508.6 266V272.3M501.8 278.9H513M508.5 272.3V278.9M522.3 19V38M513 30.8H522.3M513 24H522.3M522.3 26.6H532M519.8 38V57M513 46.2H519.8M513 51.2H519.8M519.8 47.5H532M526.2 38V47.5M526.1 47.5V57M521.7 76V95M513 86H521.7M513 80.9H521.7M521.7 86.1H532M528 86.1V95M520.9 95V114M513 104H520.9M513 100.5H520.9M517 95V100.5M513 97.5H517M515.9 100.5V104M519 100.5V104M513 107.9H520.9M517.7 104V107.9M515.5 104V107.9M516.7 107.9V114M513 111.6H516.7M520.9 105.1H532M525.7 95V105.1M520.9 100.2H525.7M520.9 97H525.7M523.2 97V100.2M520.9 101.8H525.7M525.7 101.7H532M525.7 98.1H532M528.7 95V98.1M528.1 98.1V101.7M526.2 105.1V114M520.9 108.3H526.2M523.8 105.1V108.3M526.2 109.4H532M524.2 114V133M513 123.4H524.2M518.6 114V123.4M513 117.2H518.6M513 119.7H518.6M516.1 117.2V119.7M518.6 119.7H524.2M518.6 117.8H524.2M521.5 114V117.8M518.4 123.4V133M513 126.6H518.4M513 129.2H518.4M516 129.2V133M518.4 127.1H524.2M520.9 123.4V127.1M524.2 125.2H532M524.2 118.8H532M527 114V118.8M529.1 118.8V125.2M524.2 122H529.1M526.8 118.8V122M529.1 121.3H532M527.3 125.2V133M524.2 128.5H527.3M524.2 130.6H527.3M527.3 129.3H532M529.8 125.2V129.3M527.3 127.3H529.8M529.8 127.8H532M522.2 152V171M513 162H522.2M522.2 162.9H532M522.2 157.6H532M520.5 209V228M513 215.6H520.5M520.5 219.7H532M527 219.7V228M522.2 228V247M513 239.6H522.2M513 233.8H522.2M522.2 234.6H532M522.2 240H532M519.5 247V266M513 253.3H519.5M513 261.1H519.5M519.5 254.1H532M541.9 95V114M532 105.6H541.9M541.9 105.3H551M541.9 114V133M532 120.9H541.9M532 128.2H541.9M541.9 123.1H551M544.4 133V152M532 141.1H544.4M544.4 141.3H551M544.4 145.6H551M540.9 171V190M532 180.8H540.9M540.9 182.8H551M546.7 182.8V190M542.7 228V247M532 235.8H542.7M532 241.8H542.7M536.5 235.8V241.8M538.4 241.8V247M542.7 235.4H551M542.7 239.7H551M541.9 266V285M532 272.6H541.9M532 278.1H541.9M541.9 274.7H551M541.9 281.3H551M557.5 -95V-76M551 -88.7H557.5M551 -82.6H557.5M557.5 -85.5H570M563.9 -85.5V-76M563.6 -76V-57M551 -65.2H563.6M556.3 -76V-65.2M563.6 -66.8H570M563.6 -70.3H570M563.6 -61.1H570M558 0V19M551 7H558M551 13.9H558M557.4 57V76M551 69.4H557.4M551 61.2H557.4M557.4 65.8H570M562.5 57V65.8M563.4 133V152M551 141.1H563.4M563.4 141.6H570M558 190V209M551 199.2H558M558 199.7H570M562 190V199.7M562.5 228V247M551 234.5H562.5M557.9 228V234.5M551 240H562.5M562.5 239.2H570M562.5 232.1H570M581.6 -95V-76M570 -86.3H581.6M576.3 -95V-86.3M570 -90H576.3M575.5 -86.3V-76M570 -80.2H575.5M581.6 -86.8H589M581.6 -82.5H589M582.5 -76V-57M570 -68.5H582.5M574.7 -76V-68.5M575.7 -68.5V-57M570 -61.3H575.7M575.7 -61.7H582.5M582.5 -68.3H589M582.5 -63.1H589M581.9 -38V-19M570 -30.5H581.9M581.9 -27.5H589M581.9 -31.2H589M581.9 -22.3H589M582.4 -19V0M582.4 -10H589M577.1 0V19M570 6.5H577.1M582.7 57V76M570 68H582.7M578 57V68M578 62.7H582.7M582.7 64.8H589M582.7 69.1H589M579.9 95V114M570 105.5H579.9M570 98.8H579.9M579.9 106.2H589M579.9 99.5H589M578.9 114V133M570 125.3H578.9M578.9 125.8H589M578.9 121.5H589M578.9 152V171M570 161.3H578.9M578.9 159H589M578.9 163.5H589M576.5 171V190M570 182.4H576.5M570 176.5H576.5M576.5 177.4H589M576.5 182.3H589M584.7 177.4V182.3M581.5 190V209M570 200.6H581.5M576.8 190V200.6M570 196.9H576.8M576.8 195.7H581.5M575.2 200.6V209M581.5 198.1H589M581.5 203.3H589M578.6 209V228M570 220.9H578.6M578.6 218.3H589M584.4 209V218.3M585 218.3V228M577.9 247V266M570 259H577.9M570 251.3H577.9M577.9 256.7H589M584.2 256.7V266M599.1 -171V-152M599.1 -162.4H608M597.2 -114V-95M589 -104.4H597.2M597.5 -76V-57M589 -68.2H597.5M594.6 -76V-68.2M589 -64.3H597.5M594.1 -68.2V-64.3M597.5 -68H608M603.3 -76V-68M597 -57V-38M589 -45.5H597M597 -47.5H608M596.8 -38V-19M589 -29.3H596.8M596.8 -26.3H608M596.8 -33.4H608M601.1 -33.4V-26.3M601.7 -26.3V-19M596.8 -19V0M589 -8.9H596.8M589 -13.7H596.8M596.8 -10.7H608M601.1 -19V-10.7M598.8 0V19M589 8.3H598.8M589 14.6H598.8M593.1 8.3V14.6M598.8 7.5H608M599.8 76V95M589 87H599.8M599.8 84.2H608M599.8 90.5H608M599.6 114V133M589 121.1H599.6M595.6 114V121.1M589 127.1H599.6M595.6 121.1V127.1M594.1 127.1V133M599.6 122.9H608M599.6 128.7H608M616.4 -133V-114M618.5 -114V-95M608 -105.3H618.5M614.8 -114V-105.3M614.8 -110.8H618.5M613.1 -105.3V-95M613.1 -101.3H618.5M618.5 -104.5H627M620.7 -95V-76M608 -83.1H620.7M613.1 -95V-83.1M613.1 -88.8H620.7M615 -83.1V-76M620.7 -85.2H627M620.7 -89.5H627M615.2 -76V-57M608 -67.3H615.2M608 -72.4H615.2M615.2 -68.2H627M618.6 -57V-38M608 -49.4H618.6M618.6 -50.2H627M615.1 -38V-19M608 -29.1H615.1M615.1 -26.1H627M615.1 -30.1H627M622.7 -38V-30.1M619.2 -30.1V-26.1M620 0V19M608 10.8H620M616 0V10.8M608 6.1H616M616 4.3H620M620 6.5H627M615.2 76V95M608 85.4H615.2M615.2 83.9H627M622.3 76V83.9M635.3 -133V-114M627 -126.6H635.3M627 -120.4H635.3M631.9 -120.4V-114M635.3 -123H646M641 -133V-123M641 -129.1H646M642.3 -123V-114M637.2 -95V-76M627 -87.3H637.2M632 -95V-87.3M627 -82.5H637.2M632.2 -87.3V-82.5M637.2 -86.5H646M637.2 -80.6H646M640.4 -86.5V-80.6M642.1 -80.6V-76M637.7 -76V-57M627 -69.2H637.7M627 -63.6H637.7M635.8 -38V-19M627 -28.3H635.8M627 -34.5H635.8M627 -23.9H635.8M631.4 -28.3V-23.9M631.2 -23.9V-19M635.8 -25.4H646M635.8 -29.8H646M642.3 -38V-29.8M635.8 -33.5H642.3M642.3 -33.4H646M640.2 -29.8V-25.4M642.1 -25.4V-19M638.7 -19V0M627 -10.3H638.7M632.3 -19V-10.3M638.7 -11.7H646M639.2 0V19M627 9.5H639.2M633.5 9.5V19M627 14.9H633.5M633.5 15.8H639.2M639.2 9.4H646M639.2 13.6H646M634.9 38V57M658.3 -133V-114M646 -120.6H658.3M646 -127.8H658.3M650.4 -133V-127.8M651.3 -127.8V-120.6M658.3 -126H665M654.1 -114V-95M646 -106.6H654.1M646 -100.7H654.1M651 -106.6V-100.7M650.3 -100.7V-95M654.1 -106H665M661.3 -114V-106M654.1 -100.5H665M658.9 -106V-100.5M659.9 -100.5V-95M657.7 -95V-76M646 -84.8H657.7M653.2 -95V-84.8M653.5 -84.8V-76M646 -80H653.5M653.5 -79.1H657.7M657.7 -83.5H665M657.7 -90.5H665M655.2 -76V-57M655.2 -65.2H665M656 -57V-38M646 -48.1H656M649.6 -57V-48.1M646 -53.3H649.6M646 -42.5H656M650.5 -42.5V-38M656 -48.7H665M659.5 -57V-48.7M659.5 -52.1H665M655.3 -38V-19M646 -29.6H655.3M652.1 -38V-29.6M652.1 -33.5H655.3M646 -25.7H655.3M655.3 -31.1H665M659.1 -38V-31.1M655.3 -25.5H665M661.6 -31.1V-25.5M659.6 -25.5V-19M658.6 -19V0M646 -6.6H658.6M658.6 -6.3H665M677.3 -152V-133M665 -145H677.3M671.7 -152V-145M670.9 -145V-133M665 -138.7H670.9M670.9 -138.4H677.3M677.3 -143.6H684M673 -133V-114M665 -121.8H673M673 -125.6H684M677.6 -133V-125.6M672.2 -95V-76M665 -84.2H672.2M665 -90.5H672.2M665 -81H672.2M672.2 -84.1H684M678.2 -95V-84.1M674.5 -76V-57M665 -65.3H674.5M665 -69H674.5M669.6 -69V-65.3M668.4 -65.3V-57M665 -61.8H668.4M674.5 -65.3H684M674.5 -70.9H684M678.1 -70.9V-65.3M678.5 -65.3V-57M674.5 -60.2H678.5M678.5 -60.5H684M677.3 -57V-38M665 -47.5H677.3M671 -47.5V-38M665 -43.2H671M671 -41.9H677.3M677.3 -45.1H684M677.3 -50.9H684M675.1 57V76M665 66.1H675.1M675.1 63.4H684M675.1 70.6H684M690.6 -209V-190M684 -198.6H690.6M690.6 -197.1H703M693.6 -152V-133M684 -140.6H693.6M693.6 -145H703M698.8 -152V-145M690.5 -133V-114M684 -123.8H690.5M690.5 -122.3H703M696.9 -133V-122.3M691.9 -114V-95M684 -106.3H691.9M684 -102.4H691.9M691.9 -102.7H703M691.3 -95V-76M684 -86.9H691.3M691.3 -85.5H703M694.1 -57V-38M684 -45.8H694.1M694.1 -46H703M694.1 -51H703M698.4 -51V-46M690.5 19V38M690.5 30.5H703M713.6 -152V-133M703 -142.7H713.6M713.6 -141.2H722M714.7 -133V-114M703 -121.1H714.7M703 -127.9H714.7M710.6 -133V-127.9M710 -127.9V-121.1M708 -121.1V-114M714.7 -125H722M714.7 -117.9H722M710.6 -114V-95M703 -102.4H710.6M710.6 -107.7H722M713.2 -76V-57M703 -65H713.2M703 -70H713.2M708.2 -70V-65M709.6 -65V-57M713.2 -68H722M713.2 -61.9H722M709.3 -57V-38M703 -48.4H709.3M703 -53.8H709.3M703 -41.6H709.3M709.3 -48.4H722M715.1 -57V-48.4M709.3 -52.8H715.1M715.3 -48.4V-38M715.3 -43.3H722M733.3 -190V-171M722 -182.9H733.3M727.6 -190V-182.9M733.3 -181.3H741M733.7 -133V-114M722 -122.1H733.7M727.2 -122.1V-114M733.7 -122.7H741M733.7 -126.1H741M733.7 -118.3H741M731.6 -114V-95M722 -107.2H731.6M728.2 -114V-107.2M722 -101.1H731.6M725.6 -107.2V-101.1M727.1 -101.1V-95M731.6 -103.4H741M731.6 -106.9H741M736.4 -114V-106.9M736.8 -106.9V-103.4M737.7 -103.4V-95M731.9 -95V-76M722 -85.1H731.9M731.9 -87.4H741M737.8 -95V-87.4M731.9 -79.8H741M729.1 -76V-57M722 -67.9H729.1M729.1 -64.3H741M733.9 -76V-64.3M736.7 -64.3V-57M732.8 -57V-38M732.8 -47.1H741M733.1 -19V0M722 -11.6H733.1M722 -6.7H733.1M726.7 -11.6V-6.7M728.6 -6.7V0M733.1 -7.3H741M733.1 -14.9H741M747.5 -190V-171M741 -181.7H747.5M747.5 -177.3H760M752.7 -171V-152M741 -163.4H752.7M745.3 -171V-163.4M746.4 -163.4V-152M746.4 -157.1H752.7M752.7 -161.1H760M747.6 -152V-133M741 -143.5H747.6M747.6 -141.6H760M752 -133V-114M741 -120.8H752M741 -126.6H752M752 -121.9H760M748.9 -95V-76M741 -88.6H748.9M741 -84.2H748.9M748.9 -86H760M748.5 -76V-57M741 -68.3H748.5M741 -60.8H748.5M748.5 -63.8H760M755 -63.8V-57M767.4 -190V-171M760 -179.9H767.4M767.4 -180.6H779M772.4 -180.6V-171M769 -152V-133M760 -139.9H769M771.6 -114V-95M760 -105.9H771.6M771.6 -102.1H779M769.1 -95V-76M769.1 -83.6H779M791.1 -247V-228M779 -239.8H791.1M785.1 -247V-239.8M784.7 -239.8V-228M779 -234.4H784.7M784.7 -234.5H791.1M788 -152V-133M789.5 -133V-114M787.3 -57V-38M779 -47.5H787.3M787.3 -47H798M786.6 -38V-19M779 -29.8H786.6M786.6 -27.5H798M787.7 -19V0M779 -11.5H787.7M787.7 -11.5H798M787.7 -4.4H798M809 -209V-190M809 -201.3H817M827 -133V-114M817 -125.6H827M823.9 95V114M817 104.4H823.9M823.9 101.8H836M831.1 95V101.8M823.9 106.4H836M829.7 106.4V114M844.1 -133V-114M836 -122.4H844.1M847.2 57V76M836 66.6H847.2M847.2 69.6H855M847.2 63.7H855M844.5 95V114M836 103.4H844.5M836 110.2H844.5M844.5 105.5H855M846.8 114V133M836 126.3H846.8M836 120.5H846.8M842.4 114V120.5M846.8 121.7H855M846.8 127.3H855M848 133V152M836 145.3H848M836 139H848M842 145.3V152M848 143H855M848 138H855M865.5 -228V-209M855 -219.9H865.5M855 -214H865.5M862 -171V-152M862 -164.7H874M862 -158.2H874M868.4 -164.7V-158.2M864 -114V-95M855 -101.4H864M855 -106.8H864M865 57V76M855 66.1H865M865 67.9H874M865 64.1H874M862.7 76V95M855 87.1H862.7M855 83H862.7M862.7 85H874M867 85V95M867 88.5H874M866.5 133V152M855 143.4H866.5M866.5 142.5H874M885.1 -95V-76M882.6 38V57M874 49H882.6M874 44.3H882.6M882.6 45.3H893M886.5 38V45.3M885.9 57V76M874 66.7H885.9M885.9 66.9H893M885.9 61.7H893M883.2 95V114M874 107.6H883.2M874 100.7H883.2M883.2 107.7H893M883.2 100.9H893M880.8 114V133M874 120.6H880.8M874 128.8H880.8M880.8 124.1H893M887.8 114V124.1M885.4 124.1V133M902.1 -247V-228M902.1 -237.9H912M902.4 -152V-133M893 -145.4H902.4M902.4 -140.2H912M902.4 -147.3H912M900.1 -57V-38M893 -48.3H900.1M893 -41.6H900.1M900.1 -45.9H912M906 -45.9V-38M902.9 -38V-19M893 -26.1H902.9M902.9 -31.3H912M902.9 0V19M893 11.8H902.9M893 7.4H902.9M899.1 7.4V11.8M899.5 11.8V19M902.9 12.6H912M905.4 19V38M893 26.3H905.4M898.7 19V26.3M905.4 25.9H912M905.4 30.1H912M901.8 38V57M893 44.3H901.8M901.8 47.5H912M906.1 47.5V57M899.5 76V95M893 88.4H899.5M899.5 87H912M905.3 76V87M904.4 87V95M899.9 95V114M893 104.1H899.9M899.9 102.1H912M905.7 95V102.1M904.9 102.1V114M899.9 110H904.9M920.4 -247V-228M912 -235.2H920.4M912 -241.1H920.4M921 -133V-114M912 -120.7H921M912 -128.8H921M921 -124.1H931M919.1 -57V-38M912 -50.7H919.1M919.1 -50.3H931M925.3 -57V-50.3M918.7 -19V0M912 -10.6H918.7M918.7 -7.7H931M918.4 38V57M912 48.2H918.4M912 43.8H918.4M918.4 46.8H931M926.5 46.8V57M918.4 50.9H926.5M924.6 57V76M912 66.3H924.6M919.8 57V66.3M918.7 66.3V76M924.6 69H931M924.6 63.9H931M941.2 -76V-57M931 -66.5H941.2M941.2 -67.4H950M941.2 -62.4H950M941.3 -57V-38M931 -47.9H941.3M935.9 -47.9V-38M935.9 -41.9H941.3M941.3 -49.7H950M939.2 -19V0M931 -9.6H939.2M939.2 -7.3H950M941.7 57V76M931 68.9H941.7M941.7 67.6H950M941.3 76V95M931 84.7H941.3M935 76V84.7M941.3 86.3H950M943.1 95V114M931 105.2H943.1M938.2 105.2V114M943.1 104.7H950M960 -171V-152M950 -159.4H960M950 -164.8H960M959.7 -133V-114M950 -122.2H959.7M950 -126.5H959.7M959.7 -124.9H969M959.7 -117.9H969M962.2 -114V-95M950 -102.3H962.2M954.5 -114V-102.3M950 -109.4H954.5M954.5 -109.4H962.2M962.2 -104.5H969M957.4 -95V-76M950 -83.2H957.4M957.4 -87.4H969M963.7 -95V-87.4M965.1 -87.4V-76M957.4 -81H965.1M965.1 -83.2H969M958.4 -76V-57M950 -66.1H958.4M958.4 -68.5H969M962.8 -76V-68.5M958.4 -63.9H969M964.3 -68.5V-63.9M961.3 -19V0M950 -10.6H961.3M961.3 -8.4H969M958.3 0V19M950 10.4H958.3M950 3.4H958.3M958.3 9.8H969M957.1 19V38M950 27.1H957.1M950 31.7H957.1M957.1 27.9H969M964 19V27.9M964 27.9V38M964 32.9H969M960.2 57V76M950 67.3H960.2M960.2 69.7H969M960.8 76V95M950 83.9H960.8M960.8 83.8H969M960.8 88.7H969M979 -152V-133M969 -141.3H979M979 -142.8H988M976.9 -114V-95M969 -102.2H976.9M969 -110H976.9M976.9 -104.2H988M975.5 -95V-76M969 -88.2H975.5M975.5 -82.5H988M980.2 -82.5V-76M977.4 -76V-57M969 -64.4H977.4M969 -68.3H977.4M977.4 -67.9H988M980.8 -57V-38M969 -45.1H980.8M980.8 -45.6H988M978.6 -19V0M969 -12.2H978.6M978.6 -10.9H988M978.6 -7H988M978.6 0V19M969 6.8H978.6M978.6 11.1H988M1000.6 -228V-209M988 -218.8H1000.6M995.8 -228V-218.8M995.3 -218.8V-209M1000.6 -217.1H1007M1000.6 -222.4H1007M994.5 -209V-190M988 -197.6H994.5M994.5 -199.2H1007M999.8 -209V-199.2M1001.1 -199.2V-190M994.7 -190V-171M988 -182.9H994.7M994.7 -182.7H1007M1001.1 -190V-182.7M996.4 -152V-133M988 -142.9H996.4M996.4 -142.3H1007M995.3 -133V-114M988 -126.4H995.3M995.3 -123.5H1007M999.3 -133V-123.5M1002 -123.5V-114M995.5 -76V-57M988 -63.6H995.5M988 -69.3H995.5M995.5 -66.5H1007M1001.8 -76V-66.5M999.7 -66.5V-57M995.9 -57V-38M988 -46.4H995.9M995.9 -46.3H1007M1000.4 -57V-46.3M995.9 -50.9H1000.4M1002.1 -46.3V-38M1000.2 -38V-19M988 -25.3H1000.2M988 -30.5H1000.2M994.2 -38V-30.5M995.9 -25.3V-19M1000.2 -26.3H1007M1000.2 -30.7H1007M998.6 -19V0M988 -8.6H998.6M993.5 -8.6V0M998.6 -9H1007M998.6 -12.3H1007M999.2 0V19M988 8.1H999.2M992.1 0V8.1M992.1 8.1V19M988 14H992.1M992.1 14.7H999.2M999.2 6.6H1007M994.8 19V38M988 27.8H994.8M994.8 31.2H1007M998.4 38V57M988 46.6H998.4M993.7 46.6V57M998.4 49.4H1007M998.4 45.2H1007M997.7 57V76M988 63.9H997.7M997.7 64.6H1007M1019.3 -209V-190M1007 -197.3H1019.3M1011.4 -197.3V-190M1019.3 -199.9H1026M1019.3 -194.3H1026M1015 -190V-171M1007 -180.8H1015M1015 -181.7H1026M1022 -190V-181.7M1019.9 -181.7V-171M1013.7 -171V-152M1007 -164.4H1013.7M1007 -160.2H1013.7M1013.7 -159.8H1026M1019.7 -171V-159.8M1019.7 -165.7H1026M1019 -159.8V-152M1016.9 -133V-114M1007 -124.2H1016.9M1013 -133V-124.2M1016.9 -123.4H1026M1018.2 -95V-76M1007 -87.7H1018.2M1007 -83.5H1018.2M1012.4 -83.5V-76M1018.2 -87.6H1026M1018.1 -76V-57M1007 -64.8H1018.1M1007 -72.3H1018.1M1012.1 -76V-72.3M1012.9 -72.3V-64.8M1010.8 -64.8V-57M1018.1 -64.1H1026M1018.1 -68.1H1026M1018.1 -57V-38M1007 -49.3H1018.1M1018.1 -50H1026M1017.9 -38V-19M1007 -31.2H1017.9M1007 -23.5H1017.9M1012.9 -31.2V-23.5M1012.7 -23.5V-19M1017.9 -26.3H1026M1016.9 -19V0M1007 -6.8H1016.9M1007 -13.5H1016.9M1013.4 -6.8V0M1016.9 -12.1H1026M1016.9 -6.9H1026M1014.9 0V19M1007 10.8H1014.9M1007 6.6H1014.9M1014.9 11.8H1026M1014.5 38V57M1007 50.1H1014.5M1007 43H1014.5M1014.5 48.4H1026M1021.6 48.4V57M1016.6 57V76M1007 64.2H1016.6M1016.6 69.7H1026M1016.6 63H1026M1034.7 -152V-133M1026 -145.3H1034.7M1034.7 -141.8H1045M1040.1 -152V-141.8M1034.7 -148.1H1040.1M1040.1 -147.7H1045M1038.6 -141.8V-133M1033.6 -57V-38M1026 -48.2H1033.6M1026 -41.8H1033.6M1033.6 -47.3H1045M1037.4 -47.3V-38M1038.1 0V19M1026 11.5H1038.1M1033 11.5V19M1038.1 7.4H1045M1038.1 13H1045M1036.3 38V57M1026 49.6H1036.3M1026 45.5H1036.3M1032 38V45.5M1030.5 45.5V49.6M1031.3 49.6V57M1036.3 44.7H1045M1036.3 50.2H1045M1036.9 57V76M1026 67.2H1036.9M1032.1 57V67.2M1030.7 67.2V76M1036.9 67.6H1045M1036.9 62.2H1045M1052.2 -114V-95M1045 -107.1H1052.2M1052.2 -105.9H1064M1058.7 -114V-105.9M1057.9 -105.9V-95M1057.9 -102.1H1064M1052.9 -38V-19M1045 -25.8H1052.9M1052.9 -28.9H1064M1057.5 -38V-28.9M1055.1 -19V0M1045 -11.3H1055.1M1055.1 -10.4H1064M1055.1 -6.7H1064M1051.3 0V19M1045 7H1051.3M1051.3 6.3H1064M1051.3 13.3H1064M1056.9 19V38M1045 30.4H1056.9M1049.7 30.4V38M1056.9 31.1H1064M1056.9 24.9H1064M1056.9 38V57M1045 46.9H1056.9M1050.3 46.9V57M1045 51.9H1050.3M1050.3 51.7H1056.9M1056.9 49.3H1064M1056.9 42.1H1064M1054.7 57V76M1045 64.6H1054.7M1045 69.3H1054.7M1054.7 63.6H1064M1054.7 71.4H1064M1075.1 -57V-38M1064 -48.8H1075.1M1075.1 -48.6H1083M1071.6 -38V-19M1064 -30.2H1071.6M1071.6 -29.9H1083M1077.4 -38V-29.9M1070.7 -19V0M1064 -12.2H1070.7M1064 -6.2H1070.7M1070.7 -9.1H1083M1078.5 -9.1V0M1075.5 0V19M1064 8.2H1075.5M1071 8.2V19M1064 12.6H1071M1071 11.8H1075.5M1075.5 10.7H1083M1093.9 -19V0M1083 -11.3H1093.9M1090.2 -19V-11.3M1083 -5H1093.9M1088.4 -5V0M1093.9 -8H1102M1092.2 19V38M1083 26.3H1092.2M1083 30.4H1092.2M1092.2 31.7H1102M1089.7 38V57M1083 46.1H1089.7M1083 52.9H1089.7M1089.7 49.4H1102M1096.9 49.4V57M1111.3 19V38M1102 28.9H1111.3M1111.3 28.4H1121"/></defs>
<use href="#gridp" fill="none" stroke="#7fb8bb" stroke-width="0.7"/>
<path d="M188 866C190.8 866.7 197.5 867.7 205 870C212.5 872.3 223.8 876.2 233 880C242.2 883.8 250 887.7 260 893C270 898.3 282.5 905.3 293 912C303.5 918.7 318 929.5 323 933" fill="none" stroke="#7fb8bb" stroke-width="0.7"/>
<path d="M323 933L257 1088L350 1132" fill="none" stroke="#7fb8bb" stroke-width="0.7"/>
<path d="M516 1233L560 1210L640 1183L700 1160L773 1130L865 1094" fill="none" stroke="#7fb8bb" stroke-width="0.7"/>
<path d="M447 950C450.8 947.5 461.2 938 470 935C478.8 932 491.7 931.2 500 932C508.3 932.8 510 937.8 520 940C530 942.2 546.7 943.3 560 945C573.3 946.7 586.7 948.3 600 950C613.3 951.7 633.3 954.2 640 955" fill="none" stroke="#7fb8bb" stroke-width="0.7"/>
<path d="M1082 985L960 1040L1000 1100L1060 1200L1082 1260" fill="none" stroke="#7fb8bb" stroke-width="0.7"/>
<path d="M1082 1040L1000 1075L930 1110" fill="none" stroke="#7fb8bb" stroke-width="0.7"/>
<path d="M880 1230C886.7 1229.7 906.7 1230.5 920 1228C933.3 1225.5 946.7 1218.8 960 1215C973.3 1211.2 986.7 1206.2 1000 1205C1013.3 1203.8 1026.3 1206.8 1040 1208C1053.7 1209.2 1075 1211.3 1082 1212" fill="none" stroke="#7fb8bb" stroke-width="0.7"/>
<path d="M651 939L677 918.6L708.6 922.3L695.6 948.3" fill="none" stroke="#7fb8bb" stroke-width="0.7"/>
<path d="M708.6 922.3L732.7 940.9L805 920.5L821.7 950L842 933.5" fill="none" stroke="#7fb8bb" stroke-width="0.7"/>
<path d="M962.7 970.5L1081.4 1004" fill="none" stroke="#7fb8bb" stroke-width="0.7"/>
<g clip-path="url(#c04)"><use href="#gridp" fill="none" stroke="#bdcfbd" stroke-width="0.9"/></g>
<mask id="lm" maskUnits="userSpaceOnUse" x="0" y="800" width="1240" height="600"><rect x="0" y="800" width="1240" height="600" fill="#fff"/><rect x="335.1" y="1051.5" width="21.8" height="11" fill="#000" transform="rotate(-78 346 1057)"/><rect x="491.8" y="1034.5" width="28.4" height="11" fill="#000" transform="rotate(27 506 1040)"/><rect x="390.8" y="1134.5" width="28.4" height="11" fill="#000" transform="rotate(18 405 1140)"/><rect x="473.1" y="1199.5" width="21.8" height="11" fill="#000" transform="rotate(-8 484 1205)"/><rect x="598.8" y="1095.5" width="28.4" height="11" fill="#000" transform="rotate(28 613 1101)"/><rect x="606.8" y="1051.5" width="28.4" height="11" fill="#000" transform="rotate(-62 621 1057)"/><rect x="661.8" y="1047.5" width="28.4" height="11" fill="#000" transform="rotate(-82 676 1053)"/><rect x="629.1" y="1173.5" width="21.8" height="11" fill="#000" transform="rotate(12 640 1179)"/><rect x="755.8" y="1102.5" width="28.4" height="11" fill="#000" transform="rotate(2 770 1108)"/><rect x="844.1" y="1118.5" width="21.8" height="11" fill="#000" transform="rotate(-55 855 1124)"/><rect x="884.8" y="1035.5" width="28.4" height="11" fill="#000" transform="rotate(48 899 1041)"/><rect x="933.8" y="987.5" width="28.4" height="11" fill="#000" transform="rotate(42 948 993)"/><rect x="1006.1" y="1085.5" width="21.8" height="11" fill="#000" transform="rotate(-48 1017 1091)"/><rect x="684" y="924" width="250" height="9.2" fill="#000"/></mask>
<g mask="url(#lm)">
<path d="M442.5 951.2C447.9 948.8 454.6 947 460 945.5C465.4 944 470 942.9 475 942.5C480 942.1 485.8 941.8 490 943C494.2 944.2 495 946.8 500 950C505 953.2 512.5 957.5 520 962.5C527.5 967.5 537.5 975.2 545 980C552.5 984.8 565 991.2 565 991.2C565 991.2 570.8 988.3 575 986.2C579.2 984.2 585 981 590 978.8C595 976.5 600 974.2 605 972.5C610 970.8 614.6 969.8 620 968.8C625.4 967.7 637.5 966.2 637.5 966.2C637.5 966.2 642.1 960.6 645 957.5C647.9 954.4 651.2 950.4 655 947.5C658.8 944.6 662.5 942.3 667.5 940C672.5 937.7 679.6 935.1 685 933.8C690.4 932.4 700 932 700 932C700 932 715 932 715 932C715 932 717.9 933.8 720 934C722.1 934.2 725.8 933.3 727.5 933C729.2 932.7 730 932 730 932C730 932 780 932 780 932C780 932 790 934.1 795 936.2C800 938.4 805.8 942.5 810 945C814.2 947.5 820 951.2 820 951.2C820 951.2 826.7 947.5 830 945C833.3 942.5 837.1 938.4 840 936.2C842.9 934.1 847.5 932 847.5 932C847.5 932 930 932 930 932C930 932 936.7 936.6 940 940C943.3 943.4 947.3 948.3 950 952.5C952.7 956.7 954.8 960.8 956.2 965C957.7 969.2 958.8 977.5 958.8 977.5C958.8 977.5 969.4 977.6 975 978C980.6 978.4 986.2 978.6 992.5 980C998.8 981.4 1006.2 983.8 1012.5 986.2C1018.8 988.8 1024.2 991.5 1030 995C1035.8 998.5 1042.9 1003.8 1047.5 1007.5C1052.1 1011.2 1055.1 1014.2 1057.5 1017.5C1059.9 1020.8 1061.6 1023.8 1062 1027.5C1062.4 1031.2 1061.6 1035.4 1060 1040C1058.4 1044.6 1055.4 1050.4 1052.5 1055C1049.6 1059.6 1046.2 1063.3 1042.5 1067.5C1038.8 1071.7 1034.2 1076.2 1030 1080C1025.8 1083.8 1021.2 1086.2 1017.5 1090C1013.8 1093.8 1010 1098.3 1007.5 1102.5C1005 1106.7 1005 1110.4 1002.5 1115C1000 1119.6 996.2 1125.6 992.5 1130C988.8 1134.4 985 1137.9 980 1141.2C975 1144.6 968.8 1147.9 962.5 1150C956.2 1152.1 949.2 1153.5 942.5 1153.8C935.8 1154 928.8 1152.7 922.5 1151.2C916.2 1149.8 910.4 1147.7 905 1145C899.6 1142.3 894.6 1138.8 890 1135C885.4 1131.2 880.6 1126.7 877.5 1122.5C874.4 1118.3 872.5 1114.2 871.2 1110C870 1105.8 870.4 1100.5 870 1097.5C869.6 1094.5 869.4 1093.2 868.8 1092C868.1 1090.8 867.1 1090.4 866.2 1090.5C865.4 1090.6 864.4 1090.9 863.8 1092.5C863.1 1094.1 862.9 1096.7 862.5 1100C862.1 1103.3 862.7 1107.9 861.2 1112.5C859.8 1117.1 856.9 1122.9 853.8 1127.5C850.6 1132.1 846.5 1135.8 842.5 1140C838.5 1144.2 834.6 1149.2 830 1152.5C825.4 1155.8 820 1158.1 815 1160C810 1161.9 806.7 1163 800 1163.8C793.3 1164.5 782.1 1164.9 775 1164.5C767.9 1164.1 762.9 1162.8 757.5 1161.2C752.1 1159.7 746.7 1156.9 742.5 1155C738.3 1153.1 735.8 1150.6 732.5 1150C729.2 1149.4 726.2 1149.6 722.5 1151.2C718.8 1152.9 714.6 1156.9 710 1160C705.4 1163.1 700 1167.1 695 1170C690 1172.9 685 1175.6 680 1177.5C675 1179.4 670.4 1180.7 665 1181.2C659.6 1181.8 652.9 1181.2 647.5 1180.8C642.1 1180.3 637.5 1180.5 632.5 1178.8C627.5 1177 622.1 1173.5 617.5 1170C612.9 1166.5 608.3 1161.7 605 1157.5C601.7 1153.3 599.4 1149.6 597.5 1145C595.6 1140.4 595.4 1134.2 593.8 1130C592.1 1125.8 590.6 1122.7 587.5 1120C584.4 1117.3 578.8 1115.2 575 1113.8C571.2 1112.3 568.3 1110.2 565 1111.2C561.7 1112.3 557.5 1116.9 555 1120C552.5 1123.1 551.2 1126.2 550 1130C548.8 1133.8 548.8 1137.5 547.5 1142.5C546.2 1147.5 544.6 1154.6 542.5 1160C540.4 1165.4 537.9 1170.4 535 1175C532.1 1179.6 529.2 1183.8 525 1187.5C520.8 1191.2 515 1194.8 510 1197.5C505 1200.2 500.8 1202.1 495 1203.8C489.2 1205.4 480.8 1207.1 475 1207.5C469.2 1207.9 466.2 1207.1 460 1206.2C453.8 1205.4 444.2 1203.8 437.5 1202.5C430.8 1201.2 425.4 1200.4 420 1198.8C414.6 1197.1 410 1195.2 405 1192.5C400 1189.8 394.6 1186.2 390 1182.5C385.4 1178.8 381.2 1174.6 377.5 1170C373.8 1165.4 370.4 1160.4 367.5 1155C364.6 1149.6 360 1137.5 360 1137.5C360 1137.5 355.4 1136.7 352.5 1135C349.6 1133.3 345.8 1130.4 342.5 1127.5C339.2 1124.6 335.1 1121.2 332.5 1117.5C329.9 1113.8 327.9 1108.8 327 1105C326.1 1101.2 325.7 1098.8 327 1095C328.3 1091.2 331.6 1086.7 335 1082.5C338.4 1078.3 344.8 1075.4 347.5 1070C350.2 1064.6 350.2 1056.2 351.2 1050C352.3 1043.8 351.9 1037.9 353.8 1032.5C355.6 1027.1 358.5 1022.1 362.5 1017.5C366.5 1012.9 372.5 1008.3 377.5 1005C382.5 1001.7 388.3 1000.4 392.5 997.5C396.7 994.6 398.8 991.9 402.5 987.5C406.2 983.1 410.8 975.8 415 971.2C419.2 966.7 422.9 963.3 427.5 960C432.1 956.7 437.1 953.7 442.5 951.2Z" fill="none" stroke="#1a1400" stroke-width="0.9"/>
<path d="M387.5 1040C392.1 1035.4 397.1 1034.7 402.5 1032.5C407.9 1030.3 413.8 1028.5 420 1027C426.2 1025.5 433.3 1024.3 440 1023.8C446.7 1023.2 453.3 1023.2 460 1023.8C466.7 1024.3 474.6 1025.8 480 1027C485.4 1028.2 485.8 1027.8 492.5 1031.2C499.2 1034.8 513.8 1044.8 520 1048C526.2 1051.2 526.7 1050.7 530 1050.5C533.3 1050.3 535.8 1049.4 540 1047C544.2 1044.6 550 1039.9 555 1036.2C560 1032.6 565 1028.5 570 1025C575 1021.5 580 1018.3 585 1015C590 1011.7 595 1008.1 600 1005C605 1001.9 610 999.2 615 996.2C620 993.3 625 990.2 630 987.5C635 984.8 639.2 982.5 645 980C650.8 977.5 658.3 974.6 665 972.5C671.7 970.4 677.5 968.4 685 967.5C692.5 966.6 701.7 966.6 710 967C718.3 967.4 726.7 968.7 735 970C743.3 971.3 751.7 973.5 760 975C768.3 976.5 776.7 977.9 785 978.8C793.3 979.6 802.5 980.1 810 980C817.5 979.9 823.3 979 830 978C836.7 977 843.3 974.9 850 973.8C856.7 972.6 863.3 971.7 870 971.2C876.7 970.8 883.3 970.6 890 971.2C896.7 971.9 903.8 973.3 910 975C916.2 976.7 922.9 979.2 927.5 981.2C932.1 983.3 933.8 984.8 937.5 987.5C941.2 990.2 945.8 993.8 950 997.5C954.2 1001.2 959.2 1006.2 962.5 1010C965.8 1013.8 968.2 1016.2 970 1020C971.8 1023.8 972.9 1027.9 973.2 1032.5C973.6 1037.1 973 1042.5 972 1047.5C971 1052.5 969.9 1057.5 967.5 1062.5C965.1 1067.5 961.2 1073.5 957.5 1077.5C953.8 1081.5 949.6 1084.2 945 1086.2C940.4 1088.3 935 1089.8 930 1090C925 1090.2 920 1089.2 915 1087.5C910 1085.8 904.6 1082.7 900 1080C895.4 1077.3 891.7 1073.8 887.5 1071.2C883.3 1068.8 879.6 1066.7 875 1065C870.4 1063.3 865 1062.3 860 1061.2C855 1060.2 850 1059.8 845 1058.8C840 1057.7 833.3 1056 830 1055C826.7 1054 825 1052.5 825 1052.5C825 1052.5 818.3 1052.9 817.5 1055C816.7 1057.1 820 1061.2 820 1065C820 1068.8 819.2 1072.9 817.5 1077.5C815.8 1082.1 813.3 1088.1 810 1092.5C806.7 1096.9 801.7 1101 797.5 1103.8C793.3 1106.5 789.6 1108 785 1108.8C780.4 1109.5 774.6 1108.3 770 1108C765.4 1107.7 761.7 1107.5 757.5 1107C753.3 1106.5 749.6 1105.5 745 1105C740.4 1104.5 735 1103.3 730 1103.8C725 1104.2 719.6 1105.6 715 1107.5C710.4 1109.4 706.7 1112.3 702.5 1115C698.3 1117.7 694.6 1121 690 1123.8C685.4 1126.5 680 1129.3 675 1131.2C670 1133.2 665 1134.8 660 1135.5C655 1136.2 650 1136.4 645 1135.5C640 1134.6 635 1132.6 630 1130C625 1127.4 620 1123.5 615 1120C610 1116.5 605 1112.5 600 1108.8C595 1105 590 1101 585 1097.5C580 1094 575 1090.6 570 1087.5C565 1084.4 559.2 1081.2 555 1078.8C550.8 1076.2 548.3 1074 545 1072.5C541.7 1071 537.9 1070 535 1070C532.1 1070 530 1070.4 527.5 1072.5C525 1074.6 522.5 1078.8 520 1082.5C517.5 1086.2 515.4 1090.4 512.5 1095C509.6 1099.6 505.8 1104.8 502.5 1110C499.2 1115.2 495.8 1122.3 492.5 1126.2C489.2 1130.2 486.2 1131.2 482.5 1133.8C478.8 1136.2 474.6 1139.3 470 1141.2C465.4 1143.2 460.8 1144.5 455 1145.5C449.2 1146.5 441.2 1147.2 435 1147C428.8 1146.8 424.2 1146.5 417.5 1144.5C410.8 1142.5 401.2 1137.8 395 1135C388.8 1132.2 385 1130.4 380 1127.5C375 1124.6 368.8 1120.8 365 1117.5C361.2 1114.2 359 1111.2 357.5 1107.5C356 1103.8 355.4 1099.6 356.2 1095C357.1 1090.4 359.4 1085.8 362.5 1080C365.6 1074.2 370.8 1066.7 375 1060C379.2 1053.3 382.9 1044.6 387.5 1040Z" fill="none" stroke="#1a1400" stroke-width="0.9"/>
<path d="M583.8 1052.5C584.4 1048.8 585.2 1046.2 587.5 1042.5C589.8 1038.8 593.8 1033.8 597.5 1030C601.2 1026.2 605.4 1023.3 610 1020C614.6 1016.7 619.6 1012.9 625 1010C630.4 1007.1 636.7 1004.8 642.5 1002.5C648.3 1000.2 654.2 997.8 660 996.2C665.8 994.7 671.7 993.5 677.5 993C683.3 992.5 690 992.5 695 993C700 993.5 703.8 994.5 707.5 996.2C711.2 998 715 1001 717.5 1003.8C720 1006.5 722.1 1009.6 722.5 1012.5C722.9 1015.4 722.1 1018.8 720 1021.2C717.9 1023.8 713.3 1025.2 710 1027.5C706.7 1029.8 702.9 1032.5 700 1035C697.1 1037.5 694.6 1039.6 692.5 1042.5C690.4 1045.4 688.3 1048.8 687.5 1052.5C686.7 1056.2 687.9 1060.4 687.5 1065C687.1 1069.6 686.7 1075.4 685 1080C683.3 1084.6 680.4 1088.8 677.5 1092.5C674.6 1096.2 671.2 1099.8 667.5 1102.5C663.8 1105.2 659.6 1107.3 655 1108.8C650.4 1110.2 645 1111.2 640 1111.2C635 1111.2 629.6 1110.4 625 1108.8C620.4 1107.1 616.7 1104 612.5 1101.2C608.3 1098.5 603.8 1096 600 1092.5C596.2 1089 592.7 1084.6 590 1080C587.3 1075.4 584.8 1069.6 583.8 1065C582.7 1060.4 583.1 1056.2 583.8 1052.5Z" fill="none" stroke="#1a1400" stroke-width="0.8"/>
<path d="M751.2 1040C752.1 1034.8 754.4 1031.5 757.5 1028.8C760.6 1026 765.4 1024.2 770 1023.8C774.6 1023.3 781 1024 785 1026.2C789 1028.5 791.9 1032.7 793.8 1037.5C795.6 1042.3 796.5 1049.6 796.2 1055C796 1060.4 794.8 1065.8 792.5 1070C790.2 1074.2 786.2 1078.1 782.5 1080C778.8 1081.9 774 1082.3 770 1081.2C766 1080.2 761.7 1077.3 758.8 1073.8C755.8 1070.2 753.8 1065.6 752.5 1060C751.2 1054.4 750.4 1045.2 751.2 1040Z" fill="none" stroke="#1a1400" stroke-width="0.8"/>
<path d="M885 1025C885.6 1022.9 887.5 1019.6 890 1017.5C892.5 1015.4 896.2 1013.8 900 1012.5C903.8 1011.2 908.3 1010.2 912.5 1010C916.7 1009.8 920.8 1010 925 1011.2C929.2 1012.5 934.2 1014.8 937.5 1017.5C940.8 1020.2 943.3 1024.2 945 1027.5C946.7 1030.8 947.5 1034.2 947.5 1037.5C947.5 1040.8 946.7 1044.6 945 1047.5C943.3 1050.4 940.4 1053.1 937.5 1055C934.6 1056.9 930.8 1058.2 927.5 1058.8C924.2 1059.2 920.4 1058.6 917.5 1058C914.6 1057.4 912.9 1056.8 910 1055C907.1 1053.2 903.3 1050.6 900 1047.5C896.7 1044.4 892.3 1039.2 890 1036.2C887.7 1033.3 887.1 1031.9 886.2 1030C885.4 1028.1 884.4 1027.1 885 1025Z" fill="none" stroke="#1a1400" stroke-width="0.8"/>
<path d="M601.2 1065C601 1061 601.9 1058.3 603.8 1055C605.6 1051.7 609 1048.3 612.5 1045C616 1041.7 621.7 1037.5 625 1035C628.3 1032.5 630.8 1032.1 632.5 1030C634.2 1027.9 633.3 1024.8 635 1022.5C636.7 1020.2 639.6 1017.7 642.5 1016.2C645.4 1014.8 649.6 1013.5 652.5 1013.8C655.4 1014 658.1 1015.6 660 1017.5C661.9 1019.4 662.1 1022.9 663.8 1025C665.4 1027.1 668.1 1027.9 670 1030C671.9 1032.1 673.7 1033.8 675 1037.5C676.3 1041.2 677.6 1047.5 678 1052.5C678.4 1057.5 678.8 1063.3 677.5 1067.5C676.2 1071.7 672.9 1074.2 670 1077.5C667.1 1080.8 664.2 1084.8 660 1087.5C655.8 1090.2 650 1092.6 645 1093.8C640 1094.9 635 1095.3 630 1094.5C625 1093.7 619.2 1091.4 615 1088.8C610.8 1086.1 607.3 1082.7 605 1078.8C602.7 1074.8 601.5 1069 601.2 1065Z" fill="none" stroke="#1a1400" stroke-width="0.8"/>
<path d="M616.2 1072.5C615.2 1070.3 615.2 1067.1 616.2 1063.8C617.3 1060.4 620 1056 622.5 1052.5C625 1049 629.2 1045.4 631.2 1042.5C633.3 1039.6 633.5 1037.5 635 1035C636.5 1032.5 637.9 1029.6 640 1027.5C642.1 1025.4 644.8 1023.1 647.5 1022.5C650.2 1021.9 654.2 1022.5 656.2 1023.8C658.3 1025 659 1027.3 660 1030C661 1032.7 661.7 1036.7 662.5 1040C663.3 1043.3 664.8 1046.7 665 1050C665.2 1053.3 665 1056.7 663.8 1060C662.5 1063.3 660.2 1067.3 657.5 1070C654.8 1072.7 651.2 1074.8 647.5 1076.2C643.8 1077.7 639.2 1078.6 635 1078.8C630.8 1078.9 625.6 1078 622.5 1077C619.4 1076 617.3 1074.7 616.2 1072.5Z" fill="none" stroke="#1a1400" stroke-width="0.8"/>
<path d="M635 1055C633.5 1051.9 634.4 1048.1 635 1045C635.6 1041.9 637.1 1038.8 638.8 1036.2C640.4 1033.8 642.7 1031.2 645 1030C647.3 1028.8 650.4 1028.1 652.5 1028.8C654.6 1029.4 656.2 1031 657.5 1033.8C658.8 1036.5 659.8 1041.5 660 1045C660.2 1048.5 660 1052.1 658.8 1055C657.5 1057.9 655 1061 652.5 1062.5C650 1064 646.7 1065 643.8 1063.8C640.8 1062.5 636.5 1058.1 635 1055Z" fill="none" stroke="#1a1400" stroke-width="0.8"/>
<path d="M640 1047.5C639.4 1045.2 640.2 1042.3 641.2 1040C642.3 1037.7 644.4 1034.8 646.2 1033.8C648.1 1032.7 650.8 1032.7 652.5 1033.8C654.2 1034.8 655.6 1037.7 656.2 1040C656.9 1042.3 657.1 1045.2 656.2 1047.5C655.4 1049.8 653.1 1052.7 651.2 1053.8C649.4 1054.8 646.9 1054.8 645 1053.8C643.1 1052.7 640.6 1049.8 640 1047.5Z" fill="none" stroke="#1a1400" stroke-width="0.8"/>
<path d="M643.8 1042.5C643.8 1040.5 645 1037.4 646.2 1036.2C647.5 1035.1 650 1034.7 651.2 1035.5C652.5 1036.3 653.8 1039.2 653.8 1041.2C653.8 1043.2 652.5 1046.4 651.2 1047.5C650 1048.6 647.5 1048.8 646.2 1048C645 1047.2 643.8 1044.5 643.8 1042.5Z" fill="none" stroke="#1a1400" stroke-width="0.8"/>
</g>
<path d="M449.3 864L447.5 900L446.2 920L444 951.5L420 987.5L402.5 1015L387.5 1038.8L387.3 1046L375 1082.5L360 1125L345 1170L340 1180L325 1207.5L310 1235L292.5 1252.5L262.5 1282.5L226 1317" fill="none" stroke="#808080" stroke-width="4" stroke-linejoin="round"/>
<path d="M660 864L630 930L595 1007.5L555 1080L530 1135L510 1182.5L495 1210L475 1257.5L457.5 1292.5L447 1317" fill="none" stroke="#808080" stroke-width="4" stroke-linejoin="round"/>
<path d="M310 1235L457.5 1292.5" fill="none" stroke="#808080" stroke-width="4" stroke-linejoin="round"/>
<path d="M1084 1262L1079.4 1265.5L1078 1274.5L1061.3 1275.8L1053.5 1282.3L1045.8 1293.9L1038 1304.2L1030.3 1302.9L1022.6 1310.6L1013 1307L1006 1307L1004.5 1312L1010 1316" fill="none" stroke="#808080" stroke-width="3.2" stroke-linejoin="round"/>
<path d="M944 1317 Q950 1309 957 1317Z" fill="#808080"/>
</g>
<rect x="70.5" y="865.5" width="1011.9" height="449.9" fill="none" stroke="#808080" stroke-width="4.3"/>
<path d="M100.6 856V863.4M100.6 1317.5V1323.6M160.1 856V863.4M160.1 1317.5V1323.6M219.5 856V863.4M219.5 1317.5V1323.6M279 856V863.4M279 1317.5V1323.6M338.4 856V863.4M338.4 1317.5V1323.6M397.9 856V863.4M397.9 1317.5V1323.6M457.3 856V863.4M457.3 1317.5V1323.6M516.8 856V863.4M516.8 1317.5V1323.6M576.2 856V863.4M576.2 1317.5V1323.6M635.7 856V863.4M635.7 1317.5V1323.6M695.1 856V863.4M695.1 1317.5V1323.6M754.6 856V863.4M754.6 1317.5V1323.6M814 856V863.4M814 1317.5V1323.6M873.5 856V863.4M873.5 1317.5V1323.6M932.9 856V863.4M932.9 1317.5V1323.6M992.4 856V863.4M992.4 1317.5V1323.6M1051.8 856V863.4M1051.8 1317.5V1323.6M62 895.6H68.4M1084.5 895.6H1090.3M62 955.5H68.4M1084.5 955.5H1090.3M62 1015.3H68.4M1084.5 1015.3H1090.3M62 1075.2H68.4M1084.5 1075.2H1090.3M62 1135H68.4M1084.5 1135H1090.3M62 1194.8H68.4M1084.5 1194.8H1090.3M62 1254.7H68.4M1084.5 1254.7H1090.3M62 1314.5H68.4M1084.5 1314.5H1090.3" stroke="#000" stroke-width="1" fill="none"/>
<text x="346" y="1061.9" font-size="13.5" text-anchor="middle" transform="rotate(-78 346 1057)" fill="#000" stroke="#000" stroke-width="0.6">0.4</text>
<text x="506" y="1044.9" font-size="13.5" text-anchor="middle" transform="rotate(27 506 1040)" fill="#000" stroke="#000" stroke-width="0.6">10.4</text>
<text x="405" y="1144.9" font-size="13.5" text-anchor="middle" transform="rotate(18 405 1140)" fill="#000" stroke="#000" stroke-width="0.6">10.4</text>
<text x="484" y="1209.9" font-size="13.5" text-anchor="middle" transform="rotate(-8 484 1205)" fill="#000" stroke="#000" stroke-width="0.6">0.4</text>
<text x="613" y="1105.9" font-size="13.5" text-anchor="middle" transform="rotate(28 613 1101)" fill="#000" stroke="#000" stroke-width="0.6">20.4</text>
<text x="621" y="1061.9" font-size="13.5" text-anchor="middle" transform="rotate(-62 621 1057)" fill="#000" stroke="#000" stroke-width="0.6">40.4</text>
<text x="676" y="1057.9" font-size="13.5" text-anchor="middle" transform="rotate(-82 676 1053)" fill="#000" stroke="#000" stroke-width="0.6">30.4</text>
<text x="640" y="1183.9" font-size="13.5" text-anchor="middle" transform="rotate(12 640 1179)" fill="#000" stroke="#000" stroke-width="0.6">0.4</text>
<text x="770" y="1112.9" font-size="13.5" text-anchor="middle" transform="rotate(2 770 1108)" fill="#000" stroke="#000" stroke-width="0.6">10.4</text>
<text x="855" y="1128.9" font-size="13.5" text-anchor="middle" transform="rotate(-55 855 1124)" fill="#000" stroke="#000" stroke-width="0.6">0.4</text>
<text x="899" y="1045.9" font-size="13.5" text-anchor="middle" transform="rotate(48 899 1041)" fill="#000" stroke="#000" stroke-width="0.6">20.4</text>
<text x="948" y="997.9" font-size="13.5" text-anchor="middle" transform="rotate(42 948 993)" fill="#000" stroke="#000" stroke-width="0.6">10.4</text>
<text x="1017" y="1095.9" font-size="13.5" text-anchor="middle" transform="rotate(-48 1017 1091)" fill="#000" stroke="#000" stroke-width="0.6">0.4</text>
<text id="lp" stroke="#000" stroke-width="0.55" x="136" y="977.1" font-size="26.8" fill="#000" textLength="151" lengthAdjust="spacingAndGlyphs">Las Paredes</text>
<text id="ec" stroke="#000" stroke-width="0.55" x="395.8" y="1128.4" font-size="27.3" fill="#000" textLength="111.4" lengthAdjust="spacingAndGlyphs">El Cerrito</text>
<text id="cn" stroke="#000" stroke-width="0.55" x="521.5" y="1270.4" font-size="27.5" fill="#000" textLength="152" lengthAdjust="spacingAndGlyphs">Cuadro Nac.</text>
<polygon points="1130.5,712.9 1150.5,665 1159.9,665 1180.2,712.9 1170.7,712.9 1155,676.1 1139.8,712.9" fill="#000"/>
<polygon points="1136.1,798.5 1136.1,733.9 1148.1,733.9 1177.9,785.7 1177.9,733.9 1186.4,733.9 1186.4,798.5 1174.6,798.5 1144.9,747.2 1144.9,798.5" fill="#000"/>
<rect x="1118.2" y="1453.8" width="43.4" height="63.1" fill="#ffff00"/>
<rect x="1118.2" y="1391" width="43.4" height="63.1" fill="#ffe600"/>
<rect x="1118.2" y="1328.3" width="43.4" height="63.1" fill="#ffcc00"/>
<rect x="1118.2" y="1265.5" width="43.4" height="63.1" fill="#ffb200"/>
<rect x="1118.2" y="1202.8" width="43.4" height="63.1" fill="#ff9900"/>
<rect x="1118.2" y="1140" width="43.4" height="63.1" fill="#ff8000"/>
<rect x="1118.2" y="1077.2" width="43.4" height="63.1" fill="#ff6600"/>
<rect x="1118.2" y="1014.5" width="43.4" height="63.1" fill="#ff4c00"/>
<rect x="1118.2" y="951.7" width="43.4" height="63.1" fill="#ff3300"/>
<rect x="1118.2" y="889" width="43.4" height="63.1" fill="#ff1a00"/>
<rect x="1118.2" y="826.2" width="43.4" height="63.1" fill="#ff0000"/>
<line x1="1118.2" y1="889" x2="1161.6" y2="889" stroke="#3a1a00" stroke-width="0.9"/>
<line x1="1118.2" y1="951.7" x2="1161.6" y2="951.7" stroke="#3a1a00" stroke-width="0.9"/>
<line x1="1118.2" y1="1014.5" x2="1161.6" y2="1014.5" stroke="#3a1a00" stroke-width="0.9"/>
<line x1="1118.2" y1="1077.2" x2="1161.6" y2="1077.2" stroke="#3a1a00" stroke-width="0.9"/>
<line x1="1118.2" y1="1140" x2="1161.6" y2="1140" stroke="#3a1a00" stroke-width="0.9"/>
<line x1="1118.2" y1="1202.8" x2="1161.6" y2="1202.8" stroke="#3a1a00" stroke-width="0.9"/>
<line x1="1118.2" y1="1265.5" x2="1161.6" y2="1265.5" stroke="#3a1a00" stroke-width="0.9"/>
<line x1="1118.2" y1="1328.3" x2="1161.6" y2="1328.3" stroke="#3a1a00" stroke-width="0.9"/>
<line x1="1118.2" y1="1391" x2="1161.6" y2="1391" stroke="#3a1a00" stroke-width="0.9"/>
<line x1="1118.2" y1="1453.8" x2="1161.6" y2="1453.8" stroke="#3a1a00" stroke-width="0.9"/>
<rect x="1118.2" y="826.2" width="43.4" height="690.4" fill="none" stroke="#4a2a00" stroke-width="0.9"/>
<text transform="translate(1168.2 1526.8) scale(0.966 1)" font-size="29.3" fill="#000" stroke="#000" stroke-width="0.6">0.4</text>
<text transform="translate(1168.2 1464) scale(0.966 1)" font-size="29.3" fill="#000" stroke="#000" stroke-width="0.6">10.4</text>
<text transform="translate(1168.2 1401.2) scale(0.966 1)" font-size="29.3" fill="#000" stroke="#000" stroke-width="0.6">20.4</text>
<text transform="translate(1168.2 1338.5) scale(0.966 1)" font-size="29.3" fill="#000" stroke="#000" stroke-width="0.6">30.4</text>
<text transform="translate(1168.2 1275.7) scale(0.966 1)" font-size="29.3" fill="#000" stroke="#000" stroke-width="0.6">40.4</text>
<text transform="translate(1168.2 1213) scale(0.966 1)" font-size="29.3" fill="#000" stroke="#000" stroke-width="0.6">50.4</text>
<text transform="translate(1168.2 1150.2) scale(0.966 1)" font-size="29.3" fill="#000" stroke="#000" stroke-width="0.6">60.4</text>
<text transform="translate(1168.2 1087.4) scale(0.966 1)" font-size="29.3" fill="#000" stroke="#000" stroke-width="0.6">70.4</text>
<text transform="translate(1168.2 1024.7) scale(0.966 1)" font-size="29.3" fill="#000" stroke="#000" stroke-width="0.6">80.4</text>
<text transform="translate(1168.2 961.9) scale(0.966 1)" font-size="29.3" fill="#000" stroke="#000" stroke-width="0.6">90.4</text>
<text transform="translate(1168.2 899.2) scale(0.966 1)" font-size="29.3" fill="#000" stroke="#000" stroke-width="0.6">100.4</text>
<rect x="102.5" y="1353.6" width="239" height="9.6" fill="#fff" stroke="#000" stroke-width="0.8"/>
<rect x="102.5" y="1353.6" width="59.8" height="9.6" fill="#000"/>
<rect x="222" y="1353.6" width="59.7" height="9.6" fill="#000"/>
<text x="102.5" y="1380" font-size="16.4" text-anchor="middle" fill="#000" stroke="#000" stroke-width="0.4">0</text>
<text x="162.3" y="1380" font-size="16.4" text-anchor="middle" fill="#000" stroke="#000" stroke-width="0.4">2000</text>
<text x="222" y="1380" font-size="16.4" text-anchor="middle" fill="#000" stroke="#000" stroke-width="0.4">4000</text>
<text x="281.7" y="1380" font-size="16.4" text-anchor="middle" fill="#000" stroke="#000" stroke-width="0.4">6000</text>
<text x="341.5" y="1380" font-size="16.4" text-anchor="middle" fill="#000" stroke="#000" stroke-width="0.4">8000</text>
</svg>
</body></html>
